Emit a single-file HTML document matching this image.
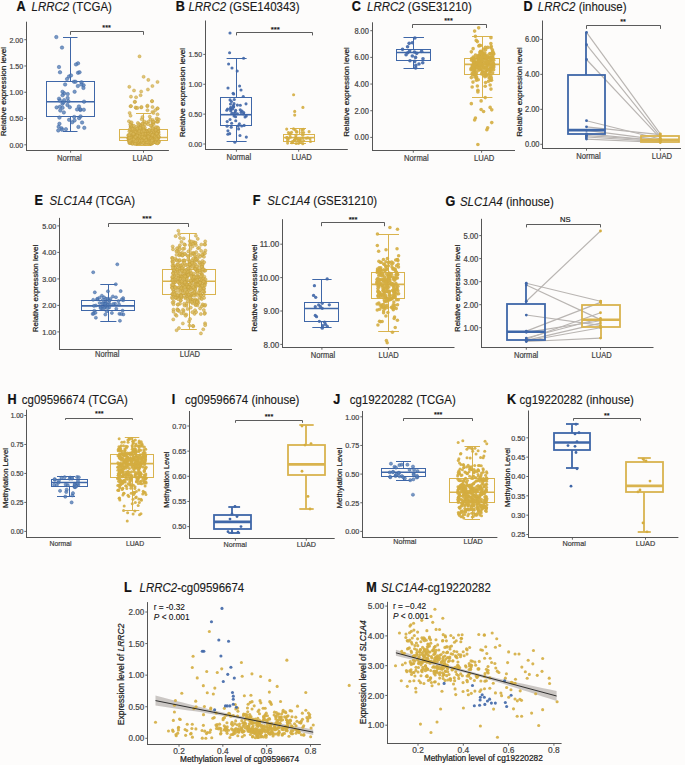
<!DOCTYPE html>
<html><head><meta charset="utf-8"><style>
html,body{margin:0;padding:0;background:#fdfcfb;}
svg{display:block;font-family:"Liberation Sans", sans-serif;}
text{stroke:currentColor;stroke-width:0.22px;}
</style></head><body>
<svg width="685" height="765" viewBox="0 0 685 765">
<rect width="685" height="765" fill="#fdfcfb"/>
<text transform="translate(16.4 10.9) scale(1 1.1)" font-size="12.6" font-weight="bold" fill="#111" color="#111">A</text>
<text transform="translate(31.5 10.9) scale(1 1.1)" font-size="11.5" fill="#1a1a1a" color="#1a1a1a" style="stroke-width:0.12px"><tspan font-style="italic">LRRC2</tspan> (TCGA)</text>
<text x="6.3" y="91.6" font-size="8.1" text-anchor="middle" font-weight="normal" font-style="normal" fill="#1a1a1a" color="#1a1a1a" transform="rotate(-90 6.3 91.6)" >Relative expression level</text>
<line x1="26.5" y1="21.7" x2="26.5" y2="151" stroke="#555555" stroke-width="1" />
<line x1="26" y1="150.5" x2="168.9" y2="150.5" stroke="#555555" stroke-width="1" />
<line x1="24.3" y1="39.7" x2="26.5" y2="39.7" stroke="#555555" stroke-width="0.9" />
<text transform="translate(23.1 42.51) scale(0.9 1.0)" font-size="7.8" text-anchor="end" font-weight="normal" font-style="normal" fill="#444444" color="#444444" >2.00</text>
<line x1="24.3" y1="65.98" x2="26.5" y2="65.98" stroke="#555555" stroke-width="0.9" />
<text transform="translate(23.1 68.78) scale(0.9 1.0)" font-size="7.8" text-anchor="end" font-weight="normal" font-style="normal" fill="#444444" color="#444444" >1.50</text>
<line x1="24.3" y1="92.25" x2="26.5" y2="92.25" stroke="#555555" stroke-width="0.9" />
<text transform="translate(23.1 95.06) scale(0.9 1.0)" font-size="7.8" text-anchor="end" font-weight="normal" font-style="normal" fill="#444444" color="#444444" >1.00</text>
<line x1="24.3" y1="118.53" x2="26.5" y2="118.53" stroke="#555555" stroke-width="0.9" />
<text transform="translate(23.1 121.33) scale(0.9 1.0)" font-size="7.8" text-anchor="end" font-weight="normal" font-style="normal" fill="#444444" color="#444444" >0.50</text>
<line x1="24.3" y1="144.8" x2="26.5" y2="144.8" stroke="#555555" stroke-width="0.9" />
<text transform="translate(23.1 147.61) scale(0.9 1.0)" font-size="7.8" text-anchor="end" font-weight="normal" font-style="normal" fill="#444444" color="#444444" >0.00</text>
<line x1="70.6" y1="150.5" x2="70.6" y2="152.7" stroke="#555555" stroke-width="0.9" />
<text transform="translate(69.4 161) scale(0.9 1.0)" font-size="8.5" text-anchor="middle" font-weight="normal" font-style="normal" fill="#444444" color="#444444" >Normal</text>
<line x1="143.5" y1="150.5" x2="143.5" y2="152.7" stroke="#555555" stroke-width="0.9" />
<text transform="translate(142.7 161) scale(0.9 1.0)" font-size="8.5" text-anchor="middle" font-weight="normal" font-style="normal" fill="#444444" color="#444444" >LUAD</text>
<path d="M70.5 34.8 V31.5 H143.5 V34.8" fill="none" stroke="#4a4a4a" stroke-width="0.9"/>
<text x="106.6" y="29.63" font-size="7.3" text-anchor="middle" font-weight="normal" font-style="normal" fill="#111" color="#111" >***</text>
<line x1="70.5" y1="37.2" x2="70.5" y2="81.5" stroke="#3f67a8" stroke-width="1.0" />
<line x1="70.5" y1="116.5" x2="70.5" y2="131.2" stroke="#3f67a8" stroke-width="1.0" />
<line x1="63" y1="37.5" x2="77.5" y2="37.5" stroke="#3f67a8" stroke-width="1.0" />
<line x1="63" y1="131.5" x2="77.5" y2="131.5" stroke="#3f67a8" stroke-width="1.0" />
<rect x="46.5" y="81.5" width="48" height="35" fill="none" stroke="#3f67a8" stroke-width="1.0"/>
<line x1="46.5" y1="101.71" x2="94.5" y2="101.71" stroke="#3f67a8" stroke-width="1.6" />
<line x1="143.5" y1="113.5" x2="143.5" y2="129.5" stroke="#d9b34e" stroke-width="1.0" />
<line x1="143.5" y1="140.5" x2="143.5" y2="145.5" stroke="#d9b34e" stroke-width="1.0" />
<line x1="136" y1="113.5" x2="151" y2="113.5" stroke="#d9b34e" stroke-width="1.0" />
<line x1="136" y1="145.5" x2="151" y2="145.5" stroke="#d9b34e" stroke-width="1.0" />
<rect x="119.5" y="129.5" width="48" height="11" fill="none" stroke="#d9b34e" stroke-width="1.0"/>
<line x1="119.5" y1="137.5" x2="167.5" y2="137.5" stroke="#d9b34e" stroke-width="1.6" />
<g fill="#5580b6" fill-opacity="0.8" stroke="#3a60a0" stroke-width="0.45"><circle cx="56.3" cy="37.07" r="1.75"/><circle cx="62" cy="47.58" r="1.75"/><circle cx="78" cy="63.35" r="1.75"/><circle cx="76" cy="64.4" r="1.75"/><circle cx="59" cy="67.03" r="1.75"/><circle cx="60" cy="72.28" r="1.75"/><circle cx="78" cy="72.81" r="1.75"/><circle cx="79.5" cy="72.28" r="1.75"/><circle cx="69" cy="76.48" r="1.75"/><circle cx="71" cy="75.43" r="1.75"/><circle cx="67" cy="79.11" r="1.75"/><circle cx="74" cy="81.74" r="1.75"/><circle cx="75.5" cy="81.74" r="1.75"/><circle cx="81.5" cy="82.27" r="1.75"/><circle cx="80.3" cy="109.98" r="1.75"/><circle cx="67.42" cy="104.96" r="1.75"/><circle cx="83.43" cy="87.91" r="1.75"/><circle cx="80.32" cy="109.36" r="1.75"/><circle cx="56.62" cy="107.39" r="1.75"/><circle cx="62.47" cy="103.67" r="1.75"/><circle cx="82.09" cy="122.5" r="1.75"/><circle cx="69.76" cy="107.2" r="1.75"/><circle cx="84.05" cy="101.68" r="1.75"/><circle cx="67.73" cy="94.05" r="1.75"/><circle cx="58.65" cy="126.73" r="1.75"/><circle cx="74.22" cy="116.95" r="1.75"/><circle cx="78.4" cy="126.9" r="1.75"/><circle cx="64.15" cy="93.27" r="1.75"/><circle cx="59.04" cy="98.71" r="1.75"/><circle cx="65.91" cy="129.18" r="1.75"/><circle cx="83.59" cy="85.2" r="1.75"/><circle cx="77.83" cy="86.02" r="1.75"/><circle cx="59.9" cy="100.55" r="1.75"/><circle cx="63.5" cy="102.35" r="1.75"/><circle cx="59.43" cy="123.77" r="1.75"/><circle cx="58.28" cy="130.44" r="1.75"/><circle cx="78.92" cy="106.42" r="1.75"/><circle cx="61.57" cy="128.35" r="1.75"/><circle cx="72.26" cy="122.24" r="1.75"/><circle cx="69.13" cy="119.82" r="1.75"/><circle cx="61.94" cy="129.73" r="1.75"/><circle cx="77.09" cy="109.44" r="1.75"/><circle cx="60.27" cy="110.53" r="1.75"/><circle cx="74.62" cy="91.74" r="1.75"/><circle cx="59.86" cy="106.86" r="1.75"/><circle cx="68.38" cy="101.19" r="1.75"/><circle cx="62.56" cy="107.76" r="1.75"/><circle cx="64.15" cy="100.15" r="1.75"/><circle cx="83.79" cy="109.75" r="1.75"/><circle cx="79.1" cy="118.13" r="1.75"/><circle cx="65.12" cy="84.48" r="1.75"/><circle cx="81.38" cy="84.57" r="1.75"/><circle cx="62.5" cy="91.84" r="1.75"/><circle cx="67.64" cy="98.03" r="1.75"/><circle cx="80.52" cy="116.39" r="1.75"/><circle cx="74.57" cy="120.4" r="1.75"/><circle cx="59.41" cy="117.62" r="1.75"/><circle cx="84.3" cy="127.85" r="1.75"/><circle cx="62.57" cy="95.3" r="1.75"/><circle cx="63.83" cy="112.41" r="1.75"/></g>
<g fill="#d8b656" fill-opacity="0.8" stroke="#c59f38" stroke-width="0.45"><circle cx="141.39" cy="136.66" r="1.55"/><circle cx="139.6" cy="141.17" r="1.55"/><circle cx="131.27" cy="138.07" r="1.55"/><circle cx="155.08" cy="134.88" r="1.55"/><circle cx="130.7" cy="126.84" r="1.55"/><circle cx="130.84" cy="131.82" r="1.55"/><circle cx="145.57" cy="137.08" r="1.55"/><circle cx="143.14" cy="123.05" r="1.55"/><circle cx="149.27" cy="140.8" r="1.55"/><circle cx="137.45" cy="130.93" r="1.55"/><circle cx="152.03" cy="126.89" r="1.55"/><circle cx="130.63" cy="138.98" r="1.55"/><circle cx="134.83" cy="143.04" r="1.55"/><circle cx="148.56" cy="141.24" r="1.55"/><circle cx="130.8" cy="135.91" r="1.55"/><circle cx="137.6" cy="133.58" r="1.55"/><circle cx="150.48" cy="119.41" r="1.55"/><circle cx="149.54" cy="141.51" r="1.55"/><circle cx="136.96" cy="137.43" r="1.55"/><circle cx="132.67" cy="132.44" r="1.55"/><circle cx="139.25" cy="138.31" r="1.55"/><circle cx="150.51" cy="143.69" r="1.55"/><circle cx="139.51" cy="130.78" r="1.55"/><circle cx="131.89" cy="128.37" r="1.55"/><circle cx="150" cy="141.27" r="1.55"/><circle cx="145.72" cy="139.51" r="1.55"/><circle cx="156.41" cy="136.01" r="1.55"/><circle cx="157.06" cy="132.74" r="1.55"/><circle cx="156.25" cy="136.74" r="1.55"/><circle cx="141.7" cy="119.22" r="1.55"/><circle cx="152.87" cy="137.91" r="1.55"/><circle cx="137.63" cy="140.55" r="1.55"/><circle cx="138.02" cy="139.77" r="1.55"/><circle cx="140.53" cy="131.7" r="1.55"/><circle cx="156.9" cy="121.81" r="1.55"/><circle cx="155.68" cy="132.39" r="1.55"/><circle cx="135.9" cy="135.44" r="1.55"/><circle cx="139.37" cy="143.09" r="1.55"/><circle cx="139.49" cy="140.64" r="1.55"/><circle cx="139.42" cy="140.29" r="1.55"/><circle cx="140.41" cy="140" r="1.55"/><circle cx="140.16" cy="133.04" r="1.55"/><circle cx="134.27" cy="139.17" r="1.55"/><circle cx="145.55" cy="130.98" r="1.55"/><circle cx="152.69" cy="136.94" r="1.55"/><circle cx="144.84" cy="139.16" r="1.55"/><circle cx="153.89" cy="136.71" r="1.55"/><circle cx="145.52" cy="134.43" r="1.55"/><circle cx="133.7" cy="130.18" r="1.55"/><circle cx="151.52" cy="139.78" r="1.55"/><circle cx="155.26" cy="138.69" r="1.55"/><circle cx="136.91" cy="142.33" r="1.55"/><circle cx="128.98" cy="121.3" r="1.55"/><circle cx="144.08" cy="138.42" r="1.55"/><circle cx="144.95" cy="139.78" r="1.55"/><circle cx="145.66" cy="142.06" r="1.55"/><circle cx="157.87" cy="136.37" r="1.55"/><circle cx="148.23" cy="136.12" r="1.55"/><circle cx="152.91" cy="135.84" r="1.55"/><circle cx="130.26" cy="140.85" r="1.55"/><circle cx="145.03" cy="143.76" r="1.55"/><circle cx="152.41" cy="122.08" r="1.55"/><circle cx="130.87" cy="136.24" r="1.55"/><circle cx="130.8" cy="142.77" r="1.55"/><circle cx="150.85" cy="136.3" r="1.55"/><circle cx="155.81" cy="142.77" r="1.55"/><circle cx="130.89" cy="126.79" r="1.55"/><circle cx="147.7" cy="133.17" r="1.55"/><circle cx="132.7" cy="138.4" r="1.55"/><circle cx="151.12" cy="143.47" r="1.55"/><circle cx="148.16" cy="138.15" r="1.55"/><circle cx="135.81" cy="142.68" r="1.55"/><circle cx="135.05" cy="132.95" r="1.55"/><circle cx="151.72" cy="143.47" r="1.55"/><circle cx="144.26" cy="141.24" r="1.55"/><circle cx="151.7" cy="125.28" r="1.55"/><circle cx="140.37" cy="141.94" r="1.55"/><circle cx="138.64" cy="142.64" r="1.55"/><circle cx="157.93" cy="129.93" r="1.55"/><circle cx="148.88" cy="130.24" r="1.55"/><circle cx="143.41" cy="141.46" r="1.55"/><circle cx="144.74" cy="140.58" r="1.55"/><circle cx="150.36" cy="140.58" r="1.55"/><circle cx="149.97" cy="141.96" r="1.55"/><circle cx="156.3" cy="140.53" r="1.55"/><circle cx="140.86" cy="124.79" r="1.55"/><circle cx="153.58" cy="132.03" r="1.55"/><circle cx="148.7" cy="137.93" r="1.55"/><circle cx="154.42" cy="138.2" r="1.55"/><circle cx="152.96" cy="141.45" r="1.55"/><circle cx="153.82" cy="138.14" r="1.55"/><circle cx="155.49" cy="142.23" r="1.55"/><circle cx="157.61" cy="143.03" r="1.55"/><circle cx="147.89" cy="131.95" r="1.55"/><circle cx="144.33" cy="121.52" r="1.55"/><circle cx="150.03" cy="130.43" r="1.55"/><circle cx="152.85" cy="123.44" r="1.55"/><circle cx="141.2" cy="135.8" r="1.55"/><circle cx="141.17" cy="140.66" r="1.55"/><circle cx="132.77" cy="136.92" r="1.55"/><circle cx="150.98" cy="139.35" r="1.55"/><circle cx="158.62" cy="141.78" r="1.55"/><circle cx="139.79" cy="142.9" r="1.55"/><circle cx="133.43" cy="142.55" r="1.55"/><circle cx="134.55" cy="137.48" r="1.55"/><circle cx="141.3" cy="136.5" r="1.55"/><circle cx="137.24" cy="139.77" r="1.55"/><circle cx="157.97" cy="121.72" r="1.55"/><circle cx="130.11" cy="136.31" r="1.55"/><circle cx="137.74" cy="133.07" r="1.55"/><circle cx="131.81" cy="125.3" r="1.55"/><circle cx="148.13" cy="140.98" r="1.55"/><circle cx="152.04" cy="143.28" r="1.55"/><circle cx="133.79" cy="131.37" r="1.55"/><circle cx="130.21" cy="140.56" r="1.55"/><circle cx="142.34" cy="123.8" r="1.55"/><circle cx="146.17" cy="135.16" r="1.55"/><circle cx="156.12" cy="128.34" r="1.55"/><circle cx="129.41" cy="131.25" r="1.55"/><circle cx="131.63" cy="143.41" r="1.55"/><circle cx="133.95" cy="131.72" r="1.55"/><circle cx="134.95" cy="140.51" r="1.55"/><circle cx="135.5" cy="140.78" r="1.55"/><circle cx="150.25" cy="139.61" r="1.55"/><circle cx="146.5" cy="131.2" r="1.55"/><circle cx="135.15" cy="129.87" r="1.55"/><circle cx="133.96" cy="128.28" r="1.55"/><circle cx="136.9" cy="142.85" r="1.55"/><circle cx="133.58" cy="140.21" r="1.55"/><circle cx="151.48" cy="143.7" r="1.55"/><circle cx="137.84" cy="138.02" r="1.55"/><circle cx="145.08" cy="132.91" r="1.55"/><circle cx="153.3" cy="140.81" r="1.55"/><circle cx="142.97" cy="135.85" r="1.55"/><circle cx="136.27" cy="135.95" r="1.55"/><circle cx="155.46" cy="128.33" r="1.55"/><circle cx="156.28" cy="140.99" r="1.55"/><circle cx="138.77" cy="141.01" r="1.55"/><circle cx="145.05" cy="140.81" r="1.55"/><circle cx="157.58" cy="127.2" r="1.55"/><circle cx="143.07" cy="138.14" r="1.55"/><circle cx="135.06" cy="135.99" r="1.55"/><circle cx="129.82" cy="136.74" r="1.55"/><circle cx="157.29" cy="136.15" r="1.55"/><circle cx="152.82" cy="138.57" r="1.55"/><circle cx="140.08" cy="139.17" r="1.55"/><circle cx="144.44" cy="142.11" r="1.55"/><circle cx="144.08" cy="140.4" r="1.55"/><circle cx="136.7" cy="133.5" r="1.55"/><circle cx="158.6" cy="137.05" r="1.55"/><circle cx="148.42" cy="138.6" r="1.55"/><circle cx="135.57" cy="137.06" r="1.55"/><circle cx="128.63" cy="135.04" r="1.55"/><circle cx="142.76" cy="140.41" r="1.55"/><circle cx="139.67" cy="136.19" r="1.55"/><circle cx="152.68" cy="135.89" r="1.55"/><circle cx="150.13" cy="140.76" r="1.55"/><circle cx="146.85" cy="140.89" r="1.55"/><circle cx="133.11" cy="141.49" r="1.55"/><circle cx="133.1" cy="141.66" r="1.55"/><circle cx="138.15" cy="129.81" r="1.55"/><circle cx="136.24" cy="143.69" r="1.55"/><circle cx="154.9" cy="138.86" r="1.55"/><circle cx="144.09" cy="140.29" r="1.55"/><circle cx="147.79" cy="140.32" r="1.55"/><circle cx="158.69" cy="136.85" r="1.55"/><circle cx="136.46" cy="126.66" r="1.55"/><circle cx="144.66" cy="136.98" r="1.55"/><circle cx="132.91" cy="138.22" r="1.55"/><circle cx="151.87" cy="140.29" r="1.55"/><circle cx="128.34" cy="138.16" r="1.55"/><circle cx="153.44" cy="129.54" r="1.55"/><circle cx="154.19" cy="139.43" r="1.55"/><circle cx="153.46" cy="141.86" r="1.55"/><circle cx="130.82" cy="142.12" r="1.55"/><circle cx="136.56" cy="141.76" r="1.55"/><circle cx="150.23" cy="142.38" r="1.55"/><circle cx="131.27" cy="127.08" r="1.55"/><circle cx="142.99" cy="135.03" r="1.55"/><circle cx="142.64" cy="138.72" r="1.55"/><circle cx="157.54" cy="121.15" r="1.55"/><circle cx="146.25" cy="140.45" r="1.55"/><circle cx="154.53" cy="131.36" r="1.55"/><circle cx="137.59" cy="130.84" r="1.55"/><circle cx="152.45" cy="142.66" r="1.55"/><circle cx="141.06" cy="142.68" r="1.55"/><circle cx="156.35" cy="141.3" r="1.55"/><circle cx="131.08" cy="129.6" r="1.55"/><circle cx="153.59" cy="124.05" r="1.55"/><circle cx="134.68" cy="142.04" r="1.55"/><circle cx="144.93" cy="127.78" r="1.55"/><circle cx="144.39" cy="139.38" r="1.55"/><circle cx="133.12" cy="139.43" r="1.55"/><circle cx="153.76" cy="140.07" r="1.55"/><circle cx="137.83" cy="139.12" r="1.55"/><circle cx="137.81" cy="143.08" r="1.55"/><circle cx="130.63" cy="141.5" r="1.55"/><circle cx="137.65" cy="142.06" r="1.55"/><circle cx="142.6" cy="133.91" r="1.55"/><circle cx="150.18" cy="139.18" r="1.55"/><circle cx="139.31" cy="142.94" r="1.55"/><circle cx="149.33" cy="139.49" r="1.55"/><circle cx="131.54" cy="141.33" r="1.55"/><circle cx="140.36" cy="133.18" r="1.55"/><circle cx="142.43" cy="140.69" r="1.55"/><circle cx="157.89" cy="129.25" r="1.55"/><circle cx="153.69" cy="133.5" r="1.55"/><circle cx="148.31" cy="142.8" r="1.55"/><circle cx="128.68" cy="139.99" r="1.55"/><circle cx="139.84" cy="138.73" r="1.55"/><circle cx="150.03" cy="137.33" r="1.55"/><circle cx="135.57" cy="136.62" r="1.55"/><circle cx="145.56" cy="139.19" r="1.55"/><circle cx="142.32" cy="136.24" r="1.55"/><circle cx="128.62" cy="140.2" r="1.55"/><circle cx="158.64" cy="141.21" r="1.55"/><circle cx="152.76" cy="120.06" r="1.55"/><circle cx="134.63" cy="134.99" r="1.55"/><circle cx="147.15" cy="134.35" r="1.55"/><circle cx="137.19" cy="142.75" r="1.55"/><circle cx="139.81" cy="138.36" r="1.55"/><circle cx="144.82" cy="130.63" r="1.55"/><circle cx="137.43" cy="142.18" r="1.55"/><circle cx="138.62" cy="127.09" r="1.55"/><circle cx="140.3" cy="139.41" r="1.55"/><circle cx="148.7" cy="134.65" r="1.55"/><circle cx="136.15" cy="138.19" r="1.55"/><circle cx="134.42" cy="136.04" r="1.55"/><circle cx="150.68" cy="125.53" r="1.55"/><circle cx="138.38" cy="139.47" r="1.55"/><circle cx="157.22" cy="119.08" r="1.55"/><circle cx="145.52" cy="140.86" r="1.55"/><circle cx="150.45" cy="141.31" r="1.55"/><circle cx="138.45" cy="131.81" r="1.55"/><circle cx="153.6" cy="141.66" r="1.55"/><circle cx="131.12" cy="139.33" r="1.55"/><circle cx="132.61" cy="129.6" r="1.55"/><circle cx="131.19" cy="125.42" r="1.55"/><circle cx="149.04" cy="143.02" r="1.55"/><circle cx="149.97" cy="133.77" r="1.55"/><circle cx="133.8" cy="125.66" r="1.55"/><circle cx="140.61" cy="138.73" r="1.55"/><circle cx="153.91" cy="140.25" r="1.55"/><circle cx="146.44" cy="139" r="1.55"/><circle cx="131.06" cy="141.87" r="1.55"/><circle cx="135.23" cy="138.85" r="1.55"/><circle cx="133.11" cy="138.47" r="1.55"/><circle cx="132.1" cy="138.25" r="1.55"/><circle cx="140.75" cy="125.85" r="1.55"/><circle cx="130.52" cy="138.68" r="1.55"/><circle cx="156.47" cy="142.51" r="1.55"/><circle cx="141.37" cy="127.75" r="1.55"/><circle cx="143.95" cy="141.68" r="1.55"/><circle cx="148.11" cy="139.66" r="1.55"/><circle cx="151.77" cy="138.19" r="1.55"/><circle cx="153.43" cy="139.21" r="1.55"/><circle cx="140.11" cy="141.5" r="1.55"/><circle cx="138.44" cy="138.77" r="1.55"/><circle cx="140.91" cy="140.27" r="1.55"/><circle cx="128.77" cy="138.2" r="1.55"/><circle cx="140.56" cy="126.72" r="1.55"/><circle cx="149.72" cy="131.45" r="1.55"/><circle cx="158.35" cy="131.25" r="1.55"/><circle cx="152.46" cy="130.14" r="1.55"/><circle cx="148.5" cy="143.28" r="1.55"/><circle cx="146.92" cy="141.11" r="1.55"/><circle cx="128.87" cy="136.65" r="1.55"/><circle cx="138.43" cy="133.83" r="1.55"/><circle cx="138.77" cy="124.08" r="1.55"/><circle cx="148.21" cy="134.09" r="1.55"/><circle cx="131.55" cy="138.72" r="1.55"/><circle cx="139.85" cy="137.21" r="1.55"/><circle cx="143.89" cy="138.59" r="1.55"/><circle cx="152.43" cy="135.84" r="1.55"/><circle cx="153.55" cy="132.18" r="1.55"/><circle cx="147.01" cy="139.19" r="1.55"/><circle cx="133.15" cy="140.96" r="1.55"/><circle cx="151.76" cy="141.09" r="1.55"/><circle cx="155.93" cy="127.11" r="1.55"/><circle cx="145.08" cy="124.3" r="1.55"/><circle cx="139.09" cy="128.53" r="1.55"/><circle cx="143.61" cy="130.2" r="1.55"/><circle cx="132.64" cy="130.47" r="1.55"/><circle cx="150.13" cy="137.46" r="1.55"/><circle cx="158.5" cy="132.29" r="1.55"/><circle cx="144.09" cy="141.63" r="1.55"/><circle cx="150.19" cy="138.55" r="1.55"/><circle cx="153.87" cy="140.71" r="1.55"/><circle cx="134.33" cy="131.64" r="1.55"/><circle cx="157.21" cy="140.17" r="1.55"/><circle cx="147.49" cy="138.05" r="1.55"/><circle cx="134.36" cy="134.67" r="1.55"/><circle cx="130.85" cy="123.05" r="1.55"/><circle cx="135.78" cy="140.9" r="1.55"/><circle cx="145.94" cy="141.33" r="1.55"/><circle cx="149.63" cy="130.65" r="1.55"/><circle cx="138.37" cy="141.76" r="1.55"/><circle cx="156.73" cy="134.23" r="1.55"/><circle cx="139.35" cy="140.14" r="1.55"/><circle cx="142.47" cy="138.04" r="1.55"/><circle cx="132.1" cy="143.09" r="1.55"/><circle cx="158.09" cy="131.78" r="1.55"/><circle cx="132.45" cy="139.87" r="1.55"/><circle cx="155.96" cy="141.22" r="1.55"/><circle cx="144.93" cy="131.8" r="1.55"/><circle cx="145.46" cy="134.6" r="1.55"/><circle cx="145.45" cy="139.23" r="1.55"/><circle cx="136.39" cy="136.78" r="1.55"/><circle cx="156.13" cy="137.6" r="1.55"/><circle cx="158.66" cy="134.25" r="1.55"/><circle cx="153.32" cy="133.68" r="1.55"/><circle cx="146.71" cy="141.25" r="1.55"/><circle cx="132.05" cy="136.64" r="1.55"/><circle cx="153.53" cy="139.88" r="1.55"/><circle cx="137.13" cy="142.08" r="1.55"/><circle cx="155.75" cy="130.02" r="1.55"/><circle cx="135.67" cy="132.27" r="1.55"/><circle cx="145.85" cy="136.99" r="1.55"/><circle cx="153.72" cy="141.24" r="1.55"/><circle cx="133.98" cy="143.32" r="1.55"/><circle cx="145.06" cy="133.95" r="1.55"/><circle cx="130.63" cy="138" r="1.55"/><circle cx="129.28" cy="142.89" r="1.55"/><circle cx="133.81" cy="137.79" r="1.55"/><circle cx="158.5" cy="142.62" r="1.55"/><circle cx="157.05" cy="137.6" r="1.55"/><circle cx="148.45" cy="136.55" r="1.55"/><circle cx="137.71" cy="135.03" r="1.55"/><circle cx="148.84" cy="136.05" r="1.55"/><circle cx="150.87" cy="136.37" r="1.55"/><circle cx="139.98" cy="141.84" r="1.55"/><circle cx="146.41" cy="139.39" r="1.55"/><circle cx="152.9" cy="139.91" r="1.55"/><circle cx="128.8" cy="138.71" r="1.55"/><circle cx="134.41" cy="135.67" r="1.55"/><circle cx="142.62" cy="132.73" r="1.55"/><circle cx="132.68" cy="143.86" r="1.55"/><circle cx="140.12" cy="134.66" r="1.55"/><circle cx="145.73" cy="138.52" r="1.55"/><circle cx="133.61" cy="129.27" r="1.55"/><circle cx="144.2" cy="142.84" r="1.55"/><circle cx="136.37" cy="134.66" r="1.55"/><circle cx="145.68" cy="139.95" r="1.55"/><circle cx="138.46" cy="128.51" r="1.55"/><circle cx="147.94" cy="141.64" r="1.55"/><circle cx="129.46" cy="138.02" r="1.55"/><circle cx="148.83" cy="138.18" r="1.55"/><circle cx="132.73" cy="137.99" r="1.55"/><circle cx="157.66" cy="140.19" r="1.55"/><circle cx="146.66" cy="143.11" r="1.55"/><circle cx="142.68" cy="134.17" r="1.55"/><circle cx="140.89" cy="128.44" r="1.55"/><circle cx="147.39" cy="137.83" r="1.55"/><circle cx="149.39" cy="141.54" r="1.55"/><circle cx="151.5" cy="136.15" r="1.55"/><circle cx="151.3" cy="133.24" r="1.55"/><circle cx="143.17" cy="138.41" r="1.55"/><circle cx="158.74" cy="137.52" r="1.55"/><circle cx="153.95" cy="122.09" r="1.55"/><circle cx="154.46" cy="141.79" r="1.55"/><circle cx="140.82" cy="140.09" r="1.55"/><circle cx="141.58" cy="143.2" r="1.55"/><circle cx="145.62" cy="140.6" r="1.55"/><circle cx="156" cy="140.73" r="1.55"/><circle cx="144.39" cy="141.39" r="1.55"/><circle cx="144.37" cy="140.58" r="1.55"/><circle cx="141.53" cy="138.51" r="1.55"/><circle cx="155.97" cy="138.09" r="1.55"/><circle cx="138.11" cy="137.79" r="1.55"/><circle cx="129.97" cy="142.96" r="1.55"/><circle cx="150.5" cy="134.64" r="1.55"/><circle cx="155.84" cy="141.32" r="1.55"/><circle cx="150.7" cy="142.08" r="1.55"/><circle cx="146.58" cy="140.18" r="1.55"/><circle cx="151.31" cy="142.76" r="1.55"/><circle cx="137.63" cy="136.85" r="1.55"/><circle cx="146.46" cy="141.54" r="1.55"/><circle cx="130.44" cy="137.82" r="1.55"/><circle cx="132.11" cy="139.36" r="1.55"/><circle cx="141.98" cy="140.29" r="1.55"/><circle cx="143.68" cy="129.15" r="1.55"/><circle cx="140.44" cy="129.25" r="1.55"/><circle cx="129.89" cy="137.07" r="1.55"/><circle cx="149.56" cy="141.22" r="1.55"/><circle cx="144.4" cy="141.68" r="1.55"/><circle cx="135.62" cy="135.67" r="1.55"/><circle cx="137.67" cy="139.7" r="1.55"/><circle cx="140.4" cy="140.87" r="1.55"/><circle cx="135.52" cy="140.59" r="1.55"/><circle cx="130.39" cy="141.74" r="1.55"/><circle cx="156.19" cy="141.42" r="1.55"/><circle cx="157.87" cy="138.56" r="1.55"/><circle cx="148.67" cy="121.63" r="1.55"/><circle cx="154.81" cy="137.45" r="1.55"/><circle cx="141.19" cy="139.91" r="1.55"/><circle cx="152.94" cy="142.78" r="1.55"/><circle cx="135.09" cy="136.07" r="1.55"/><circle cx="151.15" cy="137.6" r="1.55"/><circle cx="145.64" cy="142.04" r="1.55"/><circle cx="155.94" cy="141.72" r="1.55"/><circle cx="131.32" cy="137.69" r="1.55"/><circle cx="152.55" cy="128.26" r="1.55"/><circle cx="132.09" cy="132.65" r="1.55"/><circle cx="144.75" cy="136.13" r="1.55"/><circle cx="157.4" cy="139.12" r="1.55"/><circle cx="128.32" cy="135.29" r="1.55"/><circle cx="135.76" cy="137.51" r="1.55"/><circle cx="137.46" cy="141.83" r="1.55"/><circle cx="138.24" cy="139.32" r="1.55"/><circle cx="130.22" cy="124.51" r="1.55"/><circle cx="155.69" cy="138.85" r="1.55"/><circle cx="153.25" cy="121.8" r="1.55"/><circle cx="140.46" cy="137.7" r="1.55"/><circle cx="139.21" cy="136.54" r="1.55"/><circle cx="146.22" cy="139.33" r="1.55"/><circle cx="129.7" cy="142.36" r="1.55"/><circle cx="129.25" cy="141.42" r="1.55"/><circle cx="155.79" cy="132.47" r="1.55"/><circle cx="137.72" cy="132.86" r="1.55"/><circle cx="143.55" cy="129.02" r="1.55"/><circle cx="156.88" cy="133.2" r="1.55"/><circle cx="158.2" cy="128.14" r="1.55"/><circle cx="142.76" cy="138.85" r="1.55"/><circle cx="134.62" cy="138.65" r="1.55"/><circle cx="137.34" cy="128.64" r="1.55"/><circle cx="156.53" cy="139.25" r="1.55"/><circle cx="155.74" cy="142.26" r="1.55"/><circle cx="134.28" cy="138.66" r="1.55"/><circle cx="153.94" cy="140.04" r="1.55"/><circle cx="139.14" cy="132.78" r="1.55"/><circle cx="142.76" cy="140.66" r="1.55"/><circle cx="133.56" cy="141.65" r="1.55"/><circle cx="155.22" cy="139.16" r="1.55"/><circle cx="158.76" cy="119.32" r="1.55"/><circle cx="134.48" cy="137.72" r="1.55"/><circle cx="147.65" cy="136.43" r="1.55"/><circle cx="134.16" cy="137.39" r="1.55"/><circle cx="155.23" cy="135.48" r="1.55"/><circle cx="129.83" cy="129.34" r="1.55"/><circle cx="131.55" cy="122.33" r="1.55"/><circle cx="150.51" cy="142.83" r="1.55"/><circle cx="137.88" cy="122.94" r="1.55"/><circle cx="155.85" cy="137.46" r="1.55"/><circle cx="154.91" cy="139.11" r="1.55"/><circle cx="150.12" cy="138.38" r="1.55"/><circle cx="132.43" cy="128.84" r="1.55"/><circle cx="149.6" cy="141.57" r="1.55"/><circle cx="157" cy="133.93" r="1.55"/><circle cx="141.92" cy="131.54" r="1.55"/><circle cx="130.72" cy="138.15" r="1.55"/><circle cx="135.13" cy="143.66" r="1.55"/><circle cx="137.7" cy="139.21" r="1.55"/><circle cx="150.04" cy="138.49" r="1.55"/><circle cx="134.31" cy="141.77" r="1.55"/><circle cx="133.84" cy="138.75" r="1.55"/><circle cx="135.5" cy="139.43" r="1.55"/><circle cx="148.64" cy="139.01" r="1.55"/><circle cx="152.49" cy="140.87" r="1.55"/><circle cx="139.7" cy="140.85" r="1.55"/><circle cx="148.56" cy="136.87" r="1.55"/><circle cx="155.36" cy="135.35" r="1.55"/><circle cx="146.35" cy="139.9" r="1.55"/><circle cx="135.31" cy="137.96" r="1.55"/><circle cx="137.51" cy="142.38" r="1.55"/><circle cx="156.66" cy="133.63" r="1.55"/><circle cx="148.71" cy="140.76" r="1.55"/><circle cx="136.77" cy="136.06" r="1.55"/><circle cx="147.88" cy="141.24" r="1.55"/><circle cx="131.05" cy="139.93" r="1.55"/><circle cx="158.38" cy="136.06" r="1.55"/><circle cx="141.77" cy="142.01" r="1.55"/><circle cx="144.47" cy="137.66" r="1.55"/><circle cx="144.54" cy="137.86" r="1.55"/><circle cx="129.69" cy="140.71" r="1.55"/><circle cx="146.65" cy="122.5" r="1.55"/><circle cx="137.01" cy="135.45" r="1.55"/><circle cx="135.98" cy="142.34" r="1.55"/><circle cx="152.88" cy="139.89" r="1.55"/><circle cx="130.97" cy="132.76" r="1.55"/><circle cx="137.03" cy="139.92" r="1.55"/><circle cx="151.42" cy="141.95" r="1.55"/><circle cx="135.82" cy="141.95" r="1.55"/><circle cx="136.84" cy="140.83" r="1.55"/><circle cx="145.07" cy="137.36" r="1.55"/><circle cx="134" cy="140.42" r="1.55"/><circle cx="155.75" cy="137.33" r="1.55"/><circle cx="158.52" cy="141.59" r="1.55"/><circle cx="129.33" cy="135.12" r="1.55"/><circle cx="142.43" cy="136.91" r="1.55"/><circle cx="151.27" cy="138.21" r="1.55"/><circle cx="140.07" cy="127.85" r="1.55"/><circle cx="156.74" cy="139.16" r="1.55"/><circle cx="143.6" cy="139.13" r="1.55"/><circle cx="133.8" cy="139.35" r="1.55"/><circle cx="145.31" cy="138.01" r="1.55"/><circle cx="148.04" cy="124.22" r="1.55"/><circle cx="139.3" cy="131.11" r="1.55"/><circle cx="148.44" cy="142.28" r="1.55"/><circle cx="152.26" cy="139.63" r="1.55"/><circle cx="144.11" cy="140.91" r="1.55"/><circle cx="143.77" cy="130.67" r="1.55"/><circle cx="154.17" cy="135.99" r="1.55"/><circle cx="149.24" cy="129.81" r="1.55"/><circle cx="144.23" cy="137.8" r="1.55"/><circle cx="157.42" cy="143.2" r="1.55"/><circle cx="133.62" cy="134.25" r="1.55"/><circle cx="152.16" cy="135.97" r="1.55"/><circle cx="133.35" cy="133.75" r="1.55"/><circle cx="146.91" cy="142.21" r="1.55"/><circle cx="135.5" cy="136.95" r="1.55"/><circle cx="141.78" cy="140.56" r="1.55"/><circle cx="151.95" cy="140.55" r="1.55"/><circle cx="152.37" cy="135.04" r="1.55"/><circle cx="152.51" cy="135.05" r="1.55"/><circle cx="135.52" cy="141.2" r="1.55"/><circle cx="143.27" cy="142.93" r="1.55"/><circle cx="135.07" cy="143.78" r="1.55"/><circle cx="146.05" cy="140.16" r="1.55"/><circle cx="143.57" cy="126.74" r="1.55"/><circle cx="129.38" cy="137.76" r="1.55"/><circle cx="139.53" cy="56.38" r="1.55"/><circle cx="143.62" cy="76.82" r="1.55"/><circle cx="148.32" cy="79.88" r="1.55"/><circle cx="157.51" cy="81.93" r="1.55"/><circle cx="129.31" cy="86.83" r="1.55"/><circle cx="152.41" cy="86.01" r="1.55"/><circle cx="134.01" cy="90.51" r="1.55"/><circle cx="147.91" cy="89.49" r="1.55"/><circle cx="141.16" cy="91.53" r="1.55"/><circle cx="130.95" cy="96.64" r="1.55"/><circle cx="136.06" cy="97.25" r="1.55"/><circle cx="140.55" cy="95.21" r="1.55"/><circle cx="135.03" cy="101.75" r="1.55"/><circle cx="152" cy="101.34" r="1.55"/><circle cx="130.54" cy="106.25" r="1.55"/><circle cx="136.06" cy="107.88" r="1.55"/><circle cx="141.16" cy="107.47" r="1.55"/><circle cx="147.3" cy="106.25" r="1.55"/><circle cx="157.51" cy="108.49" r="1.55"/><circle cx="152.41" cy="111.97" r="1.55"/><circle cx="134.67" cy="101.96" r="1.55"/><circle cx="131.01" cy="106.08" r="1.55"/><circle cx="135.59" cy="107.45" r="1.55"/><circle cx="137.42" cy="107.9" r="1.55"/><circle cx="141.53" cy="106.99" r="1.55"/><circle cx="147.48" cy="105.62" r="1.55"/><circle cx="152.05" cy="101.04" r="1.55"/><circle cx="152.51" cy="106.99" r="1.55"/><circle cx="157.54" cy="108.36" r="1.55"/><circle cx="155.26" cy="110.19" r="1.55"/><circle cx="157.54" cy="114.31" r="1.55"/><circle cx="156.63" cy="118.43" r="1.55"/><circle cx="142.45" cy="117.05" r="1.55"/><circle cx="147.48" cy="110.19" r="1.55"/><circle cx="129.64" cy="112.94" r="1.55"/><circle cx="130.55" cy="115.68" r="1.55"/><circle cx="153.43" cy="112.94" r="1.55"/><circle cx="149.77" cy="116.6" r="1.55"/></g>
<text transform="translate(175.8 10.9) scale(1 1.1)" font-size="12.6" font-weight="bold" fill="#111" color="#111">B</text>
<text transform="translate(188.4 10.9) scale(1 1.1)" font-size="11.5" fill="#1a1a1a" color="#1a1a1a" style="stroke-width:0.12px"><tspan font-style="italic">LRRC2</tspan> (GSE140343)</text>
<text x="184.8" y="92.6" font-size="8.1" text-anchor="middle" font-weight="normal" font-style="normal" fill="#1a1a1a" color="#1a1a1a" transform="rotate(-90 184.8 92.6)" >Relative expression level</text>
<line x1="205.5" y1="20.5" x2="205.5" y2="150" stroke="#555555" stroke-width="1" />
<line x1="205" y1="149.5" x2="347.8" y2="149.5" stroke="#555555" stroke-width="1" />
<line x1="203.3" y1="54.4" x2="205.5" y2="54.4" stroke="#555555" stroke-width="0.9" />
<text transform="translate(202.1 57.21) scale(0.9 1.0)" font-size="7.8" text-anchor="end" font-weight="normal" font-style="normal" fill="#444444" color="#444444" >1.50</text>
<line x1="203.3" y1="84.27" x2="205.5" y2="84.27" stroke="#555555" stroke-width="0.9" />
<text transform="translate(202.1 87.07) scale(0.9 1.0)" font-size="7.8" text-anchor="end" font-weight="normal" font-style="normal" fill="#444444" color="#444444" >1.00</text>
<line x1="203.3" y1="114.13" x2="205.5" y2="114.13" stroke="#555555" stroke-width="0.9" />
<text transform="translate(202.1 116.94) scale(0.9 1.0)" font-size="7.8" text-anchor="end" font-weight="normal" font-style="normal" fill="#444444" color="#444444" >0.50</text>
<line x1="203.3" y1="144" x2="205.5" y2="144" stroke="#555555" stroke-width="0.9" />
<text transform="translate(202.1 146.81) scale(0.9 1.0)" font-size="7.8" text-anchor="end" font-weight="normal" font-style="normal" fill="#444444" color="#444444" >0.00</text>
<line x1="236.4" y1="149.5" x2="236.4" y2="151.7" stroke="#555555" stroke-width="0.9" />
<text transform="translate(238.8 160.2) scale(0.9 1.0)" font-size="8.5" text-anchor="middle" font-weight="normal" font-style="normal" fill="#444444" color="#444444" >Normal</text>
<line x1="298.7" y1="149.5" x2="298.7" y2="151.7" stroke="#555555" stroke-width="0.9" />
<text transform="translate(301.6 160.2) scale(0.9 1.0)" font-size="8.5" text-anchor="middle" font-weight="normal" font-style="normal" fill="#444444" color="#444444" >LUAD</text>
<path d="M236.5 35.4 V32.5 H312.5 V35.4" fill="none" stroke="#4a4a4a" stroke-width="0.9"/>
<text x="275.2" y="32.07" font-size="7.8" text-anchor="middle" font-weight="normal" font-style="normal" fill="#111" color="#111" >***</text>
<line x1="236.5" y1="58.3" x2="236.5" y2="97.5" stroke="#3f67a8" stroke-width="1.0" />
<line x1="236.5" y1="125.5" x2="236.5" y2="141.7" stroke="#3f67a8" stroke-width="1.0" />
<line x1="226.6" y1="58.5" x2="246.6" y2="58.5" stroke="#3f67a8" stroke-width="1.0" />
<line x1="226.6" y1="141.5" x2="246.6" y2="141.5" stroke="#3f67a8" stroke-width="1.0" />
<rect x="220.5" y="97.5" width="31" height="28" fill="none" stroke="#3f67a8" stroke-width="1.0"/>
<line x1="220.5" y1="114.7" x2="251.5" y2="114.7" stroke="#3f67a8" stroke-width="1.6" />
<line x1="299.5" y1="128.4" x2="299.5" y2="134.5" stroke="#d9b34e" stroke-width="1.0" />
<line x1="299.5" y1="141.5" x2="299.5" y2="143.5" stroke="#d9b34e" stroke-width="1.0" />
<line x1="290" y1="128.5" x2="306" y2="128.5" stroke="#d9b34e" stroke-width="1.0" />
<line x1="290" y1="143.5" x2="306" y2="143.5" stroke="#d9b34e" stroke-width="1.0" />
<rect x="283.5" y="134.5" width="31" height="7" fill="none" stroke="#d9b34e" stroke-width="1.0"/>
<line x1="283.5" y1="137.6" x2="314.5" y2="137.6" stroke="#d9b34e" stroke-width="1.6" />
<g fill="#3f66a7" fill-opacity="0.9"><circle cx="230" cy="33" r="1.55"/><circle cx="229.6" cy="52.8" r="1.55"/><circle cx="243.6" cy="58.3" r="1.55"/><circle cx="228.6" cy="64" r="1.55"/><circle cx="232" cy="68" r="1.55"/><circle cx="237.2" cy="71" r="1.55"/><circle cx="228" cy="88" r="1.55"/><circle cx="239.6" cy="86" r="1.55"/><circle cx="241" cy="90" r="1.55"/><circle cx="234.89" cy="142.21" r="1.55"/><circle cx="227.93" cy="130.85" r="1.55"/><circle cx="227.09" cy="126.14" r="1.55"/><circle cx="246.32" cy="137.11" r="1.55"/><circle cx="241.67" cy="126.02" r="1.55"/><circle cx="241.08" cy="112.41" r="1.55"/><circle cx="231" cy="109.12" r="1.55"/><circle cx="231.46" cy="101.43" r="1.55"/><circle cx="237.44" cy="113.77" r="1.55"/><circle cx="231.23" cy="127.15" r="1.55"/><circle cx="235.63" cy="110.18" r="1.55"/><circle cx="245.05" cy="117.07" r="1.55"/><circle cx="233.68" cy="94.01" r="1.55"/><circle cx="233.14" cy="93.23" r="1.55"/><circle cx="246.02" cy="103.86" r="1.55"/><circle cx="238.62" cy="128.9" r="1.55"/><circle cx="227.19" cy="121.6" r="1.55"/><circle cx="234.46" cy="113.05" r="1.55"/><circle cx="239.4" cy="123.84" r="1.55"/><circle cx="227.57" cy="109.07" r="1.55"/><circle cx="233.26" cy="107.13" r="1.55"/><circle cx="240.29" cy="105.31" r="1.55"/><circle cx="243.69" cy="112.6" r="1.55"/><circle cx="238.21" cy="125.89" r="1.55"/><circle cx="244.13" cy="125.39" r="1.55"/><circle cx="235.65" cy="116.8" r="1.55"/><circle cx="234.26" cy="99.47" r="1.55"/><circle cx="243.26" cy="96.52" r="1.55"/><circle cx="234.02" cy="103.64" r="1.55"/><circle cx="242.03" cy="110.99" r="1.55"/><circle cx="230.71" cy="107.25" r="1.55"/><circle cx="233.35" cy="105.5" r="1.55"/><circle cx="230.07" cy="99.89" r="1.55"/><circle cx="237.39" cy="105.1" r="1.55"/><circle cx="229.68" cy="133.67" r="1.55"/><circle cx="230.47" cy="103.94" r="1.55"/><circle cx="230.69" cy="110.72" r="1.55"/><circle cx="235.75" cy="120.82" r="1.55"/><circle cx="232.57" cy="109.05" r="1.55"/><circle cx="235.34" cy="111.88" r="1.55"/><circle cx="246.27" cy="115.97" r="1.55"/><circle cx="239.98" cy="135.5" r="1.55"/><circle cx="243.65" cy="114" r="1.55"/><circle cx="230.49" cy="108.68" r="1.55"/><circle cx="234.06" cy="115.91" r="1.55"/><circle cx="227.86" cy="134.3" r="1.55"/><circle cx="240.23" cy="109.86" r="1.55"/><circle cx="233.66" cy="106.73" r="1.55"/><circle cx="231.89" cy="113.17" r="1.55"/><circle cx="226.77" cy="110.24" r="1.55"/><circle cx="230.04" cy="119.53" r="1.55"/><circle cx="231.65" cy="123.19" r="1.55"/></g>
<g fill="#d4ad40" fill-opacity="0.9"><circle cx="293.6" cy="94.7" r="1.55"/><circle cx="302.9" cy="107.4" r="1.55"/><circle cx="294.7" cy="111.4" r="1.55"/><circle cx="294.7" cy="115.1" r="1.55"/><circle cx="287.12" cy="137.66" r="1.55"/><circle cx="286.71" cy="129.1" r="1.55"/><circle cx="301.86" cy="132.47" r="1.55"/><circle cx="300.25" cy="139.67" r="1.55"/><circle cx="306.32" cy="138.18" r="1.55"/><circle cx="310.49" cy="141.52" r="1.55"/><circle cx="293.55" cy="128.89" r="1.55"/><circle cx="302.86" cy="138.2" r="1.55"/><circle cx="309.08" cy="131.65" r="1.55"/><circle cx="291.51" cy="132.33" r="1.55"/><circle cx="303.33" cy="129.37" r="1.55"/><circle cx="302.76" cy="143.67" r="1.55"/><circle cx="309.98" cy="138.81" r="1.55"/><circle cx="307.81" cy="137.8" r="1.55"/><circle cx="291.97" cy="142.66" r="1.55"/><circle cx="301.91" cy="129.77" r="1.55"/><circle cx="288.35" cy="138.75" r="1.55"/><circle cx="296.79" cy="131.57" r="1.55"/><circle cx="295.91" cy="135.62" r="1.55"/><circle cx="287.6" cy="143.11" r="1.55"/><circle cx="295.68" cy="137.65" r="1.55"/><circle cx="294.3" cy="140.16" r="1.55"/><circle cx="298.53" cy="143.34" r="1.55"/><circle cx="293.1" cy="141.57" r="1.55"/><circle cx="290.06" cy="134.4" r="1.55"/><circle cx="296.16" cy="143.49" r="1.55"/><circle cx="297.98" cy="138.96" r="1.55"/><circle cx="290.27" cy="137.16" r="1.55"/><circle cx="302.73" cy="135.23" r="1.55"/><circle cx="292.1" cy="141.81" r="1.55"/><circle cx="288.43" cy="132.6" r="1.55"/><circle cx="294.65" cy="139.8" r="1.55"/><circle cx="296.66" cy="132.3" r="1.55"/><circle cx="289.87" cy="133.26" r="1.55"/><circle cx="300.67" cy="141.63" r="1.55"/><circle cx="303.63" cy="140.7" r="1.55"/><circle cx="299.93" cy="139.48" r="1.55"/><circle cx="303.6" cy="132.5" r="1.55"/><circle cx="286.68" cy="137.46" r="1.55"/><circle cx="295.88" cy="137.77" r="1.55"/><circle cx="295.21" cy="130.03" r="1.55"/><circle cx="287.67" cy="140.35" r="1.55"/><circle cx="296.21" cy="139.29" r="1.55"/><circle cx="287.47" cy="138.44" r="1.55"/><circle cx="298.49" cy="140.52" r="1.55"/></g>
<text transform="translate(351.8 10.9) scale(1 1.1)" font-size="12.6" font-weight="bold" fill="#111" color="#111">C</text>
<text transform="translate(367 10.9) scale(1 1.1)" font-size="11.5" fill="#1a1a1a" color="#1a1a1a" style="stroke-width:0.12px"><tspan font-style="italic">LRRC2</tspan> (GSE31210)</text>
<text x="348.9" y="92" font-size="8.1" text-anchor="middle" font-weight="normal" font-style="normal" fill="#1a1a1a" color="#1a1a1a" transform="rotate(-90 348.9 92)" >Relative expression level</text>
<line x1="372.5" y1="22.3" x2="372.5" y2="151" stroke="#555555" stroke-width="1" />
<line x1="372" y1="150.5" x2="515" y2="150.5" stroke="#555555" stroke-width="1" />
<line x1="370.3" y1="30.7" x2="372.5" y2="30.7" stroke="#555555" stroke-width="0.9" />
<text transform="translate(368.9 33.69) scale(0.9 1.0)" font-size="8.3" text-anchor="end" font-weight="normal" font-style="normal" fill="#444444" color="#444444" >8.00</text>
<line x1="370.3" y1="57.38" x2="372.5" y2="57.38" stroke="#555555" stroke-width="0.9" />
<text transform="translate(368.9 60.36) scale(0.9 1.0)" font-size="8.3" text-anchor="end" font-weight="normal" font-style="normal" fill="#444444" color="#444444" >6.00</text>
<line x1="370.3" y1="84.05" x2="372.5" y2="84.05" stroke="#555555" stroke-width="0.9" />
<text transform="translate(368.9 87.04) scale(0.9 1.0)" font-size="8.3" text-anchor="end" font-weight="normal" font-style="normal" fill="#444444" color="#444444" >4.00</text>
<line x1="370.3" y1="110.73" x2="372.5" y2="110.73" stroke="#555555" stroke-width="0.9" />
<text transform="translate(368.9 113.71) scale(0.9 1.0)" font-size="8.3" text-anchor="end" font-weight="normal" font-style="normal" fill="#444444" color="#444444" >2.00</text>
<line x1="370.3" y1="137.4" x2="372.5" y2="137.4" stroke="#555555" stroke-width="0.9" />
<text transform="translate(368.9 140.39) scale(0.9 1.0)" font-size="8.3" text-anchor="end" font-weight="normal" font-style="normal" fill="#444444" color="#444444" >0.00</text>
<line x1="413.3" y1="150.5" x2="413.3" y2="152.7" stroke="#555555" stroke-width="0.9" />
<text transform="translate(416.4 160.6) scale(0.9 1.0)" font-size="8.5" text-anchor="middle" font-weight="normal" font-style="normal" fill="#444444" color="#444444" >Normal</text>
<line x1="481.6" y1="150.5" x2="481.6" y2="152.7" stroke="#555555" stroke-width="0.9" />
<text transform="translate(484.2 160.6) scale(0.9 1.0)" font-size="8.5" text-anchor="middle" font-weight="normal" font-style="normal" fill="#444444" color="#444444" >LUAD</text>
<path d="M412.5 28 V24.5 H486.5 V28" fill="none" stroke="#4a4a4a" stroke-width="0.9"/>
<text x="448.5" y="23.43" font-size="7.3" text-anchor="middle" font-weight="normal" font-style="normal" fill="#111" color="#111" >***</text>
<line x1="413.5" y1="37.5" x2="413.5" y2="49.5" stroke="#3f67a8" stroke-width="1.0" />
<line x1="413.5" y1="60.5" x2="413.5" y2="68.3" stroke="#3f67a8" stroke-width="1.0" />
<line x1="403.5" y1="37.5" x2="424" y2="37.5" stroke="#3f67a8" stroke-width="1.0" />
<line x1="403.5" y1="68.5" x2="424" y2="68.5" stroke="#3f67a8" stroke-width="1.0" />
<rect x="396.5" y="49.5" width="34" height="11" fill="none" stroke="#3f67a8" stroke-width="1.0"/>
<line x1="396.5" y1="52.5" x2="430.5" y2="52.5" stroke="#3f67a8" stroke-width="1.6" />
<line x1="482.5" y1="36.3" x2="482.5" y2="58.5" stroke="#d9b34e" stroke-width="1.0" />
<line x1="482.5" y1="74.5" x2="482.5" y2="97.2" stroke="#d9b34e" stroke-width="1.0" />
<line x1="472" y1="36.5" x2="492.4" y2="36.5" stroke="#d9b34e" stroke-width="1.0" />
<line x1="472" y1="97.5" x2="492.4" y2="97.5" stroke="#d9b34e" stroke-width="1.0" />
<rect x="464.5" y="58.5" width="35" height="16" fill="none" stroke="#d9b34e" stroke-width="1.0"/>
<line x1="464.5" y1="64.4" x2="499.5" y2="64.4" stroke="#d9b34e" stroke-width="1.6" />
<g fill="#3f66a7" fill-opacity="0.9"><circle cx="414.89" cy="38.04" r="1.8"/><circle cx="412.32" cy="42.7" r="1.8"/><circle cx="409.16" cy="43.37" r="1.8"/><circle cx="407.57" cy="46.71" r="1.8"/><circle cx="402.52" cy="49.37" r="1.8"/><circle cx="409.64" cy="50.71" r="1.8"/><circle cx="421.62" cy="51.37" r="1.8"/><circle cx="414.45" cy="52.04" r="1.8"/><circle cx="407.76" cy="52.71" r="1.8"/><circle cx="416.7" cy="53.37" r="1.8"/><circle cx="406.09" cy="54.71" r="1.8"/><circle cx="412.32" cy="56.04" r="1.8"/><circle cx="415.54" cy="57.38" r="1.8"/><circle cx="423" cy="58.71" r="1.8"/><circle cx="409.98" cy="60.71" r="1.8"/><circle cx="414.68" cy="61.38" r="1.8"/><circle cx="422.73" cy="62.71" r="1.8"/><circle cx="418.97" cy="64.04" r="1.8"/><circle cx="415.8" cy="65.38" r="1.8"/><circle cx="415.66" cy="68.05" r="1.8"/></g>
<g fill="#d4ad40" fill-opacity="0.9"><circle cx="486.45" cy="58.48" r="1.8"/><circle cx="474.88" cy="71.58" r="1.8"/><circle cx="473.23" cy="58.24" r="1.8"/><circle cx="474.09" cy="66.25" r="1.8"/><circle cx="478.86" cy="46.05" r="1.8"/><circle cx="480.71" cy="56.71" r="1.8"/><circle cx="471.02" cy="69.66" r="1.8"/><circle cx="482.36" cy="61.18" r="1.8"/><circle cx="480.08" cy="64.78" r="1.8"/><circle cx="478.19" cy="56.08" r="1.8"/><circle cx="483.15" cy="55.01" r="1.8"/><circle cx="492.7" cy="66.55" r="1.8"/><circle cx="475.51" cy="55.14" r="1.8"/><circle cx="491.05" cy="58.11" r="1.8"/><circle cx="478.18" cy="64.14" r="1.8"/><circle cx="488.15" cy="61" r="1.8"/><circle cx="473.29" cy="57.09" r="1.8"/><circle cx="493.51" cy="66.28" r="1.8"/><circle cx="480.69" cy="69.56" r="1.8"/><circle cx="492.94" cy="51.68" r="1.8"/><circle cx="475.85" cy="63.31" r="1.8"/><circle cx="480.19" cy="68.8" r="1.8"/><circle cx="487.04" cy="59.11" r="1.8"/><circle cx="474.89" cy="76.9" r="1.8"/><circle cx="477.09" cy="62.83" r="1.8"/><circle cx="486.38" cy="75.85" r="1.8"/><circle cx="492.6" cy="67.27" r="1.8"/><circle cx="478.21" cy="79.72" r="1.8"/><circle cx="475.02" cy="69.94" r="1.8"/><circle cx="479.02" cy="55.13" r="1.8"/><circle cx="493.56" cy="65.01" r="1.8"/><circle cx="474.21" cy="74.49" r="1.8"/><circle cx="485.4" cy="47.39" r="1.8"/><circle cx="479.5" cy="69.12" r="1.8"/><circle cx="485.61" cy="49.72" r="1.8"/><circle cx="475.68" cy="68.16" r="1.8"/><circle cx="484.97" cy="76.77" r="1.8"/><circle cx="491.22" cy="46.41" r="1.8"/><circle cx="490.5" cy="67.29" r="1.8"/><circle cx="485.26" cy="56.37" r="1.8"/><circle cx="482.41" cy="52.41" r="1.8"/><circle cx="483.86" cy="75.38" r="1.8"/><circle cx="473.43" cy="62.67" r="1.8"/><circle cx="490.06" cy="68.6" r="1.8"/><circle cx="486.67" cy="57.78" r="1.8"/><circle cx="481.22" cy="63.45" r="1.8"/><circle cx="486.11" cy="74.91" r="1.8"/><circle cx="480.45" cy="62.8" r="1.8"/><circle cx="479.65" cy="56.33" r="1.8"/><circle cx="476.09" cy="66.03" r="1.8"/><circle cx="484.62" cy="58.17" r="1.8"/><circle cx="483.97" cy="68.2" r="1.8"/><circle cx="482.65" cy="63.79" r="1.8"/><circle cx="471.54" cy="60.13" r="1.8"/><circle cx="485.23" cy="62.01" r="1.8"/><circle cx="481.08" cy="51.7" r="1.8"/><circle cx="484.45" cy="54.64" r="1.8"/><circle cx="484.48" cy="55.61" r="1.8"/><circle cx="492.23" cy="56.72" r="1.8"/><circle cx="474.29" cy="61.9" r="1.8"/><circle cx="481.58" cy="73.96" r="1.8"/><circle cx="493.64" cy="53.6" r="1.8"/><circle cx="487.77" cy="47.4" r="1.8"/><circle cx="478" cy="61.26" r="1.8"/><circle cx="487.75" cy="65.63" r="1.8"/><circle cx="493.56" cy="63.65" r="1.8"/><circle cx="480.05" cy="52.27" r="1.8"/><circle cx="490.75" cy="60.7" r="1.8"/><circle cx="473.71" cy="72.3" r="1.8"/><circle cx="493.57" cy="64.89" r="1.8"/><circle cx="482.09" cy="70.33" r="1.8"/><circle cx="476.18" cy="65.15" r="1.8"/><circle cx="490.12" cy="71.49" r="1.8"/><circle cx="485.73" cy="71.3" r="1.8"/><circle cx="492.37" cy="49.76" r="1.8"/><circle cx="489.87" cy="53.73" r="1.8"/><circle cx="489.15" cy="78.02" r="1.8"/><circle cx="482.57" cy="72.27" r="1.8"/><circle cx="493.65" cy="67.39" r="1.8"/><circle cx="472.29" cy="66.86" r="1.8"/><circle cx="490.81" cy="75.94" r="1.8"/><circle cx="487.17" cy="55.2" r="1.8"/><circle cx="476.57" cy="78.03" r="1.8"/><circle cx="489.36" cy="56.96" r="1.8"/><circle cx="481.24" cy="56.95" r="1.8"/><circle cx="483.14" cy="66.66" r="1.8"/><circle cx="490.71" cy="69.29" r="1.8"/><circle cx="475.31" cy="62.76" r="1.8"/><circle cx="477.23" cy="61.95" r="1.8"/><circle cx="485.61" cy="82.46" r="1.8"/><circle cx="472.49" cy="74.75" r="1.8"/><circle cx="483.56" cy="58.46" r="1.8"/><circle cx="488.9" cy="64.3" r="1.8"/><circle cx="482.09" cy="67.1" r="1.8"/><circle cx="476.36" cy="72.37" r="1.8"/><circle cx="489.2" cy="69.74" r="1.8"/><circle cx="490.47" cy="70.28" r="1.8"/><circle cx="488.53" cy="74.75" r="1.8"/><circle cx="483.43" cy="49.31" r="1.8"/><circle cx="491.63" cy="58.93" r="1.8"/><circle cx="489.13" cy="61.35" r="1.8"/><circle cx="474.29" cy="61.52" r="1.8"/><circle cx="479.21" cy="66.77" r="1.8"/><circle cx="473.11" cy="48.63" r="1.8"/><circle cx="471.65" cy="58.66" r="1.8"/><circle cx="478.75" cy="63.57" r="1.8"/><circle cx="490.69" cy="64.42" r="1.8"/><circle cx="489.98" cy="61.48" r="1.8"/><circle cx="473.5" cy="73.72" r="1.8"/><circle cx="474.98" cy="66.21" r="1.8"/><circle cx="479.74" cy="69" r="1.8"/><circle cx="490.33" cy="57.64" r="1.8"/><circle cx="484.99" cy="57.81" r="1.8"/><circle cx="491.54" cy="80.32" r="1.8"/><circle cx="472.45" cy="65.34" r="1.8"/><circle cx="493.52" cy="54.28" r="1.8"/><circle cx="475.55" cy="75.12" r="1.8"/><circle cx="485.27" cy="74.1" r="1.8"/><circle cx="490.96" cy="54.17" r="1.8"/><circle cx="487.54" cy="64.48" r="1.8"/><circle cx="475.33" cy="67.42" r="1.8"/><circle cx="486.17" cy="74.39" r="1.8"/><circle cx="480.71" cy="61.75" r="1.8"/><circle cx="471.15" cy="68.38" r="1.8"/><circle cx="478.61" cy="61.36" r="1.8"/><circle cx="478.05" cy="59.42" r="1.8"/><circle cx="485.28" cy="56.88" r="1.8"/><circle cx="477.21" cy="66.26" r="1.8"/><circle cx="484.67" cy="68.09" r="1.8"/><circle cx="486.78" cy="63.03" r="1.8"/><circle cx="474.96" cy="64.2" r="1.8"/><circle cx="473.74" cy="61.73" r="1.8"/><circle cx="486.76" cy="68.14" r="1.8"/><circle cx="481.53" cy="65.47" r="1.8"/><circle cx="473.77" cy="68.65" r="1.8"/><circle cx="473.47" cy="68.67" r="1.8"/><circle cx="492.44" cy="61.87" r="1.8"/><circle cx="484.83" cy="52.77" r="1.8"/><circle cx="479.02" cy="68.19" r="1.8"/><circle cx="475.31" cy="57.97" r="1.8"/><circle cx="493.68" cy="60.15" r="1.8"/><circle cx="486.71" cy="62.3" r="1.8"/><circle cx="487.73" cy="57.1" r="1.8"/><circle cx="479.09" cy="68.39" r="1.8"/><circle cx="477.94" cy="58.16" r="1.8"/><circle cx="480.19" cy="60.57" r="1.8"/><circle cx="474.16" cy="60.06" r="1.8"/><circle cx="485.32" cy="57.83" r="1.8"/><circle cx="480.57" cy="45.45" r="1.8"/><circle cx="489.66" cy="72.99" r="1.8"/><circle cx="480.21" cy="62.42" r="1.8"/><circle cx="481.31" cy="60.09" r="1.8"/><circle cx="482.45" cy="72.16" r="1.8"/><circle cx="492.46" cy="52.34" r="1.8"/><circle cx="478.77" cy="59.19" r="1.8"/><circle cx="486.98" cy="70.58" r="1.8"/><circle cx="476.21" cy="74.25" r="1.8"/><circle cx="484.12" cy="67.12" r="1.8"/><circle cx="477.35" cy="41.62" r="1.8"/><circle cx="490.87" cy="43.59" r="1.8"/><circle cx="477.39" cy="85.94" r="1.8"/><circle cx="490.45" cy="79.95" r="1.8"/><circle cx="486.36" cy="57.2" r="1.8"/><circle cx="481.26" cy="64.29" r="1.8"/><circle cx="492.27" cy="69.11" r="1.8"/><circle cx="479.72" cy="57.78" r="1.8"/><circle cx="487.9" cy="62.43" r="1.8"/><circle cx="484.63" cy="60.68" r="1.8"/><circle cx="481.11" cy="60.88" r="1.8"/><circle cx="472.28" cy="73.26" r="1.8"/><circle cx="480.44" cy="51.27" r="1.8"/><circle cx="477.27" cy="67.51" r="1.8"/><circle cx="480.94" cy="52.95" r="1.8"/><circle cx="492.75" cy="56.98" r="1.8"/><circle cx="477.54" cy="62.96" r="1.8"/><circle cx="486.78" cy="62.03" r="1.8"/><circle cx="486.26" cy="63.73" r="1.8"/><circle cx="476.43" cy="80.15" r="1.8"/><circle cx="480.27" cy="66.28" r="1.8"/><circle cx="473.84" cy="59.38" r="1.8"/><circle cx="491.39" cy="78.07" r="1.8"/><circle cx="476.59" cy="76.95" r="1.8"/><circle cx="480.47" cy="53.42" r="1.8"/><circle cx="478.66" cy="55.9" r="1.8"/><circle cx="489.67" cy="77.47" r="1.8"/><circle cx="490.36" cy="59.09" r="1.8"/><circle cx="484.39" cy="63.76" r="1.8"/><circle cx="483.36" cy="54.36" r="1.8"/><circle cx="473.09" cy="66.28" r="1.8"/><circle cx="491.42" cy="65.34" r="1.8"/><circle cx="472.83" cy="70.19" r="1.8"/><circle cx="479.16" cy="61.66" r="1.8"/><circle cx="479.41" cy="64.47" r="1.8"/><circle cx="487.43" cy="69.31" r="1.8"/><circle cx="486.19" cy="66.49" r="1.8"/><circle cx="478.71" cy="70.23" r="1.8"/><circle cx="491.45" cy="57.59" r="1.8"/><circle cx="492.64" cy="72.78" r="1.8"/><circle cx="471.33" cy="77.58" r="1.8"/><circle cx="485.36" cy="72.16" r="1.8"/><circle cx="481.59" cy="53.38" r="1.8"/><circle cx="479.12" cy="67.97" r="1.8"/><circle cx="481.49" cy="57.38" r="1.8"/><circle cx="478.07" cy="56.57" r="1.8"/><circle cx="486.23" cy="67.99" r="1.8"/><circle cx="484.73" cy="56.38" r="1.8"/><circle cx="493.12" cy="58.68" r="1.8"/><circle cx="493.26" cy="63.71" r="1.8"/><circle cx="493.63" cy="69.8" r="1.8"/><circle cx="479.89" cy="63.88" r="1.8"/><circle cx="478.69" cy="27.84" r="1.8"/><circle cx="474.61" cy="31.11" r="1.8"/><circle cx="475.42" cy="36.34" r="1.8"/><circle cx="490.95" cy="37.65" r="1.8"/><circle cx="476.24" cy="40.42" r="1.8"/><circle cx="479.51" cy="45.33" r="1.8"/><circle cx="490.95" cy="47.78" r="1.8"/><circle cx="471.34" cy="51.86" r="1.8"/><circle cx="490.13" cy="53.5" r="1.8"/><circle cx="472.16" cy="86.99" r="1.8"/><circle cx="477.88" cy="90.26" r="1.8"/><circle cx="485.23" cy="86.18" r="1.8"/><circle cx="490.13" cy="85.03" r="1.8"/><circle cx="490.95" cy="89.12" r="1.8"/><circle cx="485.23" cy="97.61" r="1.8"/><circle cx="481.14" cy="100.88" r="1.8"/><circle cx="471.34" cy="103.66" r="1.8"/><circle cx="490.13" cy="107.42" r="1.8"/><circle cx="491.76" cy="109.87" r="1.8"/><circle cx="481.14" cy="109.54" r="1.8"/><circle cx="483.59" cy="111.5" r="1.8"/><circle cx="475.42" cy="118.04" r="1.8"/><circle cx="474.61" cy="120" r="1.8"/><circle cx="491.76" cy="122.61" r="1.8"/><circle cx="487.68" cy="127.84" r="1.8"/><circle cx="486.86" cy="129.8" r="1.8"/><circle cx="477.88" cy="144.51" r="1.8"/><circle cx="477.88" cy="91.9" r="1.8"/><circle cx="472.97" cy="82.09" r="1.8"/><circle cx="488.5" cy="81.27" r="1.8"/></g>
<text transform="translate(523.4 10.9) scale(1 1.1)" font-size="12.6" font-weight="bold" fill="#111" color="#111">D</text>
<text transform="translate(537.8 10.9) scale(1 1.1)" font-size="11.5" fill="#1a1a1a" color="#1a1a1a" style="stroke-width:0.12px"><tspan font-style="italic">LRRC2</tspan> (inhouse)</text>
<text x="521.9" y="92" font-size="8.1" text-anchor="middle" font-weight="normal" font-style="normal" fill="#1a1a1a" color="#1a1a1a" transform="rotate(-90 521.9 92)" >Relative expression level</text>
<line x1="542.5" y1="20.5" x2="542.5" y2="149" stroke="#555555" stroke-width="1" />
<line x1="542" y1="148.5" x2="681" y2="148.5" stroke="#555555" stroke-width="1" />
<line x1="540.3" y1="39.4" x2="542.5" y2="39.4" stroke="#555555" stroke-width="0.9" />
<text transform="translate(539.5 42.39) scale(0.9 1.0)" font-size="8.3" text-anchor="end" font-weight="normal" font-style="normal" fill="#444444" color="#444444" >6.00</text>
<line x1="540.3" y1="74.37" x2="542.5" y2="74.37" stroke="#555555" stroke-width="0.9" />
<text transform="translate(539.5 77.35) scale(0.9 1.0)" font-size="8.3" text-anchor="end" font-weight="normal" font-style="normal" fill="#444444" color="#444444" >4.00</text>
<line x1="540.3" y1="109.33" x2="542.5" y2="109.33" stroke="#555555" stroke-width="0.9" />
<text transform="translate(539.5 112.32) scale(0.9 1.0)" font-size="8.3" text-anchor="end" font-weight="normal" font-style="normal" fill="#444444" color="#444444" >2.00</text>
<line x1="540.3" y1="144.3" x2="542.5" y2="144.3" stroke="#555555" stroke-width="0.9" />
<text transform="translate(539.5 147.29) scale(0.9 1.0)" font-size="8.3" text-anchor="end" font-weight="normal" font-style="normal" fill="#444444" color="#444444" >0.00</text>
<line x1="586.5" y1="148.5" x2="586.5" y2="150.7" stroke="#555555" stroke-width="0.9" />
<text transform="translate(588.5 158.6) scale(0.9 1.0)" font-size="8.5" text-anchor="middle" font-weight="normal" font-style="normal" fill="#444444" color="#444444" >Normal</text>
<line x1="660.3" y1="148.5" x2="660.3" y2="150.7" stroke="#555555" stroke-width="0.9" />
<text transform="translate(661.9 158.6) scale(0.9 1.0)" font-size="8.5" text-anchor="middle" font-weight="normal" font-style="normal" fill="#444444" color="#444444" >LUAD</text>
<path d="M586.5 28.9 V25.5 H660.5 V28.9" fill="none" stroke="#4a4a4a" stroke-width="0.9"/>
<text x="623" y="23.93" font-size="7.3" text-anchor="middle" font-weight="normal" font-style="normal" fill="#111" color="#111" >**</text>
<line x1="586.5" y1="32.41" x2="660.3" y2="133.81" stroke="#b9b5b2" stroke-width="1.15" />
<line x1="586.5" y1="44.64" x2="660.3" y2="136.43" stroke="#b9b5b2" stroke-width="1.15" />
<line x1="586.5" y1="59.51" x2="660.3" y2="138.18" stroke="#b9b5b2" stroke-width="1.15" />
<line x1="586.5" y1="120.7" x2="660.3" y2="139.06" stroke="#b9b5b2" stroke-width="1.15" />
<line x1="586.5" y1="126.82" x2="660.3" y2="134.68" stroke="#b9b5b2" stroke-width="1.15" />
<line x1="586.5" y1="130.31" x2="660.3" y2="139.93" stroke="#b9b5b2" stroke-width="1.15" />
<line x1="586.5" y1="133.81" x2="660.3" y2="140.8" stroke="#b9b5b2" stroke-width="1.15" />
<line x1="586.5" y1="135.56" x2="660.3" y2="140.45" stroke="#b9b5b2" stroke-width="1.15" />
<line x1="586.5" y1="136.96" x2="660.3" y2="141.68" stroke="#b9b5b2" stroke-width="1.15" />
<line x1="586.5" y1="139.06" x2="660.3" y2="142.55" stroke="#b9b5b2" stroke-width="1.15" />
<line x1="586" y1="32.1" x2="586" y2="75" stroke="#3f67a8" stroke-width="1.8" />
<line x1="586" y1="134" x2="586" y2="139.2" stroke="#3f67a8" stroke-width="1.8" />
<rect x="568" y="75" width="37" height="59" fill="none" stroke="#3f67a8" stroke-width="1.8"/>
<line x1="568" y1="130.1" x2="605" y2="130.1" stroke="#3f67a8" stroke-width="2.6" />
<line x1="660" y1="133" x2="660" y2="136" stroke="#d9b34e" stroke-width="1.8" />
<line x1="660" y1="142" x2="660" y2="143.2" stroke="#d9b34e" stroke-width="1.8" />
<rect x="641" y="136" width="38" height="6" fill="none" stroke="#d9b34e" stroke-width="1.8"/>
<line x1="641" y1="139.8" x2="679" y2="139.8" stroke="#d9b34e" stroke-width="2.6" />
<g fill="#3f66a7" fill-opacity="1"><circle cx="586.5" cy="32.41" r="1.4"/><circle cx="586.5" cy="44.64" r="1.4"/><circle cx="586.5" cy="59.51" r="1.4"/><circle cx="586.5" cy="120.7" r="1.4"/><circle cx="586.5" cy="126.82" r="1.4"/><circle cx="586.5" cy="130.31" r="1.4"/><circle cx="586.5" cy="133.81" r="1.4"/><circle cx="586.5" cy="135.56" r="1.4"/><circle cx="586.5" cy="136.96" r="1.4"/><circle cx="586.5" cy="139.06" r="1.4"/></g>
<g fill="#d4ad40" fill-opacity="1"><circle cx="660.3" cy="133.81" r="1.4"/><circle cx="660.3" cy="136.43" r="1.4"/><circle cx="660.3" cy="138.18" r="1.4"/><circle cx="660.3" cy="139.06" r="1.4"/><circle cx="660.3" cy="134.68" r="1.4"/><circle cx="660.3" cy="139.93" r="1.4"/><circle cx="660.3" cy="140.8" r="1.4"/><circle cx="660.3" cy="140.45" r="1.4"/><circle cx="660.3" cy="141.68" r="1.4"/><circle cx="660.3" cy="142.55" r="1.4"/></g>
<text transform="translate(34.5 205) scale(1 1.1)" font-size="12.6" font-weight="bold" fill="#111" color="#111">E</text>
<text transform="translate(49.5 205) scale(1 1.1)" font-size="11.5" fill="#1a1a1a" color="#1a1a1a" style="stroke-width:0.12px"><tspan font-style="italic">SLC1A4</tspan> (TCGA)</text>
<text x="37.6" y="288.5" font-size="7.9" text-anchor="middle" font-weight="normal" font-style="normal" fill="#1a1a1a" color="#1a1a1a" transform="rotate(-90 37.6 288.5)" >Relative expression level</text>
<line x1="59.5" y1="217.9" x2="59.5" y2="350" stroke="#555555" stroke-width="1" />
<line x1="59" y1="349.5" x2="232" y2="349.5" stroke="#555555" stroke-width="1" />
<line x1="57.3" y1="225.9" x2="59.5" y2="225.9" stroke="#555555" stroke-width="0.9" />
<text transform="translate(56.3 228.78) scale(0.9 1.0)" font-size="8.0" text-anchor="end" font-weight="normal" font-style="normal" fill="#444444" color="#444444" >5.00</text>
<line x1="57.3" y1="252.4" x2="59.5" y2="252.4" stroke="#555555" stroke-width="0.9" />
<text transform="translate(56.3 255.28) scale(0.9 1.0)" font-size="8.0" text-anchor="end" font-weight="normal" font-style="normal" fill="#444444" color="#444444" >4.00</text>
<line x1="57.3" y1="278.9" x2="59.5" y2="278.9" stroke="#555555" stroke-width="0.9" />
<text transform="translate(56.3 281.78) scale(0.9 1.0)" font-size="8.0" text-anchor="end" font-weight="normal" font-style="normal" fill="#444444" color="#444444" >3.00</text>
<line x1="57.3" y1="305.4" x2="59.5" y2="305.4" stroke="#555555" stroke-width="0.9" />
<text transform="translate(56.3 308.28) scale(0.9 1.0)" font-size="8.0" text-anchor="end" font-weight="normal" font-style="normal" fill="#444444" color="#444444" >2.00</text>
<line x1="57.3" y1="331.9" x2="59.5" y2="331.9" stroke="#555555" stroke-width="0.9" />
<text transform="translate(56.3 334.78) scale(0.9 1.0)" font-size="8.0" text-anchor="end" font-weight="normal" font-style="normal" fill="#444444" color="#444444" >1.00</text>
<line x1="108" y1="349.5" x2="108" y2="351.7" stroke="#555555" stroke-width="0.9" />
<text transform="translate(107.2 357.2) scale(0.9 1.0)" font-size="8.4" text-anchor="middle" font-weight="normal" font-style="normal" fill="#444444" color="#444444" >Normal</text>
<line x1="189" y1="349.5" x2="189" y2="351.7" stroke="#555555" stroke-width="0.9" />
<text transform="translate(189.9 357.2) scale(0.9 1.0)" font-size="8.4" text-anchor="middle" font-weight="normal" font-style="normal" fill="#444444" color="#444444" >LUAD</text>
<path d="M108.5 227 V223.5 H188.5 V227" fill="none" stroke="#4a4a4a" stroke-width="0.9"/>
<text x="146.9" y="221.36" font-size="8.0" text-anchor="middle" font-weight="normal" font-style="normal" fill="#111" color="#111" >***</text>
<line x1="108.5" y1="284.4" x2="108.5" y2="300.5" stroke="#3f67a8" stroke-width="1.0" />
<line x1="108.5" y1="310.5" x2="108.5" y2="321.3" stroke="#3f67a8" stroke-width="1.0" />
<line x1="100.3" y1="284.5" x2="116.4" y2="284.5" stroke="#3f67a8" stroke-width="1.0" />
<line x1="100.3" y1="321.5" x2="116.4" y2="321.5" stroke="#3f67a8" stroke-width="1.0" />
<rect x="81.5" y="300.5" width="53" height="10" fill="none" stroke="#3f67a8" stroke-width="1.0"/>
<line x1="81.5" y1="305.9" x2="134.5" y2="305.9" stroke="#3f67a8" stroke-width="1.6" />
<line x1="189.5" y1="233" x2="189.5" y2="269.5" stroke="#d9b34e" stroke-width="1.0" />
<line x1="189.5" y1="294.5" x2="189.5" y2="329.3" stroke="#d9b34e" stroke-width="1.0" />
<line x1="180.8" y1="233.5" x2="196.8" y2="233.5" stroke="#d9b34e" stroke-width="1.0" />
<line x1="180.8" y1="329.5" x2="196.8" y2="329.5" stroke="#d9b34e" stroke-width="1.0" />
<rect x="162.5" y="269.5" width="53" height="25" fill="none" stroke="#d9b34e" stroke-width="1.0"/>
<line x1="162.5" y1="281.2" x2="215.5" y2="281.2" stroke="#d9b34e" stroke-width="1.6" />
<g fill="#5580b6" fill-opacity="0.8" stroke="#3a60a0" stroke-width="0.45"><circle cx="117.3" cy="264.32" r="1.55"/><circle cx="93.2" cy="272.27" r="1.55"/><circle cx="123.35" cy="314.39" r="1.55"/><circle cx="109.1" cy="300.48" r="1.55"/><circle cx="105.31" cy="314.53" r="1.55"/><circle cx="111.89" cy="312.93" r="1.55"/><circle cx="119.94" cy="320.77" r="1.55"/><circle cx="123.14" cy="298.12" r="1.55"/><circle cx="105.53" cy="302.16" r="1.55"/><circle cx="92.64" cy="313.91" r="1.55"/><circle cx="97.22" cy="299.32" r="1.55"/><circle cx="118.49" cy="301.08" r="1.55"/><circle cx="115.8" cy="284.2" r="1.55"/><circle cx="115.1" cy="303.67" r="1.55"/><circle cx="97.31" cy="298.75" r="1.55"/><circle cx="109.29" cy="300.93" r="1.55"/><circle cx="93.21" cy="299.79" r="1.55"/><circle cx="95.83" cy="305.55" r="1.55"/><circle cx="101.92" cy="308.38" r="1.55"/><circle cx="123.22" cy="300.23" r="1.55"/><circle cx="112.88" cy="296.43" r="1.55"/><circle cx="119.43" cy="313.83" r="1.55"/><circle cx="93.77" cy="313.62" r="1.55"/><circle cx="105.62" cy="305.68" r="1.55"/><circle cx="94.81" cy="292.34" r="1.55"/><circle cx="100.65" cy="306.88" r="1.55"/><circle cx="95.88" cy="317.69" r="1.55"/><circle cx="121.7" cy="299.52" r="1.55"/><circle cx="102.82" cy="299.9" r="1.55"/><circle cx="107.95" cy="291.29" r="1.55"/><circle cx="113.23" cy="303.99" r="1.55"/><circle cx="120.67" cy="291.1" r="1.55"/><circle cx="122.59" cy="310.6" r="1.55"/><circle cx="110.47" cy="298.82" r="1.55"/><circle cx="108.33" cy="304.39" r="1.55"/><circle cx="121.22" cy="314.01" r="1.55"/><circle cx="104.92" cy="307.38" r="1.55"/><circle cx="101.88" cy="295.73" r="1.55"/><circle cx="115.96" cy="297.28" r="1.55"/><circle cx="100.57" cy="308.11" r="1.55"/><circle cx="104.07" cy="297.33" r="1.55"/><circle cx="106.04" cy="298.83" r="1.55"/><circle cx="107.56" cy="298.86" r="1.55"/><circle cx="103.77" cy="303.29" r="1.55"/><circle cx="106.08" cy="303.16" r="1.55"/><circle cx="106.73" cy="311.35" r="1.55"/><circle cx="93.89" cy="305.86" r="1.55"/><circle cx="119.04" cy="304.47" r="1.55"/><circle cx="94.28" cy="310.71" r="1.55"/><circle cx="109.19" cy="307.45" r="1.55"/><circle cx="109.82" cy="304.17" r="1.55"/><circle cx="105.09" cy="303.82" r="1.55"/><circle cx="99.43" cy="297.72" r="1.55"/><circle cx="95.47" cy="312.81" r="1.55"/><circle cx="104.2" cy="308.23" r="1.55"/><circle cx="102.36" cy="303.41" r="1.55"/><circle cx="107.79" cy="308.11" r="1.55"/><circle cx="99.67" cy="302.96" r="1.55"/><circle cx="116.28" cy="308.76" r="1.55"/></g>
<g fill="#d8b656" fill-opacity="0.8" stroke="#c59f38" stroke-width="0.45"><circle cx="197.86" cy="282.78" r="1.55"/><circle cx="195.11" cy="280.02" r="1.55"/><circle cx="189.04" cy="321.6" r="1.55"/><circle cx="182.24" cy="252.71" r="1.55"/><circle cx="180.78" cy="254.65" r="1.55"/><circle cx="177.87" cy="279.09" r="1.55"/><circle cx="193.53" cy="262.57" r="1.55"/><circle cx="194.83" cy="284.66" r="1.55"/><circle cx="203.54" cy="295.17" r="1.55"/><circle cx="182.74" cy="290.8" r="1.55"/><circle cx="203.02" cy="288.49" r="1.55"/><circle cx="202.49" cy="255.41" r="1.55"/><circle cx="181.38" cy="294.27" r="1.55"/><circle cx="203.87" cy="289.07" r="1.55"/><circle cx="192.56" cy="303.21" r="1.55"/><circle cx="204.23" cy="279.88" r="1.55"/><circle cx="197.82" cy="280.08" r="1.55"/><circle cx="182.83" cy="286.52" r="1.55"/><circle cx="181" cy="268.09" r="1.55"/><circle cx="189.27" cy="272.22" r="1.55"/><circle cx="188.09" cy="284.51" r="1.55"/><circle cx="172.7" cy="246.49" r="1.55"/><circle cx="200.83" cy="314" r="1.55"/><circle cx="189.71" cy="263.16" r="1.55"/><circle cx="187.58" cy="293.02" r="1.55"/><circle cx="196.82" cy="271.21" r="1.55"/><circle cx="179.99" cy="283.66" r="1.55"/><circle cx="178.27" cy="287.52" r="1.55"/><circle cx="191.25" cy="244.39" r="1.55"/><circle cx="179.71" cy="283.82" r="1.55"/><circle cx="182.64" cy="288.09" r="1.55"/><circle cx="173.88" cy="265.52" r="1.55"/><circle cx="173.27" cy="266.03" r="1.55"/><circle cx="183.58" cy="310.7" r="1.55"/><circle cx="189.42" cy="284.31" r="1.55"/><circle cx="203.76" cy="285.31" r="1.55"/><circle cx="193.25" cy="279.72" r="1.55"/><circle cx="185.59" cy="286.18" r="1.55"/><circle cx="185.33" cy="297.36" r="1.55"/><circle cx="179.5" cy="297.29" r="1.55"/><circle cx="187.61" cy="255.79" r="1.55"/><circle cx="204.11" cy="292.23" r="1.55"/><circle cx="175.65" cy="236.14" r="1.55"/><circle cx="186.22" cy="273.99" r="1.55"/><circle cx="194.81" cy="279.79" r="1.55"/><circle cx="197.42" cy="305.35" r="1.55"/><circle cx="190.37" cy="249.06" r="1.55"/><circle cx="193.3" cy="279.13" r="1.55"/><circle cx="203.4" cy="305.31" r="1.55"/><circle cx="202.19" cy="266.09" r="1.55"/><circle cx="180.04" cy="237.9" r="1.55"/><circle cx="189.9" cy="284.58" r="1.55"/><circle cx="205.41" cy="250.57" r="1.55"/><circle cx="189.44" cy="265.13" r="1.55"/><circle cx="177.94" cy="309.87" r="1.55"/><circle cx="197.55" cy="268.6" r="1.55"/><circle cx="173.44" cy="295.19" r="1.55"/><circle cx="176.61" cy="265.79" r="1.55"/><circle cx="190.24" cy="289.04" r="1.55"/><circle cx="180.77" cy="276.53" r="1.55"/><circle cx="195.97" cy="293.44" r="1.55"/><circle cx="196.21" cy="252.09" r="1.55"/><circle cx="182.36" cy="271.69" r="1.55"/><circle cx="197.58" cy="276.12" r="1.55"/><circle cx="193.52" cy="265.99" r="1.55"/><circle cx="195.5" cy="304.64" r="1.55"/><circle cx="187.03" cy="289.15" r="1.55"/><circle cx="186.2" cy="283.01" r="1.55"/><circle cx="175.12" cy="268.13" r="1.55"/><circle cx="187.64" cy="269.09" r="1.55"/><circle cx="203.96" cy="256.79" r="1.55"/><circle cx="201.71" cy="287.22" r="1.55"/><circle cx="173.41" cy="268.62" r="1.55"/><circle cx="173.92" cy="286.39" r="1.55"/><circle cx="180.66" cy="300.57" r="1.55"/><circle cx="195.11" cy="268.16" r="1.55"/><circle cx="186.38" cy="275.02" r="1.55"/><circle cx="175.85" cy="288.52" r="1.55"/><circle cx="185.97" cy="265.09" r="1.55"/><circle cx="190.99" cy="295.61" r="1.55"/><circle cx="196.8" cy="260.33" r="1.55"/><circle cx="185.2" cy="276.25" r="1.55"/><circle cx="193.59" cy="300.75" r="1.55"/><circle cx="194.66" cy="260.34" r="1.55"/><circle cx="192.43" cy="260.19" r="1.55"/><circle cx="173.08" cy="289.93" r="1.55"/><circle cx="195.66" cy="287.23" r="1.55"/><circle cx="175.87" cy="297.79" r="1.55"/><circle cx="173.36" cy="278.62" r="1.55"/><circle cx="187.6" cy="289.08" r="1.55"/><circle cx="172.07" cy="280.78" r="1.55"/><circle cx="173.98" cy="291.73" r="1.55"/><circle cx="184.79" cy="291.23" r="1.55"/><circle cx="187.43" cy="286.81" r="1.55"/><circle cx="175.09" cy="286.72" r="1.55"/><circle cx="203.93" cy="270.84" r="1.55"/><circle cx="200.47" cy="295.2" r="1.55"/><circle cx="188.05" cy="259.55" r="1.55"/><circle cx="191.48" cy="299" r="1.55"/><circle cx="182.23" cy="282.59" r="1.55"/><circle cx="204.94" cy="312.98" r="1.55"/><circle cx="175.58" cy="296.72" r="1.55"/><circle cx="181.84" cy="296.12" r="1.55"/><circle cx="179.01" cy="260.58" r="1.55"/><circle cx="200.93" cy="333.4" r="1.55"/><circle cx="188.8" cy="273.67" r="1.55"/><circle cx="185.45" cy="294.12" r="1.55"/><circle cx="185.06" cy="254.2" r="1.55"/><circle cx="201.66" cy="278.7" r="1.55"/><circle cx="180.25" cy="265.46" r="1.55"/><circle cx="198.4" cy="283.29" r="1.55"/><circle cx="195.57" cy="305" r="1.55"/><circle cx="186.74" cy="280.53" r="1.55"/><circle cx="183.94" cy="273.28" r="1.55"/><circle cx="186.35" cy="271.81" r="1.55"/><circle cx="186.9" cy="296.79" r="1.55"/><circle cx="182.23" cy="284.47" r="1.55"/><circle cx="192.71" cy="300.09" r="1.55"/><circle cx="185.48" cy="298.28" r="1.55"/><circle cx="181.83" cy="296.68" r="1.55"/><circle cx="197.77" cy="238.87" r="1.55"/><circle cx="186.97" cy="286.58" r="1.55"/><circle cx="187.6" cy="301.42" r="1.55"/><circle cx="201.4" cy="274.18" r="1.55"/><circle cx="186.96" cy="276.49" r="1.55"/><circle cx="184.28" cy="248.53" r="1.55"/><circle cx="202.03" cy="267.16" r="1.55"/><circle cx="204.7" cy="270.44" r="1.55"/><circle cx="198.21" cy="277.3" r="1.55"/><circle cx="185.15" cy="284.4" r="1.55"/><circle cx="194.32" cy="288.09" r="1.55"/><circle cx="196.69" cy="303.66" r="1.55"/><circle cx="181.57" cy="296.51" r="1.55"/><circle cx="196.12" cy="285.69" r="1.55"/><circle cx="203.79" cy="253.07" r="1.55"/><circle cx="193.8" cy="242.07" r="1.55"/><circle cx="194.24" cy="277.03" r="1.55"/><circle cx="186.29" cy="314.62" r="1.55"/><circle cx="193.72" cy="252.91" r="1.55"/><circle cx="179.18" cy="260.98" r="1.55"/><circle cx="197.69" cy="277.72" r="1.55"/><circle cx="189.83" cy="267.75" r="1.55"/><circle cx="204.82" cy="305.77" r="1.55"/><circle cx="183.12" cy="285.93" r="1.55"/><circle cx="195.7" cy="256.67" r="1.55"/><circle cx="172.07" cy="257.88" r="1.55"/><circle cx="185.65" cy="315.75" r="1.55"/><circle cx="197.56" cy="300.47" r="1.55"/><circle cx="180.32" cy="254.32" r="1.55"/><circle cx="192.36" cy="293.64" r="1.55"/><circle cx="179.01" cy="311" r="1.55"/><circle cx="185.04" cy="244.88" r="1.55"/><circle cx="205.28" cy="283.33" r="1.55"/><circle cx="178.19" cy="295.74" r="1.55"/><circle cx="202.53" cy="260.99" r="1.55"/><circle cx="173.53" cy="304.2" r="1.55"/><circle cx="191.32" cy="281.56" r="1.55"/><circle cx="199.42" cy="265.84" r="1.55"/><circle cx="199.97" cy="256.73" r="1.55"/><circle cx="184.8" cy="277.21" r="1.55"/><circle cx="191.57" cy="280.58" r="1.55"/><circle cx="195.71" cy="264.34" r="1.55"/><circle cx="197.4" cy="280.41" r="1.55"/><circle cx="196.89" cy="270.09" r="1.55"/><circle cx="191.18" cy="295.38" r="1.55"/><circle cx="180.05" cy="278.78" r="1.55"/><circle cx="195.48" cy="283.59" r="1.55"/><circle cx="190.58" cy="265.21" r="1.55"/><circle cx="190.01" cy="318.98" r="1.55"/><circle cx="205.06" cy="282.47" r="1.55"/><circle cx="176.14" cy="259.99" r="1.55"/><circle cx="198.04" cy="248.29" r="1.55"/><circle cx="182.54" cy="264.22" r="1.55"/><circle cx="196.2" cy="300.92" r="1.55"/><circle cx="203.81" cy="310.1" r="1.55"/><circle cx="180.83" cy="288.66" r="1.55"/><circle cx="190.78" cy="307.59" r="1.55"/><circle cx="189.46" cy="286.26" r="1.55"/><circle cx="188.34" cy="251.41" r="1.55"/><circle cx="177.18" cy="296.24" r="1.55"/><circle cx="192.77" cy="280.62" r="1.55"/><circle cx="201.88" cy="273.86" r="1.55"/><circle cx="194.05" cy="263.53" r="1.55"/><circle cx="181.33" cy="287.25" r="1.55"/><circle cx="198.9" cy="277" r="1.55"/><circle cx="185.78" cy="293.76" r="1.55"/><circle cx="176.44" cy="297.78" r="1.55"/><circle cx="192.1" cy="274.86" r="1.55"/><circle cx="187.15" cy="286.18" r="1.55"/><circle cx="189.51" cy="325.59" r="1.55"/><circle cx="205.2" cy="304.86" r="1.55"/><circle cx="190.86" cy="281.1" r="1.55"/><circle cx="203.92" cy="288.29" r="1.55"/><circle cx="183.49" cy="268.94" r="1.55"/><circle cx="197.3" cy="271.46" r="1.55"/><circle cx="174.06" cy="283.08" r="1.55"/><circle cx="181.71" cy="254.24" r="1.55"/><circle cx="195.03" cy="290.42" r="1.55"/><circle cx="194.97" cy="243.24" r="1.55"/><circle cx="199.67" cy="262.31" r="1.55"/><circle cx="184.43" cy="260.48" r="1.55"/><circle cx="180.8" cy="265.5" r="1.55"/><circle cx="183.69" cy="238.46" r="1.55"/><circle cx="189.77" cy="241.14" r="1.55"/><circle cx="172.32" cy="294.32" r="1.55"/><circle cx="184.23" cy="244.19" r="1.55"/><circle cx="193.85" cy="254.03" r="1.55"/><circle cx="176.55" cy="269.58" r="1.55"/><circle cx="182.08" cy="275.96" r="1.55"/><circle cx="201.17" cy="278.29" r="1.55"/><circle cx="203.24" cy="329.31" r="1.55"/><circle cx="179.99" cy="303.67" r="1.55"/><circle cx="177.55" cy="295.1" r="1.55"/><circle cx="175.5" cy="314.67" r="1.55"/><circle cx="174.41" cy="275.2" r="1.55"/><circle cx="198.5" cy="302.83" r="1.55"/><circle cx="196.63" cy="259.57" r="1.55"/><circle cx="180.49" cy="269.34" r="1.55"/><circle cx="188.13" cy="270.9" r="1.55"/><circle cx="195.14" cy="258.83" r="1.55"/><circle cx="172.46" cy="293.89" r="1.55"/><circle cx="199.34" cy="262.43" r="1.55"/><circle cx="200.72" cy="270.57" r="1.55"/><circle cx="178.68" cy="252.02" r="1.55"/><circle cx="195.42" cy="299.33" r="1.55"/><circle cx="195.28" cy="269.29" r="1.55"/><circle cx="182.96" cy="260.82" r="1.55"/><circle cx="201.37" cy="269.76" r="1.55"/><circle cx="178.93" cy="328.08" r="1.55"/><circle cx="187.61" cy="298.33" r="1.55"/><circle cx="182.17" cy="289.74" r="1.55"/><circle cx="186.52" cy="284.09" r="1.55"/><circle cx="199.12" cy="285.58" r="1.55"/><circle cx="190.88" cy="263.82" r="1.55"/><circle cx="192.22" cy="293.6" r="1.55"/><circle cx="205.06" cy="323.31" r="1.55"/><circle cx="179.1" cy="234.06" r="1.55"/><circle cx="179.07" cy="287.23" r="1.55"/><circle cx="192.57" cy="246.56" r="1.55"/><circle cx="176.61" cy="297.29" r="1.55"/><circle cx="204.28" cy="276.69" r="1.55"/><circle cx="183.1" cy="281.76" r="1.55"/><circle cx="186.46" cy="305.67" r="1.55"/><circle cx="186.16" cy="278.57" r="1.55"/><circle cx="199.64" cy="290.55" r="1.55"/><circle cx="202.62" cy="304.39" r="1.55"/><circle cx="194.52" cy="313.87" r="1.55"/><circle cx="177.33" cy="309.19" r="1.55"/><circle cx="183.58" cy="260.45" r="1.55"/><circle cx="195.52" cy="268.3" r="1.55"/><circle cx="178.85" cy="275.53" r="1.55"/><circle cx="201.51" cy="281.45" r="1.55"/><circle cx="201.16" cy="250.85" r="1.55"/><circle cx="179.2" cy="255.38" r="1.55"/><circle cx="183.89" cy="276.17" r="1.55"/><circle cx="179.28" cy="281.34" r="1.55"/><circle cx="195.93" cy="245.04" r="1.55"/><circle cx="173.1" cy="273.06" r="1.55"/><circle cx="195.15" cy="288.94" r="1.55"/><circle cx="173.63" cy="301.63" r="1.55"/><circle cx="200.1" cy="308.36" r="1.55"/><circle cx="189.97" cy="295.71" r="1.55"/><circle cx="191.33" cy="279.97" r="1.55"/><circle cx="174.74" cy="280.88" r="1.55"/><circle cx="173" cy="249.34" r="1.55"/><circle cx="183.5" cy="266.19" r="1.55"/><circle cx="204.98" cy="244.53" r="1.55"/><circle cx="191.9" cy="285.79" r="1.55"/><circle cx="200.82" cy="294.65" r="1.55"/><circle cx="173.63" cy="270.76" r="1.55"/><circle cx="174.96" cy="282.12" r="1.55"/><circle cx="172.21" cy="277.51" r="1.55"/><circle cx="195.2" cy="278.34" r="1.55"/><circle cx="177.5" cy="294.99" r="1.55"/><circle cx="180.77" cy="300.25" r="1.55"/><circle cx="194.18" cy="292.17" r="1.55"/><circle cx="195.15" cy="294.84" r="1.55"/><circle cx="182.46" cy="255.64" r="1.55"/><circle cx="187.39" cy="293.61" r="1.55"/><circle cx="181.33" cy="276.33" r="1.55"/><circle cx="190.59" cy="271.48" r="1.55"/><circle cx="183.6" cy="288.24" r="1.55"/><circle cx="183.74" cy="271.65" r="1.55"/><circle cx="179.96" cy="268.43" r="1.55"/><circle cx="181.43" cy="313.32" r="1.55"/><circle cx="180.37" cy="275.83" r="1.55"/><circle cx="172.05" cy="287.23" r="1.55"/><circle cx="182.05" cy="268.01" r="1.55"/><circle cx="191.63" cy="288.6" r="1.55"/><circle cx="180.63" cy="292.44" r="1.55"/><circle cx="175.34" cy="294.71" r="1.55"/><circle cx="200.26" cy="282.31" r="1.55"/><circle cx="187.45" cy="271.5" r="1.55"/><circle cx="188.9" cy="288.73" r="1.55"/><circle cx="182.1" cy="278.42" r="1.55"/><circle cx="201.66" cy="264.16" r="1.55"/><circle cx="197.14" cy="294.95" r="1.55"/><circle cx="192.67" cy="253.27" r="1.55"/><circle cx="193.92" cy="295.7" r="1.55"/><circle cx="195.04" cy="310.19" r="1.55"/><circle cx="188.52" cy="287.7" r="1.55"/><circle cx="185.55" cy="282.15" r="1.55"/><circle cx="184.76" cy="279.02" r="1.55"/><circle cx="188.64" cy="294.46" r="1.55"/><circle cx="187.43" cy="276.26" r="1.55"/><circle cx="189.48" cy="260.89" r="1.55"/><circle cx="189.62" cy="261.9" r="1.55"/><circle cx="198.31" cy="281.4" r="1.55"/><circle cx="201.85" cy="306.25" r="1.55"/><circle cx="179.11" cy="247.3" r="1.55"/><circle cx="172.26" cy="261.38" r="1.55"/><circle cx="181.74" cy="281.36" r="1.55"/><circle cx="172.58" cy="258.03" r="1.55"/><circle cx="198.58" cy="254.88" r="1.55"/><circle cx="192.59" cy="276.73" r="1.55"/><circle cx="181.21" cy="297.2" r="1.55"/><circle cx="178" cy="275.54" r="1.55"/><circle cx="201.03" cy="298.27" r="1.55"/><circle cx="199.93" cy="286.13" r="1.55"/><circle cx="194.74" cy="255.32" r="1.55"/><circle cx="195.02" cy="281.38" r="1.55"/><circle cx="196.81" cy="301.88" r="1.55"/><circle cx="186.96" cy="278.9" r="1.55"/><circle cx="185.01" cy="283.12" r="1.55"/><circle cx="190.3" cy="298.89" r="1.55"/><circle cx="201.44" cy="280.1" r="1.55"/><circle cx="205.21" cy="241.4" r="1.55"/><circle cx="202.68" cy="263.39" r="1.55"/><circle cx="199.9" cy="272.19" r="1.55"/><circle cx="174.03" cy="270.07" r="1.55"/><circle cx="179.9" cy="245.26" r="1.55"/><circle cx="204.51" cy="313.84" r="1.55"/><circle cx="189.98" cy="264.36" r="1.55"/><circle cx="189" cy="287.51" r="1.55"/><circle cx="182.03" cy="270.66" r="1.55"/><circle cx="200.81" cy="284.67" r="1.55"/><circle cx="189.07" cy="290.4" r="1.55"/><circle cx="205.17" cy="325.13" r="1.55"/><circle cx="174.07" cy="276.59" r="1.55"/><circle cx="205.27" cy="270.58" r="1.55"/><circle cx="171.96" cy="297.44" r="1.55"/><circle cx="176.54" cy="315.76" r="1.55"/><circle cx="184.74" cy="287.09" r="1.55"/><circle cx="193.24" cy="326.31" r="1.55"/><circle cx="175.26" cy="297.87" r="1.55"/><circle cx="190.62" cy="274.95" r="1.55"/><circle cx="203.44" cy="269.13" r="1.55"/><circle cx="186.31" cy="269.79" r="1.55"/><circle cx="197.42" cy="273.4" r="1.55"/><circle cx="191.62" cy="282.98" r="1.55"/><circle cx="191.3" cy="273.21" r="1.55"/><circle cx="177.39" cy="264.05" r="1.55"/><circle cx="187.28" cy="264.66" r="1.55"/><circle cx="202.11" cy="275.25" r="1.55"/><circle cx="194.42" cy="276.23" r="1.55"/><circle cx="178.87" cy="271.32" r="1.55"/><circle cx="186.7" cy="303.67" r="1.55"/><circle cx="189.98" cy="284.23" r="1.55"/><circle cx="182.95" cy="309.68" r="1.55"/><circle cx="191.14" cy="293.57" r="1.55"/><circle cx="192.97" cy="325.84" r="1.55"/><circle cx="172.11" cy="287.96" r="1.55"/><circle cx="178.98" cy="268.41" r="1.55"/><circle cx="193.83" cy="273.59" r="1.55"/><circle cx="178.79" cy="265.68" r="1.55"/><circle cx="173.97" cy="272.62" r="1.55"/><circle cx="197.4" cy="277.32" r="1.55"/><circle cx="182.85" cy="323.46" r="1.55"/><circle cx="204.07" cy="291.5" r="1.55"/><circle cx="190.5" cy="280.49" r="1.55"/><circle cx="174.94" cy="292.2" r="1.55"/><circle cx="193.15" cy="258.58" r="1.55"/><circle cx="180.42" cy="289.55" r="1.55"/><circle cx="199.19" cy="247.68" r="1.55"/><circle cx="196.12" cy="259.37" r="1.55"/><circle cx="197.28" cy="283.86" r="1.55"/><circle cx="173.45" cy="309.65" r="1.55"/><circle cx="172.66" cy="302.5" r="1.55"/><circle cx="198.63" cy="292.34" r="1.55"/><circle cx="176.28" cy="277.52" r="1.55"/><circle cx="178.36" cy="230.76" r="1.55"/><circle cx="172.52" cy="298.36" r="1.55"/><circle cx="177.06" cy="248.24" r="1.55"/><circle cx="187.6" cy="275.28" r="1.55"/><circle cx="204.07" cy="285.28" r="1.55"/><circle cx="182.42" cy="276.58" r="1.55"/><circle cx="180.32" cy="274.1" r="1.55"/><circle cx="199.65" cy="270.18" r="1.55"/><circle cx="177.77" cy="281.35" r="1.55"/><circle cx="193.09" cy="293.33" r="1.55"/><circle cx="192.42" cy="266.89" r="1.55"/><circle cx="203.3" cy="278.57" r="1.55"/><circle cx="172.99" cy="273.4" r="1.55"/><circle cx="190.65" cy="301.6" r="1.55"/><circle cx="184.52" cy="292.46" r="1.55"/><circle cx="199.5" cy="297.71" r="1.55"/><circle cx="180.08" cy="278.85" r="1.55"/><circle cx="195.81" cy="277.18" r="1.55"/><circle cx="177.8" cy="282.09" r="1.55"/><circle cx="188.33" cy="274.99" r="1.55"/><circle cx="204.42" cy="281.98" r="1.55"/><circle cx="179.66" cy="253.79" r="1.55"/><circle cx="180.98" cy="294.94" r="1.55"/><circle cx="202.7" cy="264.43" r="1.55"/><circle cx="194.43" cy="292.09" r="1.55"/><circle cx="173.74" cy="291.93" r="1.55"/><circle cx="177.84" cy="304.8" r="1.55"/><circle cx="179.56" cy="249.18" r="1.55"/><circle cx="181.36" cy="297.53" r="1.55"/><circle cx="200.22" cy="289.88" r="1.55"/><circle cx="195.32" cy="300.75" r="1.55"/><circle cx="204.81" cy="285.51" r="1.55"/><circle cx="194.27" cy="301.14" r="1.55"/><circle cx="192.85" cy="243.53" r="1.55"/><circle cx="184.53" cy="275.55" r="1.55"/><circle cx="195.89" cy="235.75" r="1.55"/><circle cx="188.28" cy="256.45" r="1.55"/><circle cx="173.5" cy="311.7" r="1.55"/><circle cx="188.23" cy="268.35" r="1.55"/><circle cx="184.56" cy="260.82" r="1.55"/><circle cx="189.55" cy="264.55" r="1.55"/><circle cx="173.16" cy="281.75" r="1.55"/><circle cx="172.45" cy="265.65" r="1.55"/><circle cx="204.92" cy="253.33" r="1.55"/><circle cx="184.12" cy="277.87" r="1.55"/><circle cx="182.72" cy="255.08" r="1.55"/><circle cx="176.54" cy="254.82" r="1.55"/><circle cx="191.64" cy="241.49" r="1.55"/><circle cx="202.6" cy="282.05" r="1.55"/><circle cx="177.63" cy="271.81" r="1.55"/><circle cx="188.51" cy="286.99" r="1.55"/><circle cx="188.49" cy="296.49" r="1.55"/><circle cx="197.54" cy="301.06" r="1.55"/><circle cx="190.71" cy="288.37" r="1.55"/><circle cx="179.62" cy="259.96" r="1.55"/><circle cx="177.95" cy="290.95" r="1.55"/><circle cx="196.14" cy="281.02" r="1.55"/><circle cx="174.16" cy="279.47" r="1.55"/><circle cx="200.9" cy="295.33" r="1.55"/><circle cx="172.64" cy="279.89" r="1.55"/><circle cx="177.94" cy="304.32" r="1.55"/><circle cx="187.4" cy="292.35" r="1.55"/><circle cx="200.2" cy="288.28" r="1.55"/><circle cx="192.57" cy="278.28" r="1.55"/><circle cx="196.86" cy="302.1" r="1.55"/><circle cx="197.37" cy="279.88" r="1.55"/><circle cx="196.06" cy="312.13" r="1.55"/><circle cx="173.26" cy="319.44" r="1.55"/><circle cx="199.56" cy="284.11" r="1.55"/><circle cx="176.52" cy="259.96" r="1.55"/><circle cx="177.02" cy="250.72" r="1.55"/><circle cx="172.78" cy="262.87" r="1.55"/><circle cx="172.47" cy="276.73" r="1.55"/><circle cx="201.32" cy="244.53" r="1.55"/><circle cx="184.45" cy="275.88" r="1.55"/><circle cx="174.44" cy="294.19" r="1.55"/><circle cx="173.09" cy="261.71" r="1.55"/><circle cx="200.28" cy="293.18" r="1.55"/><circle cx="191.95" cy="301.95" r="1.55"/><circle cx="202.65" cy="269.36" r="1.55"/><circle cx="172.77" cy="259.35" r="1.55"/><circle cx="175.33" cy="287.61" r="1.55"/><circle cx="181.25" cy="295.94" r="1.55"/><circle cx="177.99" cy="278.46" r="1.55"/><circle cx="175.31" cy="268" r="1.55"/><circle cx="178.32" cy="299.19" r="1.55"/><circle cx="193.27" cy="287.15" r="1.55"/><circle cx="177.22" cy="269.68" r="1.55"/><circle cx="177.23" cy="272.38" r="1.55"/><circle cx="189.71" cy="244.92" r="1.55"/><circle cx="184.27" cy="262.77" r="1.55"/><circle cx="176.59" cy="330.2" r="1.55"/><circle cx="190.82" cy="255.06" r="1.55"/><circle cx="188.77" cy="294.66" r="1.55"/><circle cx="184.69" cy="271.39" r="1.55"/><circle cx="187.63" cy="308.99" r="1.55"/><circle cx="172.85" cy="267.67" r="1.55"/><circle cx="192.41" cy="312.15" r="1.55"/><circle cx="178.07" cy="264.56" r="1.55"/><circle cx="182.92" cy="248.89" r="1.55"/><circle cx="171.82" cy="284.92" r="1.55"/><circle cx="201.68" cy="266.74" r="1.55"/><circle cx="191.48" cy="276.63" r="1.55"/><circle cx="184.83" cy="282.21" r="1.55"/><circle cx="189.92" cy="297.67" r="1.55"/><circle cx="203.46" cy="281.52" r="1.55"/><circle cx="175.99" cy="273.43" r="1.55"/><circle cx="184.54" cy="305.53" r="1.55"/><circle cx="195.57" cy="242.66" r="1.55"/><circle cx="184.15" cy="303.72" r="1.55"/><circle cx="195.53" cy="284.52" r="1.55"/><circle cx="202.38" cy="285.71" r="1.55"/><circle cx="172.89" cy="284.79" r="1.55"/><circle cx="181.17" cy="288.19" r="1.55"/><circle cx="181.46" cy="241.83" r="1.55"/><circle cx="197.01" cy="284.54" r="1.55"/><circle cx="198.17" cy="284.78" r="1.55"/><circle cx="195.28" cy="268.86" r="1.55"/><circle cx="202.94" cy="291.26" r="1.55"/><circle cx="177.81" cy="310.42" r="1.55"/><circle cx="184.87" cy="253.7" r="1.55"/><circle cx="200.5" cy="282.73" r="1.55"/><circle cx="197.53" cy="258.53" r="1.55"/><circle cx="175.33" cy="258.46" r="1.55"/><circle cx="204.81" cy="244.42" r="1.55"/><circle cx="196.68" cy="266.42" r="1.55"/><circle cx="200.94" cy="276.31" r="1.55"/><circle cx="183.81" cy="313.47" r="1.55"/><circle cx="192.09" cy="262.87" r="1.55"/><circle cx="204.1" cy="297.89" r="1.55"/><circle cx="202.03" cy="254.69" r="1.55"/><circle cx="191.12" cy="289.71" r="1.55"/><circle cx="201.76" cy="299" r="1.55"/><circle cx="205.47" cy="279.27" r="1.55"/><circle cx="200.03" cy="282.71" r="1.55"/><circle cx="193.8" cy="276.96" r="1.55"/><circle cx="204.15" cy="262.19" r="1.55"/><circle cx="176.39" cy="251.4" r="1.55"/><circle cx="185.23" cy="276.52" r="1.55"/><circle cx="190.68" cy="252.69" r="1.55"/></g>
<text transform="translate(252.8 205) scale(1 1.1)" font-size="12.6" font-weight="bold" fill="#111" color="#111">F</text>
<text transform="translate(267.3 205) scale(1 1.1)" font-size="11.5" fill="#1a1a1a" color="#1a1a1a" style="stroke-width:0.12px"><tspan font-style="italic">SLC1A4</tspan> (GSE31210)</text>
<text x="256.8" y="288.2" font-size="7.9" text-anchor="middle" font-weight="normal" font-style="normal" fill="#1a1a1a" color="#1a1a1a" transform="rotate(-90 256.8 288.2)" >Relative expression level</text>
<line x1="282.5" y1="219.2" x2="282.5" y2="348" stroke="#555555" stroke-width="1" />
<line x1="282" y1="347.5" x2="454.5" y2="347.5" stroke="#555555" stroke-width="1" />
<line x1="280.3" y1="244.2" x2="282.5" y2="244.2" stroke="#555555" stroke-width="0.9" />
<text transform="translate(279.3 247.44) scale(0.9 1.0)" font-size="9.0" text-anchor="end" font-weight="normal" font-style="normal" fill="#444444" color="#444444" >11.00</text>
<line x1="280.3" y1="277.6" x2="282.5" y2="277.6" stroke="#555555" stroke-width="0.9" />
<text transform="translate(279.3 280.84) scale(0.9 1.0)" font-size="9.0" text-anchor="end" font-weight="normal" font-style="normal" fill="#444444" color="#444444" >10.00</text>
<line x1="280.3" y1="311" x2="282.5" y2="311" stroke="#555555" stroke-width="0.9" />
<text transform="translate(279.3 314.24) scale(0.9 1.0)" font-size="9.0" text-anchor="end" font-weight="normal" font-style="normal" fill="#444444" color="#444444" >9.00</text>
<line x1="280.3" y1="344.4" x2="282.5" y2="344.4" stroke="#555555" stroke-width="0.9" />
<text transform="translate(279.3 347.64) scale(0.9 1.0)" font-size="9.0" text-anchor="end" font-weight="normal" font-style="normal" fill="#444444" color="#444444" >8.00</text>
<line x1="321.9" y1="347.5" x2="321.9" y2="349.7" stroke="#555555" stroke-width="0.9" />
<text transform="translate(322.9 358) scale(0.9 1.0)" font-size="8.4" text-anchor="middle" font-weight="normal" font-style="normal" fill="#444444" color="#444444" >Normal</text>
<line x1="388.4" y1="347.5" x2="388.4" y2="349.7" stroke="#555555" stroke-width="0.9" />
<text transform="translate(388.6 358) scale(0.9 1.0)" font-size="8.4" text-anchor="middle" font-weight="normal" font-style="normal" fill="#444444" color="#444444" >LUAD</text>
<path d="M321.5 226.2 V222.5 H384.5 V226.2" fill="none" stroke="#4a4a4a" stroke-width="0.9"/>
<text x="353.1" y="221.57" font-size="7.6" text-anchor="middle" font-weight="normal" font-style="normal" fill="#111" color="#111" >***</text>
<line x1="321.5" y1="279" x2="321.5" y2="302.5" stroke="#3f67a8" stroke-width="1.0" />
<line x1="321.5" y1="321.5" x2="321.5" y2="327.7" stroke="#3f67a8" stroke-width="1.0" />
<line x1="312.3" y1="279.5" x2="331.6" y2="279.5" stroke="#3f67a8" stroke-width="1.0" />
<line x1="312.3" y1="327.5" x2="331.6" y2="327.5" stroke="#3f67a8" stroke-width="1.0" />
<rect x="304.5" y="302.5" width="34" height="19" fill="none" stroke="#3f67a8" stroke-width="1.0"/>
<line x1="304.5" y1="308.5" x2="338.5" y2="308.5" stroke="#3f67a8" stroke-width="1.6" />
<line x1="388.5" y1="234.6" x2="388.5" y2="272.5" stroke="#d9b34e" stroke-width="1.0" />
<line x1="388.5" y1="298.5" x2="388.5" y2="331.9" stroke="#d9b34e" stroke-width="1.0" />
<line x1="378.2" y1="234.5" x2="399" y2="234.5" stroke="#d9b34e" stroke-width="1.0" />
<line x1="378.2" y1="331.5" x2="399" y2="331.5" stroke="#d9b34e" stroke-width="1.0" />
<rect x="371.5" y="272.5" width="33" height="26" fill="none" stroke="#d9b34e" stroke-width="1.0"/>
<line x1="371.5" y1="284.4" x2="404.5" y2="284.4" stroke="#d9b34e" stroke-width="1.6" />
<g fill="#3f66a7" fill-opacity="0.9"><circle cx="327.16" cy="278.91" r="1.65"/><circle cx="314.43" cy="285.7" r="1.65"/><circle cx="313.58" cy="295.47" r="1.65"/><circle cx="315.7" cy="297.33" r="1.65"/><circle cx="322.24" cy="303.28" r="1.65"/><circle cx="318.68" cy="304.97" r="1.65"/><circle cx="315.28" cy="306.67" r="1.65"/><circle cx="322.24" cy="308.37" r="1.65"/><circle cx="329.29" cy="304.8" r="1.65"/><circle cx="315.28" cy="315.42" r="1.65"/><circle cx="316.55" cy="316.69" r="1.65"/><circle cx="319.35" cy="321.36" r="1.65"/><circle cx="324.62" cy="322.21" r="1.65"/><circle cx="322.92" cy="325.6" r="1.65"/><circle cx="322.24" cy="328.15" r="1.65"/><circle cx="327.33" cy="326.45" r="1.65"/><circle cx="320.37" cy="306.5" r="1.65"/><circle cx="325.47" cy="324.33" r="1.65"/></g>
<g fill="#d4ad40" fill-opacity="0.9"><circle cx="386.06" cy="266.25" r="1.75"/><circle cx="384.58" cy="264.54" r="1.75"/><circle cx="398.19" cy="264.21" r="1.75"/><circle cx="384.71" cy="277" r="1.75"/><circle cx="397.1" cy="288.68" r="1.75"/><circle cx="395.9" cy="271.46" r="1.75"/><circle cx="389.44" cy="294.48" r="1.75"/><circle cx="379.57" cy="292.72" r="1.75"/><circle cx="394.57" cy="317.12" r="1.75"/><circle cx="378.78" cy="275.28" r="1.75"/><circle cx="389.06" cy="272.96" r="1.75"/><circle cx="378.94" cy="287.03" r="1.75"/><circle cx="378.84" cy="303.01" r="1.75"/><circle cx="385.83" cy="266.74" r="1.75"/><circle cx="380.24" cy="273.95" r="1.75"/><circle cx="398.62" cy="255.77" r="1.75"/><circle cx="389.51" cy="279.2" r="1.75"/><circle cx="396.54" cy="265.75" r="1.75"/><circle cx="397.84" cy="286.37" r="1.75"/><circle cx="393.47" cy="285.29" r="1.75"/><circle cx="391.01" cy="284.9" r="1.75"/><circle cx="387.21" cy="285.94" r="1.75"/><circle cx="393.91" cy="292.27" r="1.75"/><circle cx="391.53" cy="274.14" r="1.75"/><circle cx="380.28" cy="262.19" r="1.75"/><circle cx="388.46" cy="287.24" r="1.75"/><circle cx="385.9" cy="261.65" r="1.75"/><circle cx="388.14" cy="275.39" r="1.75"/><circle cx="392.49" cy="283.85" r="1.75"/><circle cx="391.96" cy="266.92" r="1.75"/><circle cx="389.33" cy="291.59" r="1.75"/><circle cx="394.15" cy="318.38" r="1.75"/><circle cx="394.95" cy="269.92" r="1.75"/><circle cx="378.83" cy="292.85" r="1.75"/><circle cx="379.99" cy="292.89" r="1.75"/><circle cx="377.84" cy="270.64" r="1.75"/><circle cx="380.33" cy="296.5" r="1.75"/><circle cx="397.9" cy="260.58" r="1.75"/><circle cx="383.61" cy="310.67" r="1.75"/><circle cx="386.46" cy="280.09" r="1.75"/><circle cx="387.04" cy="269.09" r="1.75"/><circle cx="389.22" cy="262.13" r="1.75"/><circle cx="382.95" cy="274.94" r="1.75"/><circle cx="393.93" cy="288.28" r="1.75"/><circle cx="384.1" cy="293.33" r="1.75"/><circle cx="395.4" cy="292.59" r="1.75"/><circle cx="394.48" cy="269.11" r="1.75"/><circle cx="376.83" cy="282.15" r="1.75"/><circle cx="388.85" cy="274.94" r="1.75"/><circle cx="378.85" cy="261.24" r="1.75"/><circle cx="396.25" cy="308.43" r="1.75"/><circle cx="378.33" cy="296.94" r="1.75"/><circle cx="382.68" cy="280.28" r="1.75"/><circle cx="393.71" cy="287.11" r="1.75"/><circle cx="389.8" cy="282.28" r="1.75"/><circle cx="391.47" cy="283.34" r="1.75"/><circle cx="385.89" cy="316.1" r="1.75"/><circle cx="388.25" cy="278.09" r="1.75"/><circle cx="381.27" cy="294.45" r="1.75"/><circle cx="386.97" cy="305.2" r="1.75"/><circle cx="382.46" cy="275.98" r="1.75"/><circle cx="391.66" cy="298.61" r="1.75"/><circle cx="379.15" cy="267.8" r="1.75"/><circle cx="379.83" cy="270.36" r="1.75"/><circle cx="381.15" cy="274.05" r="1.75"/><circle cx="388.52" cy="284.02" r="1.75"/><circle cx="389.6" cy="276.21" r="1.75"/><circle cx="376.87" cy="284.1" r="1.75"/><circle cx="398.52" cy="267.02" r="1.75"/><circle cx="395.18" cy="277.91" r="1.75"/><circle cx="385.16" cy="270.2" r="1.75"/><circle cx="380.29" cy="269.58" r="1.75"/><circle cx="394.97" cy="279.05" r="1.75"/><circle cx="398.29" cy="299.66" r="1.75"/><circle cx="380.72" cy="267.83" r="1.75"/><circle cx="393.43" cy="268.86" r="1.75"/><circle cx="394.8" cy="290.61" r="1.75"/><circle cx="397.42" cy="320.3" r="1.75"/><circle cx="381.39" cy="306.75" r="1.75"/><circle cx="379.45" cy="293.31" r="1.75"/><circle cx="380.42" cy="269.57" r="1.75"/><circle cx="381.89" cy="304.99" r="1.75"/><circle cx="396.6" cy="272.38" r="1.75"/><circle cx="396.82" cy="288.11" r="1.75"/><circle cx="387.22" cy="282.34" r="1.75"/><circle cx="379.6" cy="309.31" r="1.75"/><circle cx="384.56" cy="288.36" r="1.75"/><circle cx="382.11" cy="285.47" r="1.75"/><circle cx="391.06" cy="298.86" r="1.75"/><circle cx="392.64" cy="284.02" r="1.75"/><circle cx="393.87" cy="301.96" r="1.75"/><circle cx="386.41" cy="297.82" r="1.75"/><circle cx="386.85" cy="291.75" r="1.75"/><circle cx="387.09" cy="286.33" r="1.75"/><circle cx="384.94" cy="270.49" r="1.75"/><circle cx="386.81" cy="269.16" r="1.75"/><circle cx="391.88" cy="307.06" r="1.75"/><circle cx="392.45" cy="332.35" r="1.75"/><circle cx="383.98" cy="282.28" r="1.75"/><circle cx="389.27" cy="299.28" r="1.75"/><circle cx="379.99" cy="305.01" r="1.75"/><circle cx="377.79" cy="280.5" r="1.75"/><circle cx="385.31" cy="280.38" r="1.75"/><circle cx="384.7" cy="301.73" r="1.75"/><circle cx="377.52" cy="269.08" r="1.75"/><circle cx="378.55" cy="295.14" r="1.75"/><circle cx="386.17" cy="301.25" r="1.75"/><circle cx="397.53" cy="274.53" r="1.75"/><circle cx="395.23" cy="327.42" r="1.75"/><circle cx="377.46" cy="234.08" r="1.75"/><circle cx="383.77" cy="269.79" r="1.75"/><circle cx="384.91" cy="281.11" r="1.75"/><circle cx="383.64" cy="263.88" r="1.75"/><circle cx="379.82" cy="273.92" r="1.75"/><circle cx="389.79" cy="280.4" r="1.75"/><circle cx="395.26" cy="278.25" r="1.75"/><circle cx="385.2" cy="306.04" r="1.75"/><circle cx="380.68" cy="275.45" r="1.75"/><circle cx="379.12" cy="284.4" r="1.75"/><circle cx="377.13" cy="303.99" r="1.75"/><circle cx="393.64" cy="290.42" r="1.75"/><circle cx="381.88" cy="270.59" r="1.75"/><circle cx="392.73" cy="277.12" r="1.75"/><circle cx="394.2" cy="293.41" r="1.75"/><circle cx="378.64" cy="251.25" r="1.75"/><circle cx="380.96" cy="283.46" r="1.75"/><circle cx="383.74" cy="294.8" r="1.75"/><circle cx="393.72" cy="285" r="1.75"/><circle cx="393.01" cy="262.9" r="1.75"/><circle cx="383.46" cy="259.46" r="1.75"/><circle cx="386.74" cy="285.98" r="1.75"/><circle cx="384.61" cy="292.04" r="1.75"/><circle cx="387.18" cy="291.2" r="1.75"/><circle cx="394.26" cy="296.28" r="1.75"/><circle cx="382.56" cy="307.41" r="1.75"/><circle cx="394.63" cy="278.36" r="1.75"/><circle cx="397.04" cy="248.83" r="1.75"/><circle cx="390.02" cy="273.66" r="1.75"/><circle cx="397.9" cy="290.7" r="1.75"/><circle cx="397.44" cy="277.94" r="1.75"/><circle cx="380.57" cy="284.43" r="1.75"/><circle cx="398.61" cy="293.83" r="1.75"/><circle cx="381.21" cy="262.35" r="1.75"/><circle cx="394.5" cy="280.33" r="1.75"/><circle cx="379.47" cy="321.2" r="1.75"/><circle cx="383.46" cy="279.24" r="1.75"/><circle cx="386.53" cy="283.08" r="1.75"/><circle cx="395.26" cy="296.94" r="1.75"/><circle cx="391.78" cy="264.15" r="1.75"/><circle cx="381.28" cy="279.59" r="1.75"/><circle cx="396.55" cy="299.84" r="1.75"/><circle cx="395.84" cy="283.34" r="1.75"/><circle cx="388.02" cy="276.05" r="1.75"/><circle cx="377.91" cy="291.65" r="1.75"/><circle cx="383.08" cy="290.01" r="1.75"/><circle cx="383.23" cy="291.06" r="1.75"/><circle cx="386.01" cy="249.85" r="1.75"/><circle cx="397.54" cy="304.76" r="1.75"/><circle cx="389.89" cy="296.77" r="1.75"/><circle cx="394.83" cy="295.87" r="1.75"/><circle cx="378.37" cy="291.83" r="1.75"/><circle cx="382.2" cy="321.58" r="1.75"/><circle cx="392.89" cy="284.61" r="1.75"/><circle cx="384.29" cy="290.58" r="1.75"/><circle cx="381.8" cy="295.12" r="1.75"/><circle cx="378.19" cy="286.19" r="1.75"/><circle cx="377.92" cy="325.11" r="1.75"/><circle cx="385.87" cy="297.69" r="1.75"/><circle cx="388.82" cy="277.6" r="1.75"/><circle cx="385.6" cy="295.43" r="1.75"/><circle cx="389.23" cy="299.78" r="1.75"/><circle cx="383.2" cy="290.63" r="1.75"/><circle cx="377.17" cy="272.44" r="1.75"/><circle cx="391.64" cy="261.93" r="1.75"/><circle cx="384.19" cy="285.06" r="1.75"/><circle cx="387.61" cy="301.06" r="1.75"/><circle cx="385.11" cy="308.56" r="1.75"/><circle cx="382.74" cy="273.56" r="1.75"/><circle cx="377.94" cy="288.57" r="1.75"/><circle cx="383.32" cy="304.4" r="1.75"/><circle cx="383.36" cy="280.43" r="1.75"/><circle cx="379.33" cy="280.89" r="1.75"/><circle cx="377.45" cy="270.82" r="1.75"/><circle cx="387.37" cy="258.61" r="1.75"/><circle cx="377.23" cy="309.96" r="1.75"/><circle cx="396.14" cy="285.39" r="1.75"/><circle cx="384.73" cy="296.51" r="1.75"/><circle cx="386.56" cy="273.9" r="1.75"/><circle cx="388.36" cy="265.66" r="1.75"/><circle cx="377.33" cy="245.49" r="1.75"/><circle cx="379.03" cy="292.86" r="1.75"/><circle cx="394.08" cy="291.34" r="1.75"/><circle cx="389.04" cy="292.56" r="1.75"/><circle cx="387.65" cy="307.5" r="1.75"/><circle cx="384.36" cy="307.63" r="1.75"/><circle cx="393.33" cy="304.65" r="1.75"/><circle cx="387.87" cy="312.49" r="1.75"/><circle cx="394.23" cy="307.45" r="1.75"/><circle cx="395.19" cy="269.19" r="1.75"/><circle cx="396.47" cy="289.18" r="1.75"/><circle cx="392.77" cy="295.59" r="1.75"/><circle cx="391.63" cy="298.94" r="1.75"/><circle cx="386.95" cy="299.45" r="1.75"/><circle cx="388.53" cy="277.45" r="1.75"/><circle cx="389.54" cy="295.32" r="1.75"/><circle cx="388.36" cy="298.39" r="1.75"/><circle cx="394.82" cy="305.29" r="1.75"/><circle cx="395.68" cy="260.02" r="1.75"/><circle cx="377.95" cy="278.24" r="1.75"/><circle cx="393.34" cy="309.82" r="1.75"/><circle cx="390.36" cy="276.8" r="1.75"/><circle cx="389.96" cy="299.67" r="1.75"/><circle cx="396.78" cy="293.88" r="1.75"/><circle cx="377.89" cy="295.87" r="1.75"/><circle cx="387.25" cy="289.02" r="1.75"/><circle cx="385.06" cy="278.9" r="1.75"/><circle cx="397.66" cy="274.65" r="1.75"/><circle cx="380.42" cy="321.87" r="1.75"/><circle cx="389.19" cy="291.25" r="1.75"/><circle cx="379.98" cy="270.55" r="1.75"/><circle cx="393.39" cy="279.09" r="1.75"/><circle cx="387.56" cy="279.74" r="1.75"/><circle cx="392.98" cy="308.72" r="1.75"/><circle cx="383.56" cy="312.84" r="1.75"/><circle cx="396.23" cy="274.89" r="1.75"/><circle cx="376.95" cy="279.51" r="1.75"/><circle cx="381.74" cy="285.27" r="1.75"/><circle cx="392.93" cy="297.88" r="1.75"/><circle cx="396.14" cy="274.75" r="1.75"/><circle cx="393.9" cy="296.78" r="1.75"/><circle cx="382.85" cy="297" r="1.75"/><circle cx="378.58" cy="284.09" r="1.75"/><circle cx="392.41" cy="290.4" r="1.75"/><circle cx="392.89" cy="268.97" r="1.75"/><circle cx="378.13" cy="290.71" r="1.75"/><circle cx="397.37" cy="259.38" r="1.75"/><circle cx="388.41" cy="262.55" r="1.75"/><circle cx="377.54" cy="281.46" r="1.75"/><circle cx="387.35" cy="281.14" r="1.75"/><circle cx="384.24" cy="299.99" r="1.75"/><circle cx="379.1" cy="282.92" r="1.75"/><circle cx="396.28" cy="278.07" r="1.75"/><circle cx="397.36" cy="259.78" r="1.75"/><circle cx="379.53" cy="272.11" r="1.75"/><circle cx="386.6" cy="288.28" r="1.75"/><circle cx="382.81" cy="287.71" r="1.75"/><circle cx="391.59" cy="307.55" r="1.75"/><circle cx="379.22" cy="279.42" r="1.75"/><circle cx="384.14" cy="287.83" r="1.75"/><circle cx="385.83" cy="281.92" r="1.75"/><circle cx="387.2" cy="342.73" r="1.75"/><circle cx="386.37" cy="340.39" r="1.75"/><circle cx="389.91" cy="227.5" r="1.75"/><circle cx="397.48" cy="229.17" r="1.75"/></g>
<text transform="translate(445.5 205.5) scale(1 1.1)" font-size="12.6" font-weight="bold" fill="#111" color="#111">G</text>
<text transform="translate(459.9 205.5) scale(1 1.1)" font-size="11.5" fill="#1a1a1a" color="#1a1a1a" style="stroke-width:0.12px"><tspan font-style="italic">SLC1A4</tspan> (inhouse)</text>
<text x="460.4" y="288.4" font-size="7.9" text-anchor="middle" font-weight="normal" font-style="normal" fill="#1a1a1a" color="#1a1a1a" transform="rotate(-90 460.4 288.4)" >Relative expression level</text>
<line x1="481.5" y1="218.8" x2="481.5" y2="348" stroke="#555555" stroke-width="1" />
<line x1="481" y1="347.5" x2="653.5" y2="347.5" stroke="#555555" stroke-width="1" />
<line x1="479.3" y1="235.6" x2="481.5" y2="235.6" stroke="#555555" stroke-width="0.9" />
<text transform="translate(478.3 238.66) scale(0.9 1.0)" font-size="8.5" text-anchor="end" font-weight="normal" font-style="normal" fill="#444444" color="#444444" >5.00</text>
<line x1="479.3" y1="258.62" x2="481.5" y2="258.62" stroke="#555555" stroke-width="0.9" />
<text transform="translate(478.3 261.69) scale(0.9 1.0)" font-size="8.5" text-anchor="end" font-weight="normal" font-style="normal" fill="#444444" color="#444444" >4.00</text>
<line x1="479.3" y1="281.65" x2="481.5" y2="281.65" stroke="#555555" stroke-width="0.9" />
<text transform="translate(478.3 284.71) scale(0.9 1.0)" font-size="8.5" text-anchor="end" font-weight="normal" font-style="normal" fill="#444444" color="#444444" >3.00</text>
<line x1="479.3" y1="304.68" x2="481.5" y2="304.68" stroke="#555555" stroke-width="0.9" />
<text transform="translate(478.3 307.74) scale(0.9 1.0)" font-size="8.5" text-anchor="end" font-weight="normal" font-style="normal" fill="#444444" color="#444444" >2.00</text>
<line x1="479.3" y1="327.7" x2="481.5" y2="327.7" stroke="#555555" stroke-width="0.9" />
<text transform="translate(478.3 330.76) scale(0.9 1.0)" font-size="8.5" text-anchor="end" font-weight="normal" font-style="normal" fill="#444444" color="#444444" >1.00</text>
<line x1="526.3" y1="347.5" x2="526.3" y2="349.7" stroke="#555555" stroke-width="0.9" />
<text transform="translate(526.1 358) scale(0.9 1.0)" font-size="8.4" text-anchor="middle" font-weight="normal" font-style="normal" fill="#444444" color="#444444" >Normal</text>
<line x1="600.5" y1="347.5" x2="600.5" y2="349.7" stroke="#555555" stroke-width="0.9" />
<text transform="translate(601.7 358) scale(0.9 1.0)" font-size="8.4" text-anchor="middle" font-weight="normal" font-style="normal" fill="#444444" color="#444444" >LUAD</text>
<path d="M526.5 227.4 V224.5 H600.5 V227.4" fill="none" stroke="#4a4a4a" stroke-width="0.9"/>
<text x="565.2" y="221.74" font-size="7.6" text-anchor="middle" font-weight="normal" font-style="normal" fill="#222" color="#222" >NS</text>
<line x1="526.3" y1="283.26" x2="600.5" y2="301.22" stroke="#b9b5b2" stroke-width="1.15" />
<line x1="526.3" y1="285.1" x2="600.5" y2="319.64" stroke="#b9b5b2" stroke-width="1.15" />
<line x1="526.3" y1="301.22" x2="600.5" y2="231" stroke="#b9b5b2" stroke-width="1.15" />
<line x1="526.3" y1="315.04" x2="600.5" y2="325.4" stroke="#b9b5b2" stroke-width="1.15" />
<line x1="526.3" y1="331.15" x2="600.5" y2="302.37" stroke="#b9b5b2" stroke-width="1.15" />
<line x1="526.3" y1="332.31" x2="600.5" y2="320.79" stroke="#b9b5b2" stroke-width="1.15" />
<line x1="526.3" y1="339.21" x2="600.5" y2="312.73" stroke="#b9b5b2" stroke-width="1.15" />
<line x1="526.3" y1="340.36" x2="600.5" y2="323.09" stroke="#b9b5b2" stroke-width="1.15" />
<line x1="526.3" y1="341.05" x2="600.5" y2="327.7" stroke="#b9b5b2" stroke-width="1.15" />
<line x1="526.3" y1="341.51" x2="600.5" y2="338.06" stroke="#b9b5b2" stroke-width="1.15" />
<line x1="526.3" y1="338.06" x2="600.5" y2="318.49" stroke="#b9b5b2" stroke-width="1.15" />
<line x1="526" y1="282.8" x2="526" y2="304" stroke="#3f67a8" stroke-width="1.8" />
<line x1="526" y1="340" x2="526" y2="341.2" stroke="#3f67a8" stroke-width="1.8" />
<rect x="507" y="304" width="38" height="36" fill="none" stroke="#3f67a8" stroke-width="1.8"/>
<line x1="507" y1="331.7" x2="545" y2="331.7" stroke="#3f67a8" stroke-width="2.6" />
<line x1="601" y1="300" x2="601" y2="305" stroke="#d9b34e" stroke-width="1.8" />
<line x1="601" y1="327" x2="601" y2="338.7" stroke="#d9b34e" stroke-width="1.8" />
<rect x="582" y="305" width="38" height="22" fill="none" stroke="#d9b34e" stroke-width="1.8"/>
<line x1="582" y1="319.7" x2="620" y2="319.7" stroke="#d9b34e" stroke-width="2.6" />
<g fill="#3f66a7" fill-opacity="1"><circle cx="526.3" cy="283.26" r="1.4"/><circle cx="526.3" cy="285.1" r="1.4"/><circle cx="526.3" cy="301.22" r="1.4"/><circle cx="526.3" cy="315.04" r="1.4"/><circle cx="526.3" cy="331.15" r="1.4"/><circle cx="526.3" cy="332.31" r="1.4"/><circle cx="526.3" cy="339.21" r="1.4"/><circle cx="526.3" cy="340.36" r="1.4"/><circle cx="526.3" cy="341.05" r="1.4"/><circle cx="526.3" cy="341.51" r="1.4"/><circle cx="526.3" cy="338.06" r="1.4"/></g>
<g fill="#d4ad40" fill-opacity="1"><circle cx="600.5" cy="301.22" r="1.4"/><circle cx="600.5" cy="319.64" r="1.4"/><circle cx="600.5" cy="231" r="1.4"/><circle cx="600.5" cy="325.4" r="1.4"/><circle cx="600.5" cy="302.37" r="1.4"/><circle cx="600.5" cy="320.79" r="1.4"/><circle cx="600.5" cy="312.73" r="1.4"/><circle cx="600.5" cy="323.09" r="1.4"/><circle cx="600.5" cy="327.7" r="1.4"/><circle cx="600.5" cy="338.06" r="1.4"/><circle cx="600.5" cy="318.49" r="1.4"/></g>
<text transform="translate(7.4 404.2) scale(1 1.1)" font-size="12.6" font-weight="bold" fill="#111" color="#111">H</text>
<text transform="translate(21.8 404.2) scale(1 1.1)" font-size="11.5" fill="#1a1a1a" color="#1a1a1a" style="stroke-width:0.12px">cg09596674 (TCGA)</text>
<text x="7.8" y="478" font-size="7.7" text-anchor="middle" font-weight="normal" font-style="normal" fill="#1a1a1a" color="#1a1a1a" transform="rotate(-90 7.8 478)" >Methylation Level</text>
<line x1="26.5" y1="409.7" x2="26.5" y2="538" stroke="#555555" stroke-width="1" />
<line x1="26" y1="537.5" x2="160.8" y2="537.5" stroke="#555555" stroke-width="1" />
<line x1="24.3" y1="415.5" x2="26.5" y2="415.5" stroke="#555555" stroke-width="0.9" />
<text transform="translate(23.5 418.13) scale(0.9 1.0)" font-size="7.3" text-anchor="end" font-weight="normal" font-style="normal" fill="#444444" color="#444444" >1.00</text>
<line x1="24.3" y1="444.48" x2="26.5" y2="444.48" stroke="#555555" stroke-width="0.9" />
<text transform="translate(23.5 447.1) scale(0.9 1.0)" font-size="7.3" text-anchor="end" font-weight="normal" font-style="normal" fill="#444444" color="#444444" >0.75</text>
<line x1="24.3" y1="473.45" x2="26.5" y2="473.45" stroke="#555555" stroke-width="0.9" />
<text transform="translate(23.5 476.08) scale(0.9 1.0)" font-size="7.3" text-anchor="end" font-weight="normal" font-style="normal" fill="#444444" color="#444444" >0.50</text>
<line x1="24.3" y1="502.42" x2="26.5" y2="502.42" stroke="#555555" stroke-width="0.9" />
<text transform="translate(23.5 505.05) scale(0.9 1.0)" font-size="7.3" text-anchor="end" font-weight="normal" font-style="normal" fill="#444444" color="#444444" >0.25</text>
<line x1="24.3" y1="531.4" x2="26.5" y2="531.4" stroke="#555555" stroke-width="0.9" />
<text transform="translate(23.5 534.03) scale(0.9 1.0)" font-size="7.3" text-anchor="end" font-weight="normal" font-style="normal" fill="#444444" color="#444444" >0.00</text>
<text transform="translate(60.6 545.8) scale(0.9 1.0)" font-size="7.6" text-anchor="middle" font-weight="normal" font-style="normal" fill="#444444" color="#444444" >Normal</text>
<text transform="translate(135 545.8) scale(0.9 1.0)" font-size="7.6" text-anchor="middle" font-weight="normal" font-style="normal" fill="#444444" color="#444444" >LUAD</text>
<path d="M65.5 419.9 V418.5 H132.5 V419.9" fill="none" stroke="#4a4a4a" stroke-width="0.9"/>
<text x="99.3" y="415.78" font-size="7.2" text-anchor="middle" font-weight="normal" font-style="normal" fill="#111" color="#111" >***</text>
<line x1="69.5" y1="476.7" x2="69.5" y2="479.5" stroke="#3f67a8" stroke-width="1.0" />
<line x1="69.5" y1="486.5" x2="69.5" y2="496.4" stroke="#3f67a8" stroke-width="1.0" />
<line x1="57" y1="476.5" x2="75" y2="476.5" stroke="#3f67a8" stroke-width="1.0" />
<line x1="57" y1="496.5" x2="75" y2="496.5" stroke="#3f67a8" stroke-width="1.0" />
<rect x="51.5" y="479.5" width="36" height="7" fill="none" stroke="#3f67a8" stroke-width="1.0"/>
<line x1="51.5" y1="482.5" x2="87.5" y2="482.5" stroke="#3f67a8" stroke-width="1.6" />
<line x1="132.5" y1="437.8" x2="132.5" y2="454.5" stroke="#d9b34e" stroke-width="1.0" />
<line x1="132.5" y1="477.5" x2="132.5" y2="510" stroke="#d9b34e" stroke-width="1.0" />
<line x1="124.8" y1="437.5" x2="139.3" y2="437.5" stroke="#d9b34e" stroke-width="1.0" />
<line x1="124.8" y1="510.5" x2="139.3" y2="510.5" stroke="#d9b34e" stroke-width="1.0" />
<rect x="110.5" y="454.5" width="43" height="23" fill="none" stroke="#d9b34e" stroke-width="1.0"/>
<line x1="110.5" y1="463.6" x2="153.5" y2="463.6" stroke="#d9b34e" stroke-width="1.6" />
<g fill="#5580b6" fill-opacity="0.8" stroke="#3a60a0" stroke-width="0.45"><circle cx="71.63" cy="502.42" r="1.6"/><circle cx="65.29" cy="496.63" r="1.6"/><circle cx="72.42" cy="495.47" r="1.6"/><circle cx="72.95" cy="493.15" r="1.6"/><circle cx="66.24" cy="491.99" r="1.6"/><circle cx="60.05" cy="490.83" r="1.6"/><circle cx="66.65" cy="489.68" r="1.6"/><circle cx="70.22" cy="477.64" r="1.6"/><circle cx="61.43" cy="477.89" r="1.6"/><circle cx="69.62" cy="478.71" r="1.6"/><circle cx="56.81" cy="484.98" r="1.6"/><circle cx="78.24" cy="484.81" r="1.6"/><circle cx="58.5" cy="482.56" r="1.6"/><circle cx="58.88" cy="480.65" r="1.6"/><circle cx="77.97" cy="481.03" r="1.6"/><circle cx="77.7" cy="483.71" r="1.6"/><circle cx="77.06" cy="477.01" r="1.6"/><circle cx="74.87" cy="484.1" r="1.6"/><circle cx="75.06" cy="487.16" r="1.6"/><circle cx="74.35" cy="486.41" r="1.6"/><circle cx="67.73" cy="485.17" r="1.6"/><circle cx="54.93" cy="479.73" r="1.6"/><circle cx="72.03" cy="478.59" r="1.6"/><circle cx="74.73" cy="486.92" r="1.6"/><circle cx="74.78" cy="484.89" r="1.6"/><circle cx="54.13" cy="484.83" r="1.6"/><circle cx="54.59" cy="479.15" r="1.6"/><circle cx="72" cy="477.99" r="1.6"/><circle cx="65.69" cy="484.61" r="1.6"/><circle cx="76.24" cy="486.29" r="1.6"/><circle cx="78.76" cy="477.27" r="1.6"/><circle cx="64.62" cy="477.22" r="1.6"/></g>
<g fill="#d4ad40" fill-opacity="0.9"><circle cx="145.58" cy="468.46" r="1.5"/><circle cx="128.74" cy="474.24" r="1.5"/><circle cx="128.97" cy="439.28" r="1.5"/><circle cx="139.39" cy="475.96" r="1.5"/><circle cx="118.24" cy="450.66" r="1.5"/><circle cx="131.09" cy="475.48" r="1.5"/><circle cx="125.37" cy="455.26" r="1.5"/><circle cx="133.65" cy="449.39" r="1.5"/><circle cx="138.75" cy="459.87" r="1.5"/><circle cx="142.47" cy="458.15" r="1.5"/><circle cx="132.2" cy="449.24" r="1.5"/><circle cx="137.56" cy="479.36" r="1.5"/><circle cx="119.8" cy="450.28" r="1.5"/><circle cx="136.63" cy="481.18" r="1.5"/><circle cx="144.46" cy="470.92" r="1.5"/><circle cx="135.35" cy="445.93" r="1.5"/><circle cx="131.72" cy="453.29" r="1.5"/><circle cx="132.32" cy="446.7" r="1.5"/><circle cx="129.44" cy="468.51" r="1.5"/><circle cx="122.69" cy="472.08" r="1.5"/><circle cx="123.22" cy="471.36" r="1.5"/><circle cx="140.54" cy="445.46" r="1.5"/><circle cx="132.46" cy="458.77" r="1.5"/><circle cx="118.62" cy="481.22" r="1.5"/><circle cx="135.34" cy="440.04" r="1.5"/><circle cx="141.59" cy="459.53" r="1.5"/><circle cx="136.38" cy="481.78" r="1.5"/><circle cx="122.73" cy="476.75" r="1.5"/><circle cx="145.1" cy="485.97" r="1.5"/><circle cx="122.78" cy="488.29" r="1.5"/><circle cx="132.24" cy="464.67" r="1.5"/><circle cx="130.84" cy="488.36" r="1.5"/><circle cx="122.31" cy="451.31" r="1.5"/><circle cx="125.24" cy="452.67" r="1.5"/><circle cx="122.9" cy="454.9" r="1.5"/><circle cx="122.36" cy="469.25" r="1.5"/><circle cx="118.69" cy="490.48" r="1.5"/><circle cx="136.22" cy="496.99" r="1.5"/><circle cx="136.82" cy="466.58" r="1.5"/><circle cx="124.8" cy="451.12" r="1.5"/><circle cx="145.1" cy="492.46" r="1.5"/><circle cx="129.78" cy="459.31" r="1.5"/><circle cx="130.74" cy="461.45" r="1.5"/><circle cx="144.39" cy="447" r="1.5"/><circle cx="136.32" cy="464.35" r="1.5"/><circle cx="131.01" cy="478.68" r="1.5"/><circle cx="139.16" cy="440.98" r="1.5"/><circle cx="138.97" cy="477.58" r="1.5"/><circle cx="126.44" cy="448.04" r="1.5"/><circle cx="119.52" cy="471.38" r="1.5"/><circle cx="138.73" cy="499.08" r="1.5"/><circle cx="139.19" cy="447.19" r="1.5"/><circle cx="134.91" cy="464.66" r="1.5"/><circle cx="120.89" cy="484.37" r="1.5"/><circle cx="139.09" cy="463.62" r="1.5"/><circle cx="122.58" cy="488.73" r="1.5"/><circle cx="140.63" cy="464.14" r="1.5"/><circle cx="135.53" cy="467.35" r="1.5"/><circle cx="135.96" cy="467.44" r="1.5"/><circle cx="119.68" cy="465.96" r="1.5"/><circle cx="128.08" cy="471.34" r="1.5"/><circle cx="138.75" cy="472.99" r="1.5"/><circle cx="120.73" cy="458.05" r="1.5"/><circle cx="118.62" cy="464.26" r="1.5"/><circle cx="129.49" cy="439.01" r="1.5"/><circle cx="142.23" cy="444.96" r="1.5"/><circle cx="135.76" cy="460.64" r="1.5"/><circle cx="124.17" cy="506.07" r="1.5"/><circle cx="119.87" cy="475.55" r="1.5"/><circle cx="141.77" cy="460.21" r="1.5"/><circle cx="141.93" cy="443.83" r="1.5"/><circle cx="137.83" cy="457.24" r="1.5"/><circle cx="123.5" cy="445.8" r="1.5"/><circle cx="139.27" cy="467.38" r="1.5"/><circle cx="117.78" cy="478.66" r="1.5"/><circle cx="122.5" cy="458.23" r="1.5"/><circle cx="126.78" cy="474.01" r="1.5"/><circle cx="145.25" cy="461.53" r="1.5"/><circle cx="118.53" cy="490.08" r="1.5"/><circle cx="122.16" cy="489.41" r="1.5"/><circle cx="138.79" cy="451.46" r="1.5"/><circle cx="139.61" cy="442.79" r="1.5"/><circle cx="125.27" cy="481.91" r="1.5"/><circle cx="119.71" cy="464.17" r="1.5"/><circle cx="142.26" cy="446.14" r="1.5"/><circle cx="145.64" cy="455.65" r="1.5"/><circle cx="143.85" cy="492.27" r="1.5"/><circle cx="133.92" cy="459.04" r="1.5"/><circle cx="119.97" cy="454.2" r="1.5"/><circle cx="138.96" cy="469.07" r="1.5"/><circle cx="136.33" cy="491.52" r="1.5"/><circle cx="141.61" cy="483.66" r="1.5"/><circle cx="139.52" cy="455.2" r="1.5"/><circle cx="132.08" cy="476.91" r="1.5"/><circle cx="145.82" cy="473.9" r="1.5"/><circle cx="130.89" cy="458.34" r="1.5"/><circle cx="130.44" cy="477.96" r="1.5"/><circle cx="135.98" cy="443.96" r="1.5"/><circle cx="140.36" cy="483.39" r="1.5"/><circle cx="134.54" cy="464.98" r="1.5"/><circle cx="144.79" cy="456.77" r="1.5"/><circle cx="125.38" cy="462.25" r="1.5"/><circle cx="143.5" cy="452.84" r="1.5"/><circle cx="142.97" cy="466.92" r="1.5"/><circle cx="127.54" cy="456.86" r="1.5"/><circle cx="118.33" cy="449.23" r="1.5"/><circle cx="134.94" cy="449.29" r="1.5"/><circle cx="135.47" cy="452.61" r="1.5"/><circle cx="145.33" cy="457.16" r="1.5"/><circle cx="133.69" cy="494.59" r="1.5"/><circle cx="138.5" cy="467.9" r="1.5"/><circle cx="139.52" cy="514.71" r="1.5"/><circle cx="122.39" cy="476.57" r="1.5"/><circle cx="136.84" cy="478.86" r="1.5"/><circle cx="130.21" cy="463.97" r="1.5"/><circle cx="123.77" cy="468.73" r="1.5"/><circle cx="125.47" cy="459.13" r="1.5"/><circle cx="128.02" cy="463.94" r="1.5"/><circle cx="138.81" cy="470.51" r="1.5"/><circle cx="133.51" cy="441.08" r="1.5"/><circle cx="126.8" cy="488.55" r="1.5"/><circle cx="119.1" cy="498.37" r="1.5"/><circle cx="140.34" cy="472.5" r="1.5"/><circle cx="139.36" cy="468.34" r="1.5"/><circle cx="141.75" cy="457" r="1.5"/><circle cx="140.3" cy="481.4" r="1.5"/><circle cx="119.33" cy="456.94" r="1.5"/><circle cx="125.65" cy="463.74" r="1.5"/><circle cx="130.92" cy="464.64" r="1.5"/><circle cx="126.11" cy="472" r="1.5"/><circle cx="141.39" cy="500.32" r="1.5"/><circle cx="123.43" cy="475.15" r="1.5"/><circle cx="117.92" cy="462.67" r="1.5"/><circle cx="130.58" cy="479.22" r="1.5"/><circle cx="118.96" cy="485.09" r="1.5"/><circle cx="118.33" cy="475.13" r="1.5"/><circle cx="135.08" cy="475.87" r="1.5"/><circle cx="135.03" cy="459.98" r="1.5"/><circle cx="133.22" cy="443.11" r="1.5"/><circle cx="119.54" cy="453.84" r="1.5"/><circle cx="133.76" cy="492.55" r="1.5"/><circle cx="132.66" cy="441.36" r="1.5"/><circle cx="126.33" cy="473.94" r="1.5"/><circle cx="123.97" cy="493.33" r="1.5"/><circle cx="122.02" cy="481.02" r="1.5"/><circle cx="131.51" cy="471.83" r="1.5"/><circle cx="128.14" cy="483.7" r="1.5"/><circle cx="134.48" cy="463.68" r="1.5"/><circle cx="137.05" cy="461.77" r="1.5"/><circle cx="125.51" cy="477.21" r="1.5"/><circle cx="135.11" cy="474.66" r="1.5"/><circle cx="124.99" cy="450.36" r="1.5"/><circle cx="139.12" cy="442.42" r="1.5"/><circle cx="123.42" cy="453.75" r="1.5"/><circle cx="134.74" cy="452.89" r="1.5"/><circle cx="138.85" cy="450.78" r="1.5"/><circle cx="140.68" cy="450.27" r="1.5"/><circle cx="132.89" cy="454.76" r="1.5"/><circle cx="143.95" cy="481.28" r="1.5"/><circle cx="146.1" cy="483" r="1.5"/><circle cx="140.48" cy="463.49" r="1.5"/><circle cx="127.9" cy="440" r="1.5"/><circle cx="125.23" cy="462.37" r="1.5"/><circle cx="135.67" cy="462.6" r="1.5"/><circle cx="121.22" cy="445.86" r="1.5"/><circle cx="122.63" cy="481.33" r="1.5"/><circle cx="120.24" cy="447.06" r="1.5"/><circle cx="136.38" cy="456.19" r="1.5"/><circle cx="128.73" cy="496.42" r="1.5"/><circle cx="144.22" cy="457.56" r="1.5"/><circle cx="140.89" cy="474.22" r="1.5"/><circle cx="132.92" cy="459.87" r="1.5"/><circle cx="127.38" cy="467.24" r="1.5"/><circle cx="126.79" cy="463.82" r="1.5"/><circle cx="119.02" cy="477.42" r="1.5"/><circle cx="120.72" cy="467.03" r="1.5"/><circle cx="142.78" cy="493.94" r="1.5"/><circle cx="126.14" cy="479.31" r="1.5"/><circle cx="117.74" cy="490.23" r="1.5"/><circle cx="145.92" cy="482.12" r="1.5"/><circle cx="128.53" cy="465.6" r="1.5"/><circle cx="139.97" cy="462.06" r="1.5"/><circle cx="130.64" cy="455.27" r="1.5"/><circle cx="145.58" cy="459.87" r="1.5"/><circle cx="119.83" cy="500.02" r="1.5"/><circle cx="131.23" cy="493.27" r="1.5"/><circle cx="136.27" cy="455.23" r="1.5"/><circle cx="118.21" cy="475.29" r="1.5"/><circle cx="144.1" cy="471.59" r="1.5"/><circle cx="127.31" cy="446.45" r="1.5"/><circle cx="137.16" cy="466.01" r="1.5"/><circle cx="119.79" cy="470.17" r="1.5"/><circle cx="119.77" cy="450.59" r="1.5"/><circle cx="120.01" cy="448.94" r="1.5"/><circle cx="140.37" cy="472.96" r="1.5"/><circle cx="144.82" cy="467.75" r="1.5"/><circle cx="144.06" cy="483.2" r="1.5"/><circle cx="132.89" cy="451.68" r="1.5"/><circle cx="120.15" cy="475.29" r="1.5"/><circle cx="140.04" cy="465.37" r="1.5"/><circle cx="132.2" cy="459.64" r="1.5"/><circle cx="140.19" cy="454.67" r="1.5"/><circle cx="135.89" cy="472.38" r="1.5"/><circle cx="133.92" cy="471.62" r="1.5"/><circle cx="122.46" cy="465.95" r="1.5"/><circle cx="121.64" cy="459.02" r="1.5"/><circle cx="119.87" cy="464.49" r="1.5"/><circle cx="130.03" cy="458.09" r="1.5"/><circle cx="125.88" cy="453.43" r="1.5"/><circle cx="145.17" cy="452.92" r="1.5"/><circle cx="118.92" cy="446.63" r="1.5"/><circle cx="139.52" cy="474.69" r="1.5"/><circle cx="120.98" cy="458.32" r="1.5"/><circle cx="120.49" cy="462.92" r="1.5"/><circle cx="144.26" cy="482.02" r="1.5"/><circle cx="123.87" cy="481.1" r="1.5"/><circle cx="134.75" cy="467" r="1.5"/><circle cx="134.46" cy="492.59" r="1.5"/><circle cx="129.08" cy="475.95" r="1.5"/><circle cx="127.65" cy="452.96" r="1.5"/><circle cx="121.57" cy="468.74" r="1.5"/><circle cx="137.67" cy="480.95" r="1.5"/><circle cx="128.29" cy="458.42" r="1.5"/><circle cx="134.92" cy="459.08" r="1.5"/><circle cx="141.24" cy="474.03" r="1.5"/><circle cx="119.7" cy="472.52" r="1.5"/><circle cx="129.78" cy="481.46" r="1.5"/><circle cx="127.73" cy="475.21" r="1.5"/><circle cx="144.53" cy="464.85" r="1.5"/><circle cx="135.51" cy="467.67" r="1.5"/><circle cx="123.21" cy="474.94" r="1.5"/><circle cx="130.8" cy="485.34" r="1.5"/><circle cx="117.92" cy="470.14" r="1.5"/><circle cx="132.41" cy="460.84" r="1.5"/><circle cx="119.52" cy="497.98" r="1.5"/><circle cx="121.5" cy="453.93" r="1.5"/><circle cx="132.24" cy="503.68" r="1.5"/><circle cx="133.1" cy="513.91" r="1.5"/><circle cx="123.67" cy="473.3" r="1.5"/><circle cx="134.42" cy="448.84" r="1.5"/><circle cx="126.53" cy="466.3" r="1.5"/><circle cx="137.88" cy="458.53" r="1.5"/><circle cx="119.02" cy="456.53" r="1.5"/><circle cx="141.9" cy="463.95" r="1.5"/><circle cx="130.52" cy="477.99" r="1.5"/><circle cx="122.51" cy="466.28" r="1.5"/><circle cx="125.94" cy="446.29" r="1.5"/><circle cx="135.71" cy="464.17" r="1.5"/><circle cx="120.26" cy="457.91" r="1.5"/><circle cx="143.96" cy="462.56" r="1.5"/><circle cx="123.91" cy="461.61" r="1.5"/><circle cx="129.41" cy="454.02" r="1.5"/><circle cx="119.6" cy="472.88" r="1.5"/><circle cx="130.73" cy="453.31" r="1.5"/><circle cx="145.38" cy="478.86" r="1.5"/><circle cx="122.92" cy="494.91" r="1.5"/><circle cx="122.67" cy="483.22" r="1.5"/><circle cx="133.36" cy="456.96" r="1.5"/><circle cx="136.06" cy="462.77" r="1.5"/><circle cx="121.65" cy="471.24" r="1.5"/><circle cx="123.86" cy="454.78" r="1.5"/><circle cx="135.02" cy="486.79" r="1.5"/><circle cx="124.44" cy="466.55" r="1.5"/><circle cx="118.3" cy="473.42" r="1.5"/><circle cx="137.64" cy="462.05" r="1.5"/><circle cx="142.69" cy="477.54" r="1.5"/><circle cx="140.88" cy="458.24" r="1.5"/><circle cx="142.3" cy="460.27" r="1.5"/><circle cx="123.67" cy="493.16" r="1.5"/><circle cx="126.49" cy="454.53" r="1.5"/><circle cx="134.9" cy="510.97" r="1.5"/><circle cx="135.36" cy="448.98" r="1.5"/><circle cx="135.66" cy="451.36" r="1.5"/><circle cx="133.54" cy="457.06" r="1.5"/><circle cx="124.28" cy="480.17" r="1.5"/><circle cx="124.42" cy="481.86" r="1.5"/><circle cx="119.95" cy="479.45" r="1.5"/><circle cx="119.17" cy="468.59" r="1.5"/><circle cx="134.35" cy="451.36" r="1.5"/><circle cx="120" cy="485.28" r="1.5"/><circle cx="142.92" cy="479.38" r="1.5"/><circle cx="145.31" cy="459.1" r="1.5"/><circle cx="121.74" cy="453.47" r="1.5"/><circle cx="145.51" cy="455.81" r="1.5"/><circle cx="135.59" cy="463.04" r="1.5"/><circle cx="117.67" cy="467.2" r="1.5"/><circle cx="128.62" cy="459.94" r="1.5"/><circle cx="127.97" cy="495.27" r="1.5"/><circle cx="126.46" cy="486.21" r="1.5"/><circle cx="119.45" cy="458.15" r="1.5"/><circle cx="124.56" cy="456.09" r="1.5"/><circle cx="118" cy="455.76" r="1.5"/><circle cx="130.5" cy="459.15" r="1.5"/><circle cx="131.47" cy="461.64" r="1.5"/><circle cx="124.22" cy="441.98" r="1.5"/><circle cx="144.3" cy="474.95" r="1.5"/><circle cx="143.19" cy="491.34" r="1.5"/><circle cx="131.99" cy="476.25" r="1.5"/><circle cx="140.75" cy="476.4" r="1.5"/><circle cx="127.75" cy="464.07" r="1.5"/><circle cx="139.33" cy="502.56" r="1.5"/><circle cx="140.06" cy="466.93" r="1.5"/><circle cx="127.71" cy="460.44" r="1.5"/><circle cx="138.97" cy="449.47" r="1.5"/><circle cx="127.69" cy="472.43" r="1.5"/><circle cx="122.52" cy="464.08" r="1.5"/><circle cx="129.65" cy="484.97" r="1.5"/><circle cx="120.8" cy="449.02" r="1.5"/><circle cx="138.32" cy="479.04" r="1.5"/><circle cx="124.8" cy="449.12" r="1.5"/><circle cx="131.93" cy="466.71" r="1.5"/><circle cx="140.95" cy="513.7" r="1.5"/><circle cx="134.85" cy="451.79" r="1.5"/><circle cx="143.86" cy="449.69" r="1.5"/><circle cx="138.55" cy="446.31" r="1.5"/><circle cx="137.58" cy="459.93" r="1.5"/><circle cx="138.98" cy="445.74" r="1.5"/><circle cx="137.53" cy="476.75" r="1.5"/><circle cx="144.14" cy="451.67" r="1.5"/><circle cx="134.74" cy="468.26" r="1.5"/><circle cx="136.66" cy="459.72" r="1.5"/><circle cx="133.45" cy="485.37" r="1.5"/><circle cx="132.99" cy="499.18" r="1.5"/><circle cx="144.8" cy="454.56" r="1.5"/><circle cx="126.2" cy="455.02" r="1.5"/><circle cx="123.01" cy="475.27" r="1.5"/><circle cx="132.03" cy="461.7" r="1.5"/><circle cx="126.54" cy="475.77" r="1.5"/><circle cx="138.21" cy="505.45" r="1.5"/><circle cx="135.95" cy="456.85" r="1.5"/><circle cx="117.56" cy="478.03" r="1.5"/><circle cx="123.56" cy="455.6" r="1.5"/><circle cx="135.46" cy="473.91" r="1.5"/><circle cx="128.99" cy="453.86" r="1.5"/><circle cx="137.22" cy="457.27" r="1.5"/><circle cx="131.12" cy="474.81" r="1.5"/><circle cx="120.73" cy="456.38" r="1.5"/><circle cx="137.5" cy="477.49" r="1.5"/><circle cx="145.73" cy="449.26" r="1.5"/><circle cx="120.16" cy="471.46" r="1.5"/><circle cx="135.37" cy="476.75" r="1.5"/><circle cx="135.29" cy="467.73" r="1.5"/><circle cx="135.27" cy="462.72" r="1.5"/><circle cx="132.16" cy="459.95" r="1.5"/><circle cx="132.19" cy="445.44" r="1.5"/><circle cx="146.19" cy="467.24" r="1.5"/><circle cx="142.79" cy="456.73" r="1.5"/><circle cx="130.11" cy="453.08" r="1.5"/><circle cx="141.08" cy="466.27" r="1.5"/><circle cx="136.86" cy="473.74" r="1.5"/><circle cx="140.85" cy="476.87" r="1.5"/><circle cx="146.44" cy="478.01" r="1.5"/><circle cx="119.57" cy="486.44" r="1.5"/><circle cx="123.65" cy="453.63" r="1.5"/><circle cx="124.23" cy="467.96" r="1.5"/><circle cx="141.24" cy="441.66" r="1.5"/><circle cx="144.3" cy="470.19" r="1.5"/><circle cx="124.06" cy="461.38" r="1.5"/><circle cx="131.58" cy="486.04" r="1.5"/><circle cx="143.3" cy="456.21" r="1.5"/><circle cx="138.45" cy="471.77" r="1.5"/><circle cx="134.52" cy="492.98" r="1.5"/><circle cx="143.41" cy="457.19" r="1.5"/><circle cx="144.29" cy="462.86" r="1.5"/><circle cx="120.14" cy="479.44" r="1.5"/><circle cx="145.51" cy="475.16" r="1.5"/><circle cx="125.95" cy="464.87" r="1.5"/><circle cx="135.32" cy="460.25" r="1.5"/><circle cx="139.34" cy="456.51" r="1.5"/><circle cx="126.02" cy="468.16" r="1.5"/><circle cx="126.38" cy="460.27" r="1.5"/><circle cx="143.76" cy="456.42" r="1.5"/><circle cx="140.45" cy="462.69" r="1.5"/><circle cx="145.82" cy="478.09" r="1.5"/><circle cx="120.22" cy="470.95" r="1.5"/><circle cx="135.66" cy="497.84" r="1.5"/><circle cx="138.95" cy="473.8" r="1.5"/><circle cx="145.24" cy="479.29" r="1.5"/><circle cx="138.54" cy="464.7" r="1.5"/><circle cx="125.62" cy="485.8" r="1.5"/><circle cx="120.43" cy="458.97" r="1.5"/><circle cx="122.52" cy="483.07" r="1.5"/><circle cx="125.01" cy="475.08" r="1.5"/><circle cx="134.05" cy="469.83" r="1.5"/><circle cx="126.86" cy="458.03" r="1.5"/><circle cx="121.81" cy="460.22" r="1.5"/><circle cx="120.01" cy="454.77" r="1.5"/><circle cx="137.38" cy="460.97" r="1.5"/><circle cx="141.13" cy="481.33" r="1.5"/><circle cx="121.08" cy="470.91" r="1.5"/><circle cx="132.4" cy="452.18" r="1.5"/><circle cx="145.93" cy="494.59" r="1.5"/><circle cx="127.97" cy="479.18" r="1.5"/><circle cx="133" cy="465.97" r="1.5"/><circle cx="141.01" cy="499.21" r="1.5"/><circle cx="118.19" cy="467.08" r="1.5"/><circle cx="142.82" cy="453.47" r="1.5"/><circle cx="139.96" cy="463.95" r="1.5"/><circle cx="138.85" cy="489.92" r="1.5"/><circle cx="127.45" cy="457.35" r="1.5"/><circle cx="131.76" cy="438.46" r="1.5"/><circle cx="144.78" cy="463.61" r="1.5"/><circle cx="119.28" cy="473.18" r="1.5"/><circle cx="119.88" cy="487.69" r="1.5"/><circle cx="136.06" cy="450.91" r="1.5"/><circle cx="145.12" cy="455.85" r="1.5"/><circle cx="121.82" cy="442.28" r="1.5"/><circle cx="122.97" cy="459.28" r="1.5"/><circle cx="130.84" cy="480.51" r="1.5"/><circle cx="140.38" cy="458.19" r="1.5"/><circle cx="133.85" cy="464.04" r="1.5"/><circle cx="136.63" cy="466.88" r="1.5"/><circle cx="119" cy="448.92" r="1.5"/><circle cx="123.28" cy="463.31" r="1.5"/><circle cx="134.48" cy="450.6" r="1.5"/><circle cx="138.51" cy="462.72" r="1.5"/><circle cx="120.15" cy="472.32" r="1.5"/><circle cx="120.13" cy="482.33" r="1.5"/><circle cx="126.62" cy="462.22" r="1.5"/><circle cx="129.52" cy="472.41" r="1.5"/><circle cx="127.17" cy="457.26" r="1.5"/><circle cx="122.44" cy="458.24" r="1.5"/><circle cx="119.65" cy="456.5" r="1.5"/><circle cx="136.22" cy="452.14" r="1.5"/><circle cx="145.15" cy="477.87" r="1.5"/><circle cx="135.89" cy="462.87" r="1.5"/><circle cx="144.16" cy="460.71" r="1.5"/><circle cx="121.18" cy="464.42" r="1.5"/><circle cx="135.36" cy="465.58" r="1.5"/><circle cx="128.08" cy="442.24" r="1.5"/><circle cx="142.06" cy="461.9" r="1.5"/><circle cx="134.86" cy="488.56" r="1.5"/><circle cx="135.3" cy="502.4" r="1.5"/><circle cx="144.02" cy="458.32" r="1.5"/><circle cx="145.21" cy="457.76" r="1.5"/><circle cx="121.48" cy="472.58" r="1.5"/><circle cx="130.19" cy="483.29" r="1.5"/><circle cx="119.98" cy="481.54" r="1.5"/><circle cx="133.75" cy="456.66" r="1.5"/><circle cx="124" cy="467.36" r="1.5"/><circle cx="137.76" cy="469.1" r="1.5"/><circle cx="127.81" cy="461.55" r="1.5"/><circle cx="117.73" cy="485.4" r="1.5"/><circle cx="143.26" cy="455.1" r="1.5"/><circle cx="121.16" cy="484.04" r="1.5"/><circle cx="125.29" cy="460.63" r="1.5"/><circle cx="132.58" cy="459.71" r="1.5"/><circle cx="119.16" cy="438.86" r="1.5"/><circle cx="139.89" cy="465.33" r="1.5"/><circle cx="138.27" cy="483.44" r="1.5"/><circle cx="120.91" cy="451.09" r="1.5"/><circle cx="135.5" cy="453.14" r="1.5"/><circle cx="121.23" cy="465.73" r="1.5"/><circle cx="132.88" cy="468.13" r="1.5"/><circle cx="120.21" cy="471.37" r="1.5"/><circle cx="125.67" cy="459.38" r="1.5"/><circle cx="130.56" cy="459.32" r="1.5"/><circle cx="133.29" cy="443.23" r="1.5"/><circle cx="136.46" cy="445.5" r="1.5"/><circle cx="144.38" cy="476.79" r="1.5"/><circle cx="127.22" cy="520.97" r="1.5"/><circle cx="127.65" cy="512.86" r="1.5"/><circle cx="123.57" cy="510.54" r="1.5"/></g>
<text transform="translate(171.8 403.9) scale(1 1.1)" font-size="12.6" font-weight="bold" fill="#111" color="#111">I</text>
<text transform="translate(185 403.9) scale(1 1.1)" font-size="11.5" fill="#1a1a1a" color="#1a1a1a" style="stroke-width:0.12px">cg09596674 (inhouse)</text>
<text x="169.3" y="479.7" font-size="7.2" text-anchor="middle" font-weight="normal" font-style="normal" fill="#1a1a1a" color="#1a1a1a" transform="rotate(-90 169.3 479.7)" >Methylation Level</text>
<line x1="189.5" y1="411" x2="189.5" y2="539" stroke="#555555" stroke-width="1" />
<line x1="189" y1="538.5" x2="334.7" y2="538.5" stroke="#555555" stroke-width="1" />
<line x1="187.3" y1="426" x2="189.5" y2="426" stroke="#555555" stroke-width="0.9" />
<text transform="translate(186.3 428.88) scale(0.9 1.0)" font-size="8.0" text-anchor="end" font-weight="normal" font-style="normal" fill="#444444" color="#444444" >0.70</text>
<line x1="187.3" y1="451.15" x2="189.5" y2="451.15" stroke="#555555" stroke-width="0.9" />
<text transform="translate(186.3 454.03) scale(0.9 1.0)" font-size="8.0" text-anchor="end" font-weight="normal" font-style="normal" fill="#444444" color="#444444" >0.65</text>
<line x1="187.3" y1="476.3" x2="189.5" y2="476.3" stroke="#555555" stroke-width="0.9" />
<text transform="translate(186.3 479.18) scale(0.9 1.0)" font-size="8.0" text-anchor="end" font-weight="normal" font-style="normal" fill="#444444" color="#444444" >0.60</text>
<line x1="187.3" y1="501.45" x2="189.5" y2="501.45" stroke="#555555" stroke-width="0.9" />
<text transform="translate(186.3 504.33) scale(0.9 1.0)" font-size="8.0" text-anchor="end" font-weight="normal" font-style="normal" fill="#444444" color="#444444" >0.55</text>
<line x1="187.3" y1="526.6" x2="189.5" y2="526.6" stroke="#555555" stroke-width="0.9" />
<text transform="translate(186.3 529.48) scale(0.9 1.0)" font-size="8.0" text-anchor="end" font-weight="normal" font-style="normal" fill="#444444" color="#444444" >0.50</text>
<line x1="235.4" y1="538.5" x2="235.4" y2="540.7" stroke="#555555" stroke-width="0.9" />
<text transform="translate(235.2 547) scale(0.9 1.0)" font-size="8.0" text-anchor="middle" font-weight="normal" font-style="normal" fill="#444444" color="#444444" >Normal</text>
<line x1="306.3" y1="538.5" x2="306.3" y2="540.7" stroke="#555555" stroke-width="0.9" />
<text transform="translate(306.4 547) scale(0.9 1.0)" font-size="8.0" text-anchor="middle" font-weight="normal" font-style="normal" fill="#444444" color="#444444" >LUAD</text>
<path d="M235.5 422.8 V420.5 H302.5 V422.8" fill="none" stroke="#4a4a4a" stroke-width="0.9"/>
<text x="269" y="419.08" font-size="7.2" text-anchor="middle" font-weight="normal" font-style="normal" fill="#111" color="#111" >***</text>
<line x1="232" y1="506.9" x2="232" y2="515" stroke="#3f67a8" stroke-width="1.8" />
<line x1="232" y1="529" x2="232" y2="533.2" stroke="#3f67a8" stroke-width="1.8" />
<line x1="228.3" y1="507" x2="240.1" y2="507" stroke="#3f67a8" stroke-width="1.8" />
<line x1="228.3" y1="533" x2="240.1" y2="533" stroke="#3f67a8" stroke-width="1.8" />
<rect x="214" y="515" width="37" height="14" fill="none" stroke="#3f67a8" stroke-width="1.8"/>
<line x1="214" y1="521.9" x2="251" y2="521.9" stroke="#3f67a8" stroke-width="2.6" />
<line x1="306" y1="425" x2="306" y2="445" stroke="#d9b34e" stroke-width="1.8" />
<line x1="306" y1="475" x2="306" y2="509" stroke="#d9b34e" stroke-width="1.8" />
<line x1="299.3" y1="425" x2="313.7" y2="425" stroke="#d9b34e" stroke-width="1.8" />
<line x1="299.3" y1="509" x2="313.7" y2="509" stroke="#d9b34e" stroke-width="1.8" />
<rect x="288" y="445" width="37" height="30" fill="none" stroke="#d9b34e" stroke-width="1.8"/>
<line x1="288" y1="464.4" x2="325" y2="464.4" stroke="#d9b34e" stroke-width="2.6" />
<g fill="#3f66a7" fill-opacity="1"><circle cx="232" cy="514.02" r="1.4"/><circle cx="230" cy="519.06" r="1.4"/><circle cx="237" cy="516.54" r="1.4"/><circle cx="241" cy="526.6" r="1.4"/><circle cx="228" cy="531.63" r="1.4"/><circle cx="232" cy="532.64" r="1.4"/><circle cx="238" cy="532.13" r="1.4"/><circle cx="235" cy="506.48" r="1.4"/></g>
<g fill="#d4ad40" fill-opacity="1"><circle cx="302" cy="426" r="1.4"/><circle cx="305" cy="445.11" r="1.4"/><circle cx="311" cy="443.6" r="1.4"/><circle cx="302" cy="471.27" r="1.4"/><circle cx="308" cy="496.42" r="1.4"/><circle cx="310" cy="509" r="1.4"/></g>
<text transform="translate(333.2 403.9) scale(1 1.1)" font-size="12.6" font-weight="bold" fill="#111" color="#111">J</text>
<text transform="translate(349.7 403.9) scale(1 1.1)" font-size="11.5" fill="#1a1a1a" color="#1a1a1a" style="stroke-width:0.12px">cg19220282 (TCGA)</text>
<text x="342.4" y="478.1" font-size="7.8" text-anchor="middle" font-weight="normal" font-style="normal" fill="#1a1a1a" color="#1a1a1a" transform="rotate(-90 342.4 478.1)" >Methylation Level</text>
<line x1="362.5" y1="411" x2="362.5" y2="538" stroke="#555555" stroke-width="1" />
<line x1="362" y1="537.5" x2="497.4" y2="537.5" stroke="#555555" stroke-width="1" />
<line x1="360.3" y1="416.8" x2="362.5" y2="416.8" stroke="#555555" stroke-width="0.9" />
<text transform="translate(359.3 419.68) scale(0.9 1.0)" font-size="8.0" text-anchor="end" font-weight="normal" font-style="normal" fill="#444444" color="#444444" >1.00</text>
<line x1="360.3" y1="445.45" x2="362.5" y2="445.45" stroke="#555555" stroke-width="0.9" />
<text transform="translate(359.3 448.33) scale(0.9 1.0)" font-size="8.0" text-anchor="end" font-weight="normal" font-style="normal" fill="#444444" color="#444444" >0.75</text>
<line x1="360.3" y1="474.1" x2="362.5" y2="474.1" stroke="#555555" stroke-width="0.9" />
<text transform="translate(359.3 476.98) scale(0.9 1.0)" font-size="8.0" text-anchor="end" font-weight="normal" font-style="normal" fill="#444444" color="#444444" >0.50</text>
<line x1="360.3" y1="502.75" x2="362.5" y2="502.75" stroke="#555555" stroke-width="0.9" />
<text transform="translate(359.3 505.63) scale(0.9 1.0)" font-size="8.0" text-anchor="end" font-weight="normal" font-style="normal" fill="#444444" color="#444444" >0.25</text>
<line x1="360.3" y1="531.4" x2="362.5" y2="531.4" stroke="#555555" stroke-width="0.9" />
<text transform="translate(359.3 534.28) scale(0.9 1.0)" font-size="8.0" text-anchor="end" font-weight="normal" font-style="normal" fill="#444444" color="#444444" >0.00</text>
<line x1="403.7" y1="537.5" x2="403.7" y2="539.7" stroke="#555555" stroke-width="0.9" />
<text transform="translate(404.8 544.2) scale(0.9 1.0)" font-size="8.0" text-anchor="middle" font-weight="normal" font-style="normal" fill="#444444" color="#444444" >Normal</text>
<line x1="472.4" y1="537.5" x2="472.4" y2="539.7" stroke="#555555" stroke-width="0.9" />
<text transform="translate(473.1 544.2) scale(0.9 1.0)" font-size="8.0" text-anchor="middle" font-weight="normal" font-style="normal" fill="#444444" color="#444444" >LUAD</text>
<path d="M403.5 421 V418.5 H472.5 V421" fill="none" stroke="#4a4a4a" stroke-width="0.9"/>
<text x="438.2" y="417.18" font-size="7.2" text-anchor="middle" font-weight="normal" font-style="normal" fill="#111" color="#111" >***</text>
<line x1="403.5" y1="461.5" x2="403.5" y2="468.5" stroke="#3f67a8" stroke-width="1.0" />
<line x1="403.5" y1="476.5" x2="403.5" y2="480.6" stroke="#3f67a8" stroke-width="1.0" />
<line x1="396" y1="461.5" x2="411" y2="461.5" stroke="#3f67a8" stroke-width="1.0" />
<line x1="396" y1="480.5" x2="411" y2="480.5" stroke="#3f67a8" stroke-width="1.0" />
<rect x="381.5" y="468.5" width="44" height="8" fill="none" stroke="#3f67a8" stroke-width="1.0"/>
<line x1="381.5" y1="472.2" x2="425.5" y2="472.2" stroke="#3f67a8" stroke-width="1.6" />
<line x1="472.5" y1="446" x2="472.5" y2="478.5" stroke="#d9b34e" stroke-width="1.0" />
<line x1="472.5" y1="502.5" x2="472.5" y2="519.3" stroke="#d9b34e" stroke-width="1.0" />
<line x1="464.5" y1="446.5" x2="480" y2="446.5" stroke="#d9b34e" stroke-width="1.0" />
<line x1="464.5" y1="519.5" x2="480" y2="519.5" stroke="#d9b34e" stroke-width="1.0" />
<rect x="449.5" y="478.5" width="45" height="24" fill="none" stroke="#d9b34e" stroke-width="1.0"/>
<line x1="449.5" y1="492.2" x2="494.5" y2="492.2" stroke="#d9b34e" stroke-width="1.6" />
<g fill="#5580b6" fill-opacity="0.8" stroke="#3a60a0" stroke-width="0.45"><circle cx="412.95" cy="494.73" r="1.6"/><circle cx="412.97" cy="466.61" r="1.6"/><circle cx="413.68" cy="473.82" r="1.6"/><circle cx="390.09" cy="476.85" r="1.6"/><circle cx="390.37" cy="477.23" r="1.6"/><circle cx="399.03" cy="472.78" r="1.6"/><circle cx="401.6" cy="464.68" r="1.6"/><circle cx="389.78" cy="472.44" r="1.6"/><circle cx="399.41" cy="465.12" r="1.6"/><circle cx="393.18" cy="471.79" r="1.6"/><circle cx="414.07" cy="469.65" r="1.6"/><circle cx="395.49" cy="476" r="1.6"/><circle cx="398.52" cy="473" r="1.6"/><circle cx="394.5" cy="466.86" r="1.6"/><circle cx="413.35" cy="479.33" r="1.6"/><circle cx="392.75" cy="472.13" r="1.6"/><circle cx="401.91" cy="476.05" r="1.6"/><circle cx="395.77" cy="475.31" r="1.6"/><circle cx="396.49" cy="474.39" r="1.6"/><circle cx="417.45" cy="477.12" r="1.6"/><circle cx="409.6" cy="469.75" r="1.6"/><circle cx="410.22" cy="480.19" r="1.6"/><circle cx="399.54" cy="476.34" r="1.6"/><circle cx="416.97" cy="475.84" r="1.6"/><circle cx="416.63" cy="477.45" r="1.6"/><circle cx="407.4" cy="464.72" r="1.6"/><circle cx="395.96" cy="467.6" r="1.6"/><circle cx="390.96" cy="463.68" r="1.6"/><circle cx="404.85" cy="478.39" r="1.6"/><circle cx="403.22" cy="477.32" r="1.6"/><circle cx="413.76" cy="474.87" r="1.6"/><circle cx="417.55" cy="471.07" r="1.6"/></g>
<g fill="#d4ad40" fill-opacity="0.9"><circle cx="473.85" cy="513.2" r="1.5"/><circle cx="478.1" cy="469.67" r="1.5"/><circle cx="464.83" cy="514.57" r="1.5"/><circle cx="485.3" cy="499.76" r="1.5"/><circle cx="478.73" cy="487.18" r="1.5"/><circle cx="472.56" cy="488" r="1.5"/><circle cx="460.89" cy="453.62" r="1.5"/><circle cx="470.43" cy="497.38" r="1.5"/><circle cx="458.33" cy="512.5" r="1.5"/><circle cx="463.78" cy="517.88" r="1.5"/><circle cx="480.58" cy="457.4" r="1.5"/><circle cx="460.87" cy="511.48" r="1.5"/><circle cx="463.64" cy="465.24" r="1.5"/><circle cx="467.64" cy="509.48" r="1.5"/><circle cx="486.05" cy="484.61" r="1.5"/><circle cx="462.44" cy="496.05" r="1.5"/><circle cx="469.84" cy="469.12" r="1.5"/><circle cx="473.26" cy="505.47" r="1.5"/><circle cx="458.94" cy="497.07" r="1.5"/><circle cx="474.15" cy="472.1" r="1.5"/><circle cx="459.66" cy="495.55" r="1.5"/><circle cx="467" cy="457.75" r="1.5"/><circle cx="467.08" cy="485.17" r="1.5"/><circle cx="486.91" cy="472.91" r="1.5"/><circle cx="470.48" cy="492.97" r="1.5"/><circle cx="466.4" cy="509.53" r="1.5"/><circle cx="467.28" cy="473.54" r="1.5"/><circle cx="466.42" cy="494.51" r="1.5"/><circle cx="462.36" cy="489.66" r="1.5"/><circle cx="466.89" cy="449.14" r="1.5"/><circle cx="477.93" cy="470.53" r="1.5"/><circle cx="467.97" cy="509.68" r="1.5"/><circle cx="464.34" cy="490.19" r="1.5"/><circle cx="458.73" cy="502.23" r="1.5"/><circle cx="480.75" cy="487.34" r="1.5"/><circle cx="466.37" cy="493.4" r="1.5"/><circle cx="465.56" cy="512.37" r="1.5"/><circle cx="482.53" cy="482.15" r="1.5"/><circle cx="486.09" cy="489.21" r="1.5"/><circle cx="473.79" cy="502.78" r="1.5"/><circle cx="459.64" cy="498.96" r="1.5"/><circle cx="482.18" cy="493.29" r="1.5"/><circle cx="480.03" cy="486.14" r="1.5"/><circle cx="458.11" cy="497.65" r="1.5"/><circle cx="466.06" cy="497.1" r="1.5"/><circle cx="482.15" cy="509.04" r="1.5"/><circle cx="471.59" cy="485.81" r="1.5"/><circle cx="462.79" cy="491.61" r="1.5"/><circle cx="486.56" cy="487.19" r="1.5"/><circle cx="463.84" cy="500.95" r="1.5"/><circle cx="462.91" cy="481.46" r="1.5"/><circle cx="478.02" cy="509.06" r="1.5"/><circle cx="486.61" cy="481.15" r="1.5"/><circle cx="478.39" cy="465.42" r="1.5"/><circle cx="458.18" cy="442.46" r="1.5"/><circle cx="458.2" cy="501.1" r="1.5"/><circle cx="463.91" cy="479.84" r="1.5"/><circle cx="477.15" cy="497.69" r="1.5"/><circle cx="485.8" cy="498.31" r="1.5"/><circle cx="460.99" cy="480.58" r="1.5"/><circle cx="477.25" cy="480.76" r="1.5"/><circle cx="477.45" cy="509.18" r="1.5"/><circle cx="458.47" cy="497.13" r="1.5"/><circle cx="484.14" cy="499.97" r="1.5"/><circle cx="466.82" cy="483.1" r="1.5"/><circle cx="468.61" cy="513.99" r="1.5"/><circle cx="480.9" cy="500.64" r="1.5"/><circle cx="473.57" cy="483.79" r="1.5"/><circle cx="476.01" cy="490.5" r="1.5"/><circle cx="459.3" cy="495.42" r="1.5"/><circle cx="475.9" cy="500.06" r="1.5"/><circle cx="461.99" cy="474.9" r="1.5"/><circle cx="481.82" cy="508.25" r="1.5"/><circle cx="480.36" cy="477.38" r="1.5"/><circle cx="476.68" cy="503.92" r="1.5"/><circle cx="476.56" cy="515.19" r="1.5"/><circle cx="486.31" cy="508.06" r="1.5"/><circle cx="481.98" cy="490.98" r="1.5"/><circle cx="478.65" cy="510.47" r="1.5"/><circle cx="468.18" cy="504.14" r="1.5"/><circle cx="457.97" cy="479.15" r="1.5"/><circle cx="487" cy="498.85" r="1.5"/><circle cx="459.48" cy="463.03" r="1.5"/><circle cx="458.87" cy="493.77" r="1.5"/><circle cx="475.09" cy="514.34" r="1.5"/><circle cx="486.77" cy="443.69" r="1.5"/><circle cx="470.69" cy="490.57" r="1.5"/><circle cx="463.75" cy="467.6" r="1.5"/><circle cx="458.16" cy="474.16" r="1.5"/><circle cx="462.34" cy="516.78" r="1.5"/><circle cx="468.26" cy="493.3" r="1.5"/><circle cx="467.86" cy="515.85" r="1.5"/><circle cx="465.51" cy="499.49" r="1.5"/><circle cx="483.44" cy="478.39" r="1.5"/><circle cx="486.98" cy="479.08" r="1.5"/><circle cx="486.37" cy="508.42" r="1.5"/><circle cx="463.37" cy="494.86" r="1.5"/><circle cx="478.09" cy="469.95" r="1.5"/><circle cx="462.42" cy="469.79" r="1.5"/><circle cx="471.19" cy="488.37" r="1.5"/><circle cx="472.31" cy="448.96" r="1.5"/><circle cx="466.87" cy="473.57" r="1.5"/><circle cx="480.65" cy="504.7" r="1.5"/><circle cx="464.06" cy="467.51" r="1.5"/><circle cx="481.2" cy="506.34" r="1.5"/><circle cx="480.12" cy="481.29" r="1.5"/><circle cx="476.09" cy="454.01" r="1.5"/><circle cx="459.84" cy="508.06" r="1.5"/><circle cx="461.17" cy="486.52" r="1.5"/><circle cx="481.3" cy="492.68" r="1.5"/><circle cx="485.78" cy="502.7" r="1.5"/><circle cx="464.64" cy="498.73" r="1.5"/><circle cx="477.2" cy="513.51" r="1.5"/><circle cx="479.88" cy="515.01" r="1.5"/><circle cx="483.15" cy="483.7" r="1.5"/><circle cx="461.6" cy="511.24" r="1.5"/><circle cx="463.62" cy="489.94" r="1.5"/><circle cx="459.45" cy="513.4" r="1.5"/><circle cx="477.98" cy="502.84" r="1.5"/><circle cx="468.13" cy="496.01" r="1.5"/><circle cx="478.12" cy="450.83" r="1.5"/><circle cx="462.44" cy="502.4" r="1.5"/><circle cx="476.37" cy="496.99" r="1.5"/><circle cx="465.62" cy="478.22" r="1.5"/><circle cx="470.49" cy="491.28" r="1.5"/><circle cx="474.95" cy="491.85" r="1.5"/><circle cx="485.55" cy="475.27" r="1.5"/><circle cx="463.23" cy="488.41" r="1.5"/><circle cx="480.62" cy="476.25" r="1.5"/><circle cx="459.08" cy="507.18" r="1.5"/><circle cx="462.8" cy="440.84" r="1.5"/><circle cx="478.08" cy="474.42" r="1.5"/><circle cx="460.04" cy="469.09" r="1.5"/><circle cx="482.33" cy="480.21" r="1.5"/><circle cx="483.73" cy="480.74" r="1.5"/><circle cx="464.05" cy="485.29" r="1.5"/><circle cx="478.38" cy="476.3" r="1.5"/><circle cx="476.68" cy="503.93" r="1.5"/><circle cx="486.35" cy="501.65" r="1.5"/><circle cx="472.16" cy="490.12" r="1.5"/><circle cx="468.42" cy="447.41" r="1.5"/><circle cx="483.42" cy="507.75" r="1.5"/><circle cx="465.45" cy="510.09" r="1.5"/><circle cx="484.45" cy="492.3" r="1.5"/><circle cx="468.25" cy="505.82" r="1.5"/><circle cx="469.57" cy="476.35" r="1.5"/><circle cx="482.16" cy="494.44" r="1.5"/><circle cx="479.84" cy="494.43" r="1.5"/><circle cx="463.02" cy="483.58" r="1.5"/><circle cx="476.97" cy="489.82" r="1.5"/><circle cx="486.67" cy="484.31" r="1.5"/><circle cx="469.37" cy="466.95" r="1.5"/><circle cx="474" cy="469.47" r="1.5"/><circle cx="476.89" cy="489.13" r="1.5"/><circle cx="478.76" cy="470.91" r="1.5"/><circle cx="469.08" cy="495.92" r="1.5"/><circle cx="468.79" cy="501.26" r="1.5"/><circle cx="462.8" cy="486.75" r="1.5"/><circle cx="476.01" cy="514.66" r="1.5"/><circle cx="467.31" cy="498.61" r="1.5"/><circle cx="480.73" cy="479.23" r="1.5"/><circle cx="458.89" cy="496.37" r="1.5"/><circle cx="479.93" cy="486.24" r="1.5"/><circle cx="462.31" cy="510.63" r="1.5"/><circle cx="483.14" cy="457.67" r="1.5"/><circle cx="481.79" cy="488.92" r="1.5"/><circle cx="468.07" cy="505.86" r="1.5"/><circle cx="460.52" cy="454.07" r="1.5"/><circle cx="463.79" cy="486.92" r="1.5"/><circle cx="463.71" cy="494.03" r="1.5"/><circle cx="486.37" cy="496.86" r="1.5"/><circle cx="481.31" cy="493.84" r="1.5"/><circle cx="458.3" cy="489.3" r="1.5"/><circle cx="457.85" cy="490.7" r="1.5"/><circle cx="474.04" cy="472.7" r="1.5"/><circle cx="470.96" cy="509.44" r="1.5"/><circle cx="473.84" cy="500.6" r="1.5"/><circle cx="482.33" cy="505.76" r="1.5"/><circle cx="482.22" cy="501.84" r="1.5"/><circle cx="461.56" cy="485.47" r="1.5"/><circle cx="486.08" cy="479.82" r="1.5"/><circle cx="471.1" cy="466.85" r="1.5"/><circle cx="471.42" cy="493.51" r="1.5"/><circle cx="462.04" cy="503.91" r="1.5"/><circle cx="464.62" cy="511.24" r="1.5"/><circle cx="463.08" cy="503.12" r="1.5"/><circle cx="465.86" cy="481.76" r="1.5"/><circle cx="473.6" cy="505.18" r="1.5"/><circle cx="465.18" cy="487.37" r="1.5"/><circle cx="465.52" cy="488.9" r="1.5"/><circle cx="460.85" cy="464.52" r="1.5"/><circle cx="459.64" cy="473.69" r="1.5"/><circle cx="484.38" cy="491.26" r="1.5"/><circle cx="470.49" cy="508.48" r="1.5"/><circle cx="470.9" cy="492.21" r="1.5"/><circle cx="461.45" cy="502.63" r="1.5"/><circle cx="486.52" cy="500.15" r="1.5"/><circle cx="457.97" cy="491.34" r="1.5"/><circle cx="480.66" cy="506.41" r="1.5"/><circle cx="458.88" cy="480.4" r="1.5"/><circle cx="466.08" cy="497.66" r="1.5"/><circle cx="471.89" cy="484.59" r="1.5"/><circle cx="470.99" cy="487.68" r="1.5"/><circle cx="478.31" cy="502.57" r="1.5"/><circle cx="474.37" cy="496.4" r="1.5"/><circle cx="478.23" cy="501.5" r="1.5"/><circle cx="459.56" cy="487.93" r="1.5"/><circle cx="466.22" cy="499.44" r="1.5"/><circle cx="465.67" cy="491.32" r="1.5"/><circle cx="471.75" cy="488.5" r="1.5"/><circle cx="469.92" cy="484.94" r="1.5"/><circle cx="460.77" cy="492.18" r="1.5"/><circle cx="461.38" cy="499.49" r="1.5"/><circle cx="459.39" cy="494.28" r="1.5"/><circle cx="459.21" cy="486.7" r="1.5"/><circle cx="476.63" cy="507.56" r="1.5"/><circle cx="485.93" cy="507.44" r="1.5"/><circle cx="475.05" cy="470.93" r="1.5"/><circle cx="463.41" cy="491.88" r="1.5"/><circle cx="475.56" cy="496.19" r="1.5"/><circle cx="472.15" cy="489.89" r="1.5"/><circle cx="465.93" cy="511.12" r="1.5"/><circle cx="481.24" cy="474.68" r="1.5"/><circle cx="465.33" cy="489.85" r="1.5"/><circle cx="466.6" cy="467.09" r="1.5"/><circle cx="458.94" cy="473.41" r="1.5"/><circle cx="464.72" cy="508.48" r="1.5"/><circle cx="484.72" cy="451.37" r="1.5"/><circle cx="471.69" cy="502.61" r="1.5"/><circle cx="479.03" cy="513.17" r="1.5"/><circle cx="472" cy="499.55" r="1.5"/><circle cx="465.4" cy="495.76" r="1.5"/><circle cx="468.02" cy="493.2" r="1.5"/><circle cx="472.57" cy="478.38" r="1.5"/><circle cx="466.67" cy="504.3" r="1.5"/><circle cx="472.75" cy="498.44" r="1.5"/><circle cx="458.34" cy="489.33" r="1.5"/><circle cx="468.99" cy="499.89" r="1.5"/><circle cx="460.99" cy="516.73" r="1.5"/><circle cx="471.67" cy="513.24" r="1.5"/><circle cx="473.19" cy="483.99" r="1.5"/><circle cx="484.38" cy="502.37" r="1.5"/><circle cx="483.25" cy="469.8" r="1.5"/><circle cx="483.87" cy="502.91" r="1.5"/><circle cx="470.68" cy="487.6" r="1.5"/><circle cx="466.27" cy="499.26" r="1.5"/><circle cx="482.52" cy="480.58" r="1.5"/><circle cx="461.1" cy="484.88" r="1.5"/><circle cx="468.76" cy="485.62" r="1.5"/><circle cx="459.42" cy="515.5" r="1.5"/><circle cx="481.49" cy="499.29" r="1.5"/><circle cx="479.51" cy="465.42" r="1.5"/><circle cx="484.83" cy="507.36" r="1.5"/><circle cx="463.06" cy="515.03" r="1.5"/><circle cx="482.2" cy="489.22" r="1.5"/><circle cx="478.1" cy="485.41" r="1.5"/><circle cx="473.61" cy="483.23" r="1.5"/><circle cx="470.64" cy="491.5" r="1.5"/><circle cx="481.28" cy="465.77" r="1.5"/><circle cx="471.5" cy="499.58" r="1.5"/><circle cx="485.41" cy="510.86" r="1.5"/><circle cx="484.8" cy="493.54" r="1.5"/><circle cx="468.4" cy="500.42" r="1.5"/><circle cx="473.44" cy="490.56" r="1.5"/><circle cx="470.23" cy="501.49" r="1.5"/><circle cx="484.1" cy="486.75" r="1.5"/><circle cx="482.71" cy="493.16" r="1.5"/><circle cx="469.38" cy="485.68" r="1.5"/><circle cx="468.41" cy="496.7" r="1.5"/><circle cx="466.93" cy="501.02" r="1.5"/><circle cx="477.13" cy="501.32" r="1.5"/><circle cx="477.16" cy="496.61" r="1.5"/><circle cx="475.85" cy="477.82" r="1.5"/><circle cx="472.92" cy="500.96" r="1.5"/><circle cx="477.34" cy="500.04" r="1.5"/><circle cx="457.78" cy="499.47" r="1.5"/><circle cx="471.67" cy="501.33" r="1.5"/><circle cx="477.99" cy="496.85" r="1.5"/><circle cx="479.05" cy="500.81" r="1.5"/><circle cx="481.56" cy="479.17" r="1.5"/><circle cx="464.23" cy="501.66" r="1.5"/><circle cx="484.84" cy="485.37" r="1.5"/><circle cx="486.09" cy="490.71" r="1.5"/><circle cx="475.84" cy="494.63" r="1.5"/><circle cx="481.73" cy="484.52" r="1.5"/><circle cx="463.39" cy="464.48" r="1.5"/><circle cx="463.12" cy="488.49" r="1.5"/><circle cx="463.99" cy="501.4" r="1.5"/><circle cx="473.29" cy="516.42" r="1.5"/><circle cx="483.86" cy="456.12" r="1.5"/><circle cx="467.89" cy="508.78" r="1.5"/><circle cx="485.04" cy="441.33" r="1.5"/><circle cx="482.02" cy="506.71" r="1.5"/><circle cx="458.9" cy="470.75" r="1.5"/><circle cx="458.47" cy="513.91" r="1.5"/><circle cx="486.94" cy="504.75" r="1.5"/><circle cx="472.3" cy="487.41" r="1.5"/><circle cx="480.5" cy="495.14" r="1.5"/><circle cx="482.93" cy="479" r="1.5"/><circle cx="466.53" cy="485.92" r="1.5"/><circle cx="458.05" cy="502.13" r="1.5"/><circle cx="483.08" cy="507.9" r="1.5"/><circle cx="484.99" cy="506.47" r="1.5"/><circle cx="469.34" cy="497.37" r="1.5"/><circle cx="477.03" cy="496.62" r="1.5"/><circle cx="457.94" cy="486.71" r="1.5"/><circle cx="485.22" cy="507.95" r="1.5"/><circle cx="475.57" cy="497.72" r="1.5"/><circle cx="486.35" cy="511.56" r="1.5"/><circle cx="477.84" cy="507.55" r="1.5"/><circle cx="468.17" cy="491.34" r="1.5"/><circle cx="462.88" cy="503.38" r="1.5"/><circle cx="472.72" cy="451.23" r="1.5"/><circle cx="483.02" cy="468.86" r="1.5"/><circle cx="473.3" cy="494.85" r="1.5"/><circle cx="473.45" cy="499.53" r="1.5"/><circle cx="464.07" cy="493.36" r="1.5"/><circle cx="461.92" cy="500.04" r="1.5"/><circle cx="464.6" cy="493.69" r="1.5"/><circle cx="466.54" cy="502.13" r="1.5"/><circle cx="471.47" cy="497.06" r="1.5"/><circle cx="485.29" cy="507.55" r="1.5"/><circle cx="465.58" cy="472.17" r="1.5"/><circle cx="464.31" cy="501.8" r="1.5"/><circle cx="479.38" cy="497.68" r="1.5"/><circle cx="485.18" cy="500.64" r="1.5"/><circle cx="464.53" cy="493.69" r="1.5"/><circle cx="466.38" cy="492.26" r="1.5"/><circle cx="469.79" cy="487.51" r="1.5"/><circle cx="459.39" cy="472.1" r="1.5"/><circle cx="460.33" cy="495.88" r="1.5"/><circle cx="473.82" cy="509.63" r="1.5"/><circle cx="464.83" cy="472.02" r="1.5"/><circle cx="464.46" cy="491.06" r="1.5"/><circle cx="481.28" cy="512.73" r="1.5"/><circle cx="471.76" cy="469.66" r="1.5"/><circle cx="474.18" cy="489.47" r="1.5"/><circle cx="476.89" cy="490.47" r="1.5"/><circle cx="479.43" cy="488.21" r="1.5"/><circle cx="484.68" cy="505.89" r="1.5"/><circle cx="486.12" cy="496.71" r="1.5"/><circle cx="460.89" cy="484.94" r="1.5"/><circle cx="479.37" cy="506.31" r="1.5"/><circle cx="458.33" cy="472.37" r="1.5"/><circle cx="461.11" cy="475.62" r="1.5"/><circle cx="465.13" cy="506.06" r="1.5"/><circle cx="461.41" cy="488.21" r="1.5"/><circle cx="462.08" cy="503.07" r="1.5"/><circle cx="464.46" cy="491.13" r="1.5"/><circle cx="481.48" cy="491.42" r="1.5"/><circle cx="480.73" cy="511.47" r="1.5"/><circle cx="472.34" cy="504.75" r="1.5"/><circle cx="473.76" cy="494.67" r="1.5"/><circle cx="479.58" cy="496.48" r="1.5"/><circle cx="474.97" cy="448.16" r="1.5"/><circle cx="459.87" cy="508.26" r="1.5"/><circle cx="471.11" cy="505.75" r="1.5"/><circle cx="463.56" cy="497" r="1.5"/><circle cx="471.44" cy="478.36" r="1.5"/><circle cx="486.34" cy="477.5" r="1.5"/><circle cx="463.39" cy="512.47" r="1.5"/><circle cx="467.08" cy="499.23" r="1.5"/><circle cx="474.71" cy="465.42" r="1.5"/><circle cx="476.98" cy="505.83" r="1.5"/><circle cx="466.59" cy="496.22" r="1.5"/><circle cx="469.21" cy="503.93" r="1.5"/><circle cx="472.26" cy="517" r="1.5"/><circle cx="484.93" cy="507.43" r="1.5"/><circle cx="459.06" cy="500.03" r="1.5"/><circle cx="483.77" cy="493.42" r="1.5"/><circle cx="473.98" cy="501.78" r="1.5"/><circle cx="484.54" cy="480.23" r="1.5"/><circle cx="469.08" cy="471.66" r="1.5"/><circle cx="476.72" cy="471.81" r="1.5"/><circle cx="458.28" cy="460.6" r="1.5"/><circle cx="464.14" cy="488.62" r="1.5"/><circle cx="476.68" cy="486.52" r="1.5"/><circle cx="467.29" cy="473.69" r="1.5"/><circle cx="472.82" cy="494.7" r="1.5"/><circle cx="486.5" cy="471.63" r="1.5"/><circle cx="474.08" cy="510.15" r="1.5"/><circle cx="477.27" cy="498.32" r="1.5"/><circle cx="474.19" cy="496.14" r="1.5"/><circle cx="465.02" cy="494.27" r="1.5"/><circle cx="486.59" cy="507.48" r="1.5"/><circle cx="468.78" cy="486.2" r="1.5"/><circle cx="458.3" cy="492.39" r="1.5"/><circle cx="470.1" cy="490.41" r="1.5"/><circle cx="469.79" cy="469.16" r="1.5"/><circle cx="463.66" cy="480.88" r="1.5"/><circle cx="470.18" cy="457.97" r="1.5"/><circle cx="459.74" cy="488.26" r="1.5"/><circle cx="485.26" cy="496.51" r="1.5"/><circle cx="472.91" cy="492.24" r="1.5"/><circle cx="466.03" cy="488.46" r="1.5"/><circle cx="473.71" cy="499.66" r="1.5"/><circle cx="474.99" cy="481.91" r="1.5"/><circle cx="469.04" cy="510.01" r="1.5"/><circle cx="481.4" cy="505.35" r="1.5"/><circle cx="470.99" cy="506.57" r="1.5"/><circle cx="484.73" cy="496.89" r="1.5"/><circle cx="480.13" cy="489.51" r="1.5"/><circle cx="477.97" cy="490.44" r="1.5"/><circle cx="462.38" cy="485.39" r="1.5"/><circle cx="478.3" cy="480.46" r="1.5"/><circle cx="486.4" cy="489.7" r="1.5"/><circle cx="481.51" cy="473.11" r="1.5"/><circle cx="458.89" cy="458.83" r="1.5"/><circle cx="465.94" cy="504.33" r="1.5"/><circle cx="457.66" cy="493.11" r="1.5"/><circle cx="477.15" cy="500.92" r="1.5"/><circle cx="483.66" cy="504.7" r="1.5"/><circle cx="477.78" cy="501.18" r="1.5"/><circle cx="477.12" cy="495.84" r="1.5"/><circle cx="473.54" cy="475.96" r="1.5"/><circle cx="479.07" cy="503.88" r="1.5"/><circle cx="473.67" cy="505.81" r="1.5"/><circle cx="481.09" cy="494.22" r="1.5"/><circle cx="462.18" cy="484.32" r="1.5"/><circle cx="471.43" cy="496.81" r="1.5"/><circle cx="476.1" cy="492.59" r="1.5"/><circle cx="459.62" cy="513.7" r="1.5"/><circle cx="474.13" cy="508.84" r="1.5"/><circle cx="484.51" cy="506.38" r="1.5"/><circle cx="460.17" cy="506.92" r="1.5"/><circle cx="479.18" cy="478.87" r="1.5"/><circle cx="478.74" cy="498.99" r="1.5"/><circle cx="483.76" cy="486.65" r="1.5"/><circle cx="486.01" cy="507.45" r="1.5"/><circle cx="476.34" cy="481.02" r="1.5"/><circle cx="475.17" cy="477.66" r="1.5"/><circle cx="471.55" cy="509.27" r="1.5"/><circle cx="470.54" cy="447.9" r="1.5"/><circle cx="475.29" cy="514.96" r="1.5"/><circle cx="467.53" cy="480.61" r="1.5"/><circle cx="481.08" cy="488.03" r="1.5"/><circle cx="473.67" cy="504.75" r="1.5"/><circle cx="470.39" cy="486.76" r="1.5"/><circle cx="472.75" cy="476.14" r="1.5"/><circle cx="478.45" cy="511.32" r="1.5"/><circle cx="482.18" cy="508.78" r="1.5"/><circle cx="481.56" cy="515.66" r="1.5"/><circle cx="478.44" cy="503.8" r="1.5"/><circle cx="464.78" cy="489.58" r="1.5"/><circle cx="457.61" cy="476.12" r="1.5"/><circle cx="461.15" cy="489.8" r="1.5"/><circle cx="460.08" cy="485.71" r="1.5"/><circle cx="472.51" cy="505.46" r="1.5"/><circle cx="459.87" cy="480.86" r="1.5"/><circle cx="471.52" cy="469.55" r="1.5"/><circle cx="479.83" cy="496.89" r="1.5"/><circle cx="470.55" cy="501.54" r="1.5"/><circle cx="483.28" cy="472.24" r="1.5"/><circle cx="468.17" cy="465.31" r="1.5"/><circle cx="471.85" cy="491.86" r="1.5"/><circle cx="465.39" cy="478.68" r="1.5"/><circle cx="461.45" cy="512.59" r="1.5"/><circle cx="474.59" cy="488.06" r="1.5"/><circle cx="461.24" cy="505.73" r="1.5"/><circle cx="461.94" cy="505.93" r="1.5"/><circle cx="466.13" cy="490.2" r="1.5"/><circle cx="479.01" cy="508.87" r="1.5"/><circle cx="486.38" cy="491.21" r="1.5"/><circle cx="463.99" cy="505.34" r="1.5"/><circle cx="464.68" cy="485.54" r="1.5"/><circle cx="486.11" cy="509.82" r="1.5"/><circle cx="474.67" cy="500.97" r="1.5"/><circle cx="481.02" cy="510.58" r="1.5"/><circle cx="486.98" cy="478.5" r="1.5"/><circle cx="476.99" cy="502.81" r="1.5"/></g>
<text transform="translate(507.1 403.9) scale(1 1.1)" font-size="12.6" font-weight="bold" fill="#111" color="#111">K</text>
<text transform="translate(519.5 403.9) scale(1 1.1)" font-size="11.5" fill="#1a1a1a" color="#1a1a1a" style="stroke-width:0.12px">cg19220282 (inhouse)</text>
<text x="510.4" y="477.5" font-size="7.6" text-anchor="middle" font-weight="normal" font-style="normal" fill="#1a1a1a" color="#1a1a1a" transform="rotate(-90 510.4 477.5)" >Methylation Level</text>
<line x1="528.5" y1="410.5" x2="528.5" y2="538" stroke="#555555" stroke-width="1" />
<line x1="528" y1="537.5" x2="678.4" y2="537.5" stroke="#555555" stroke-width="1" />
<line x1="526.3" y1="437.8" x2="528.5" y2="437.8" stroke="#555555" stroke-width="0.9" />
<text transform="translate(525.3 440.68) scale(0.9 1.0)" font-size="8.0" text-anchor="end" font-weight="normal" font-style="normal" fill="#444444" color="#444444" >0.50</text>
<line x1="526.3" y1="457.14" x2="528.5" y2="457.14" stroke="#555555" stroke-width="0.9" />
<text transform="translate(525.3 460.02) scale(0.9 1.0)" font-size="8.0" text-anchor="end" font-weight="normal" font-style="normal" fill="#444444" color="#444444" >0.45</text>
<line x1="526.3" y1="476.48" x2="528.5" y2="476.48" stroke="#555555" stroke-width="0.9" />
<text transform="translate(525.3 479.36) scale(0.9 1.0)" font-size="8.0" text-anchor="end" font-weight="normal" font-style="normal" fill="#444444" color="#444444" >0.40</text>
<line x1="526.3" y1="495.82" x2="528.5" y2="495.82" stroke="#555555" stroke-width="0.9" />
<text transform="translate(525.3 498.7) scale(0.9 1.0)" font-size="8.0" text-anchor="end" font-weight="normal" font-style="normal" fill="#444444" color="#444444" >0.35</text>
<line x1="526.3" y1="515.16" x2="528.5" y2="515.16" stroke="#555555" stroke-width="0.9" />
<text transform="translate(525.3 518.04) scale(0.9 1.0)" font-size="8.0" text-anchor="end" font-weight="normal" font-style="normal" fill="#444444" color="#444444" >0.30</text>
<line x1="526.3" y1="534.5" x2="528.5" y2="534.5" stroke="#555555" stroke-width="0.9" />
<text transform="translate(525.3 537.38) scale(0.9 1.0)" font-size="8.0" text-anchor="end" font-weight="normal" font-style="normal" fill="#444444" color="#444444" >0.25</text>
<line x1="572.4" y1="537.5" x2="572.4" y2="539.7" stroke="#555555" stroke-width="0.9" />
<text transform="translate(574.1 546.1) scale(0.9 1.0)" font-size="8.1" text-anchor="middle" font-weight="normal" font-style="normal" fill="#444444" color="#444444" >Normal</text>
<line x1="645.5" y1="537.5" x2="645.5" y2="539.7" stroke="#555555" stroke-width="0.9" />
<text transform="translate(645.5 546.1) scale(0.9 1.0)" font-size="8.1" text-anchor="middle" font-weight="normal" font-style="normal" fill="#444444" color="#444444" >LUAD</text>
<path d="M573.5 420.7 V418.5 H640.5 V420.7" fill="none" stroke="#4a4a4a" stroke-width="0.9"/>
<text x="606.7" y="418.38" font-size="7.2" text-anchor="middle" font-weight="normal" font-style="normal" fill="#111" color="#111" >**</text>
<line x1="572" y1="424.2" x2="572" y2="433" stroke="#3f67a8" stroke-width="1.8" />
<line x1="572" y1="450" x2="572" y2="468.3" stroke="#3f67a8" stroke-width="1.8" />
<line x1="566" y1="424" x2="578.6" y2="424" stroke="#3f67a8" stroke-width="1.8" />
<line x1="566" y1="468" x2="578.6" y2="468" stroke="#3f67a8" stroke-width="1.8" />
<rect x="554" y="433" width="36" height="17" fill="none" stroke="#3f67a8" stroke-width="1.8"/>
<line x1="554" y1="442.5" x2="590" y2="442.5" stroke="#3f67a8" stroke-width="2.6" />
<line x1="644" y1="457.8" x2="644" y2="462" stroke="#d9b34e" stroke-width="1.8" />
<line x1="644" y1="492" x2="644" y2="531.9" stroke="#d9b34e" stroke-width="1.8" />
<line x1="637.7" y1="458" x2="650.8" y2="458" stroke="#d9b34e" stroke-width="1.8" />
<line x1="637.7" y1="532" x2="650.8" y2="532" stroke="#d9b34e" stroke-width="1.8" />
<rect x="626" y="462" width="37" height="30" fill="none" stroke="#d9b34e" stroke-width="1.8"/>
<line x1="626" y1="485.9" x2="663" y2="485.9" stroke="#d9b34e" stroke-width="2.6" />
<g fill="#3f66a7" fill-opacity="1"><circle cx="576" cy="424.26" r="1.4"/><circle cx="575" cy="433.93" r="1.4"/><circle cx="579" cy="432.77" r="1.4"/><circle cx="577" cy="441.67" r="1.4"/><circle cx="568" cy="445.54" r="1.4"/><circle cx="575" cy="446.31" r="1.4"/><circle cx="576" cy="452.5" r="1.4"/><circle cx="577" cy="468.74" r="1.4"/><circle cx="571" cy="486.15" r="1.4"/></g>
<g fill="#d4ad40" fill-opacity="1"><circle cx="643" cy="459.07" r="1.4"/><circle cx="646" cy="461.01" r="1.4"/><circle cx="650" cy="481.12" r="1.4"/><circle cx="640" cy="490.02" r="1.4"/><circle cx="638" cy="491.95" r="1.4"/><circle cx="643" cy="522.9" r="1.4"/><circle cx="647" cy="531.79" r="1.4"/></g>
<text transform="translate(124.1 591.9) scale(1 1.1)" font-size="12.6" font-weight="bold" fill="#111" color="#111">L</text>
<text transform="translate(139.5 591.9) scale(1 1.1)" font-size="11.5" fill="#1a1a1a" color="#1a1a1a" style="stroke-width:0.12px"><tspan font-style="italic">LRRC2</tspan>-cg09596674</text>
<text transform="translate(124.4 674.4) rotate(-90)" font-size="8.5" text-anchor="middle" fill="#1a1a1a" color="#1a1a1a">Expression level of <tspan font-style="italic">LRRC2</tspan></text>
<line x1="147.5" y1="602.1" x2="147.5" y2="745" stroke="#555555" stroke-width="1" />
<line x1="147" y1="744.5" x2="320.9" y2="744.5" stroke="#555555" stroke-width="1" />
<line x1="145.3" y1="612" x2="147.5" y2="612" stroke="#555555" stroke-width="0.9" />
<text transform="translate(144.3 615.17) scale(0.92 1.0)" font-size="8.8" text-anchor="end" font-weight="normal" font-style="normal" fill="#444444" color="#444444" >2.00</text>
<line x1="145.3" y1="643.58" x2="147.5" y2="643.58" stroke="#555555" stroke-width="0.9" />
<text transform="translate(144.3 646.74) scale(0.92 1.0)" font-size="8.8" text-anchor="end" font-weight="normal" font-style="normal" fill="#444444" color="#444444" >1.50</text>
<line x1="145.3" y1="675.15" x2="147.5" y2="675.15" stroke="#555555" stroke-width="0.9" />
<text transform="translate(144.3 678.32) scale(0.92 1.0)" font-size="8.8" text-anchor="end" font-weight="normal" font-style="normal" fill="#444444" color="#444444" >1.00</text>
<line x1="145.3" y1="706.72" x2="147.5" y2="706.72" stroke="#555555" stroke-width="0.9" />
<text transform="translate(144.3 709.89) scale(0.92 1.0)" font-size="8.8" text-anchor="end" font-weight="normal" font-style="normal" fill="#444444" color="#444444" >0.50</text>
<line x1="145.3" y1="738.3" x2="147.5" y2="738.3" stroke="#555555" stroke-width="0.9" />
<text transform="translate(144.3 741.47) scale(0.92 1.0)" font-size="8.8" text-anchor="end" font-weight="normal" font-style="normal" fill="#444444" color="#444444" >0.00</text>
<line x1="179" y1="744.5" x2="179" y2="746.7" stroke="#555555" stroke-width="0.9" />
<text transform="translate(179 753.6) scale(0.92 1.0)" font-size="9.1" text-anchor="middle" font-weight="normal" font-style="normal" fill="#444444" color="#444444" >0.2</text>
<line x1="222.83" y1="744.5" x2="222.83" y2="746.7" stroke="#555555" stroke-width="0.9" />
<text transform="translate(222.83 753.6) scale(0.92 1.0)" font-size="9.1" text-anchor="middle" font-weight="normal" font-style="normal" fill="#444444" color="#444444" >0.4</text>
<line x1="266.67" y1="744.5" x2="266.67" y2="746.7" stroke="#555555" stroke-width="0.9" />
<text transform="translate(266.67 753.6) scale(0.92 1.0)" font-size="9.1" text-anchor="middle" font-weight="normal" font-style="normal" fill="#444444" color="#444444" >0.6</text>
<line x1="310.5" y1="744.5" x2="310.5" y2="746.7" stroke="#555555" stroke-width="0.9" />
<text transform="translate(310.5 753.6) scale(0.92 1.0)" font-size="9.1" text-anchor="middle" font-weight="normal" font-style="normal" fill="#444444" color="#444444" >0.8</text>
<text x="239.6" y="761.8" font-size="8.3" text-anchor="middle" font-weight="normal" font-style="normal" fill="#1a1a1a" color="#1a1a1a" >Methylation level of cg09596674</text>
<text x="153.8" y="609.7" font-size="8.3" text-anchor="start" font-weight="normal" font-style="normal" fill="#111" color="#111" style="stroke-width:0.1px">r = -0.32</text>
<text x="153.8" y="619.6" font-size="8.3" fill="#111" color="#111" style="stroke-width:0.1px"><tspan font-style="italic">P</tspan> &lt; 0.001</text>
<path d="M155.5 695.6 L162.07 697.29 L168.64 698.97 L175.21 700.65 L181.78 702.33 L188.35 703.99 L194.93 705.64 L201.5 707.28 L208.07 708.89 L214.64 710.46 L221.21 711.98 L227.78 713.44 L234.35 714.8 L240.92 716.11 L247.49 717.39 L254.06 718.65 L260.63 719.89 L267.2 721.12 L273.77 722.33 L280.35 723.53 L286.92 724.72 L293.49 725.9 L300.06 727.07 L306.63 728.24 L313.2 729.4 L313.2 735 L306.63 733.53 L300.06 732.06 L293.49 730.6 L286.92 729.15 L280.35 727.7 L273.77 726.27 L267.2 724.85 L260.63 723.44 L254.06 722.05 L247.49 720.68 L240.92 719.33 L234.35 718 L227.78 716.73 L221.21 715.55 L214.64 714.44 L208.07 713.38 L201.5 712.36 L194.93 711.36 L188.35 710.38 L181.78 709.41 L175.21 708.45 L168.64 707.49 L162.07 706.54 L155.5 705.6 Z" fill="#aaa4a0" fill-opacity="0.6"/>
<g fill="#d4ad40" fill-opacity="0.9"><circle cx="265.41" cy="732.1" r="1.55"/><circle cx="267.91" cy="730.11" r="1.55"/><circle cx="251.32" cy="729.18" r="1.55"/><circle cx="309.72" cy="714.6" r="1.55"/><circle cx="294.99" cy="728.93" r="1.55"/><circle cx="302.9" cy="727.26" r="1.55"/><circle cx="249.17" cy="720.24" r="1.55"/><circle cx="255.34" cy="719.16" r="1.55"/><circle cx="244.34" cy="735.31" r="1.55"/><circle cx="250.76" cy="722.05" r="1.55"/><circle cx="309.08" cy="716.22" r="1.55"/><circle cx="249.33" cy="723.7" r="1.55"/><circle cx="262.96" cy="731" r="1.55"/><circle cx="265.49" cy="735.38" r="1.55"/><circle cx="261.72" cy="727.2" r="1.55"/><circle cx="263.18" cy="720.22" r="1.55"/><circle cx="272.87" cy="732.54" r="1.55"/><circle cx="278.48" cy="734.99" r="1.55"/><circle cx="299.41" cy="722.52" r="1.55"/><circle cx="256.94" cy="729.33" r="1.55"/><circle cx="287.35" cy="722.31" r="1.55"/><circle cx="278.11" cy="733.3" r="1.55"/><circle cx="282.1" cy="734.86" r="1.55"/><circle cx="267.33" cy="727.15" r="1.55"/><circle cx="280.79" cy="720.4" r="1.55"/><circle cx="284.92" cy="727.98" r="1.55"/><circle cx="207.53" cy="732.57" r="1.55"/><circle cx="235.16" cy="730.62" r="1.55"/><circle cx="238.81" cy="731.69" r="1.55"/><circle cx="235.67" cy="720.9" r="1.55"/><circle cx="281.44" cy="716.97" r="1.55"/><circle cx="247" cy="714.85" r="1.55"/><circle cx="284.63" cy="716.72" r="1.55"/><circle cx="277.36" cy="728.63" r="1.55"/><circle cx="260.86" cy="737.01" r="1.55"/><circle cx="270.09" cy="725.21" r="1.55"/><circle cx="255.95" cy="728.56" r="1.55"/><circle cx="246.41" cy="716.65" r="1.55"/><circle cx="258.87" cy="722.3" r="1.55"/><circle cx="281.58" cy="713.94" r="1.55"/><circle cx="210.75" cy="709.05" r="1.55"/><circle cx="287.33" cy="716.23" r="1.55"/><circle cx="301.29" cy="721.27" r="1.55"/><circle cx="307.69" cy="720.98" r="1.55"/><circle cx="275.98" cy="734.06" r="1.55"/><circle cx="272.24" cy="729.15" r="1.55"/><circle cx="278.69" cy="713.85" r="1.55"/><circle cx="232.04" cy="722.36" r="1.55"/><circle cx="249.83" cy="728.81" r="1.55"/><circle cx="280.57" cy="718.52" r="1.55"/><circle cx="274.15" cy="714.97" r="1.55"/><circle cx="237.81" cy="729.24" r="1.55"/><circle cx="299.19" cy="732.71" r="1.55"/><circle cx="220.79" cy="728.62" r="1.55"/><circle cx="254.21" cy="705.86" r="1.55"/><circle cx="301.41" cy="734.68" r="1.55"/><circle cx="271.28" cy="728.05" r="1.55"/><circle cx="239.36" cy="730.41" r="1.55"/><circle cx="298.11" cy="731.58" r="1.55"/><circle cx="307.86" cy="718.98" r="1.55"/><circle cx="291.64" cy="711.01" r="1.55"/><circle cx="245.25" cy="727.65" r="1.55"/><circle cx="267.43" cy="715.72" r="1.55"/><circle cx="256.59" cy="730.26" r="1.55"/><circle cx="259.46" cy="721.7" r="1.55"/><circle cx="282.85" cy="712.03" r="1.55"/><circle cx="262.28" cy="729.77" r="1.55"/><circle cx="302.48" cy="719.36" r="1.55"/><circle cx="267.86" cy="719.5" r="1.55"/><circle cx="297.51" cy="706.13" r="1.55"/><circle cx="257.31" cy="724.23" r="1.55"/><circle cx="286.52" cy="730.5" r="1.55"/><circle cx="210.79" cy="707.96" r="1.55"/><circle cx="270.17" cy="727.31" r="1.55"/><circle cx="296.99" cy="721.19" r="1.55"/><circle cx="291.6" cy="725.89" r="1.55"/><circle cx="252.06" cy="701.64" r="1.55"/><circle cx="290.1" cy="710.65" r="1.55"/><circle cx="232.54" cy="734.36" r="1.55"/><circle cx="253.98" cy="731.32" r="1.55"/><circle cx="258.91" cy="730.92" r="1.55"/><circle cx="243.95" cy="731.2" r="1.55"/><circle cx="275.84" cy="718.96" r="1.55"/><circle cx="253.16" cy="725.74" r="1.55"/><circle cx="219.61" cy="724.13" r="1.55"/><circle cx="285.82" cy="712.71" r="1.55"/><circle cx="290.22" cy="720.06" r="1.55"/><circle cx="303.65" cy="735.23" r="1.55"/><circle cx="263.78" cy="717.16" r="1.55"/><circle cx="278.77" cy="719.47" r="1.55"/><circle cx="237.17" cy="731.67" r="1.55"/><circle cx="266.24" cy="735.48" r="1.55"/><circle cx="271.37" cy="704.36" r="1.55"/><circle cx="263.93" cy="718.44" r="1.55"/><circle cx="266.64" cy="730.05" r="1.55"/><circle cx="255.96" cy="734.42" r="1.55"/><circle cx="249.11" cy="725.83" r="1.55"/><circle cx="267.5" cy="731.63" r="1.55"/><circle cx="274.45" cy="712.15" r="1.55"/><circle cx="296.95" cy="730.24" r="1.55"/><circle cx="273.73" cy="734.17" r="1.55"/><circle cx="276.39" cy="712.48" r="1.55"/><circle cx="235.94" cy="728.51" r="1.55"/><circle cx="261.7" cy="732.76" r="1.55"/><circle cx="246.9" cy="729.11" r="1.55"/><circle cx="292.17" cy="726.55" r="1.55"/><circle cx="258.44" cy="737.51" r="1.55"/><circle cx="271.34" cy="731.92" r="1.55"/><circle cx="238.86" cy="732.16" r="1.55"/><circle cx="249.63" cy="716.91" r="1.55"/><circle cx="290.66" cy="720.81" r="1.55"/><circle cx="275.66" cy="716.98" r="1.55"/><circle cx="254.61" cy="723.07" r="1.55"/><circle cx="292" cy="716.71" r="1.55"/><circle cx="257.71" cy="732.77" r="1.55"/><circle cx="244.2" cy="725.13" r="1.55"/><circle cx="287.63" cy="727.27" r="1.55"/><circle cx="269.88" cy="723.95" r="1.55"/><circle cx="233.13" cy="734.26" r="1.55"/><circle cx="231.58" cy="728.9" r="1.55"/><circle cx="260.81" cy="702.83" r="1.55"/><circle cx="263.45" cy="736.98" r="1.55"/><circle cx="242.93" cy="726.41" r="1.55"/><circle cx="313.26" cy="725.06" r="1.55"/><circle cx="235" cy="733.32" r="1.55"/><circle cx="274.97" cy="727.06" r="1.55"/><circle cx="251.6" cy="723.52" r="1.55"/><circle cx="253.2" cy="722.73" r="1.55"/><circle cx="275.13" cy="728.65" r="1.55"/><circle cx="295.78" cy="717.17" r="1.55"/><circle cx="279.87" cy="723.58" r="1.55"/><circle cx="265.39" cy="715.85" r="1.55"/><circle cx="255.93" cy="732.24" r="1.55"/><circle cx="263.7" cy="730.44" r="1.55"/><circle cx="278.59" cy="727.38" r="1.55"/><circle cx="265.98" cy="735.61" r="1.55"/><circle cx="267.41" cy="725.03" r="1.55"/><circle cx="256.61" cy="731.18" r="1.55"/><circle cx="260.12" cy="732.65" r="1.55"/><circle cx="257.29" cy="722.52" r="1.55"/><circle cx="257.26" cy="735.84" r="1.55"/><circle cx="287.65" cy="725.51" r="1.55"/><circle cx="294.55" cy="723.73" r="1.55"/><circle cx="269.97" cy="726.92" r="1.55"/><circle cx="260.58" cy="734.51" r="1.55"/><circle cx="303.72" cy="725.83" r="1.55"/><circle cx="283.2" cy="727.78" r="1.55"/><circle cx="286.28" cy="730.14" r="1.55"/><circle cx="257.58" cy="737.47" r="1.55"/><circle cx="285.9" cy="717.86" r="1.55"/><circle cx="245.3" cy="719.62" r="1.55"/><circle cx="269.73" cy="701.64" r="1.55"/><circle cx="311.06" cy="728.07" r="1.55"/><circle cx="276.19" cy="722.46" r="1.55"/><circle cx="251.26" cy="721.06" r="1.55"/><circle cx="268.46" cy="728.35" r="1.55"/><circle cx="228.79" cy="713.19" r="1.55"/><circle cx="282.2" cy="729.52" r="1.55"/><circle cx="237.81" cy="735.73" r="1.55"/><circle cx="226.13" cy="715.24" r="1.55"/><circle cx="306.9" cy="717.66" r="1.55"/><circle cx="230.7" cy="716.27" r="1.55"/><circle cx="268.77" cy="733.13" r="1.55"/><circle cx="289.88" cy="723.18" r="1.55"/><circle cx="243.77" cy="714.03" r="1.55"/><circle cx="234.59" cy="723.75" r="1.55"/><circle cx="257.83" cy="718.2" r="1.55"/><circle cx="259.38" cy="723.54" r="1.55"/><circle cx="286.73" cy="727.69" r="1.55"/><circle cx="269.89" cy="734" r="1.55"/><circle cx="285.11" cy="727.09" r="1.55"/><circle cx="280.37" cy="717.06" r="1.55"/><circle cx="297.01" cy="731.05" r="1.55"/><circle cx="310.65" cy="736.81" r="1.55"/><circle cx="267.54" cy="722.62" r="1.55"/><circle cx="254.89" cy="732.95" r="1.55"/><circle cx="260.58" cy="725.3" r="1.55"/><circle cx="238.38" cy="729.02" r="1.55"/><circle cx="250.07" cy="731.42" r="1.55"/><circle cx="216.48" cy="728.43" r="1.55"/><circle cx="264.64" cy="719.53" r="1.55"/><circle cx="263.67" cy="716.28" r="1.55"/><circle cx="275.97" cy="716.15" r="1.55"/><circle cx="282.33" cy="735.02" r="1.55"/><circle cx="291.29" cy="730.76" r="1.55"/><circle cx="297.98" cy="730.34" r="1.55"/><circle cx="242.26" cy="736.78" r="1.55"/><circle cx="218.33" cy="728.83" r="1.55"/><circle cx="265.16" cy="714.78" r="1.55"/><circle cx="225.32" cy="727.14" r="1.55"/><circle cx="257.19" cy="720.55" r="1.55"/><circle cx="243.79" cy="714.57" r="1.55"/><circle cx="268.68" cy="730.49" r="1.55"/><circle cx="248.24" cy="717.81" r="1.55"/><circle cx="258.03" cy="736.28" r="1.55"/><circle cx="297.84" cy="731.76" r="1.55"/><circle cx="280.04" cy="723.22" r="1.55"/><circle cx="276.31" cy="728.83" r="1.55"/><circle cx="249.76" cy="714.53" r="1.55"/><circle cx="282.58" cy="719.85" r="1.55"/><circle cx="214.23" cy="717.58" r="1.55"/><circle cx="252.16" cy="729.91" r="1.55"/><circle cx="254.48" cy="729.28" r="1.55"/><circle cx="261.45" cy="729.64" r="1.55"/><circle cx="262.38" cy="725.69" r="1.55"/><circle cx="239.43" cy="726.22" r="1.55"/><circle cx="305.84" cy="710.21" r="1.55"/><circle cx="264.53" cy="725.92" r="1.55"/><circle cx="288.2" cy="721.93" r="1.55"/><circle cx="244.76" cy="722.5" r="1.55"/><circle cx="227.15" cy="733.35" r="1.55"/><circle cx="286.58" cy="730.39" r="1.55"/><circle cx="279.11" cy="727.44" r="1.55"/><circle cx="226.52" cy="731.23" r="1.55"/><circle cx="286.39" cy="719.68" r="1.55"/><circle cx="266.04" cy="737.16" r="1.55"/><circle cx="287.8" cy="720.91" r="1.55"/><circle cx="292.58" cy="733.79" r="1.55"/><circle cx="279.03" cy="731.12" r="1.55"/><circle cx="250.39" cy="734.46" r="1.55"/><circle cx="253.02" cy="732.47" r="1.55"/><circle cx="259.71" cy="722.26" r="1.55"/><circle cx="266.21" cy="713.13" r="1.55"/><circle cx="271.45" cy="723.51" r="1.55"/><circle cx="271.68" cy="731.01" r="1.55"/><circle cx="280.55" cy="701.43" r="1.55"/><circle cx="261.71" cy="736.39" r="1.55"/><circle cx="269.47" cy="719.14" r="1.55"/><circle cx="277.8" cy="723.89" r="1.55"/><circle cx="271.63" cy="733.63" r="1.55"/><circle cx="264.43" cy="728.99" r="1.55"/><circle cx="295.99" cy="733.32" r="1.55"/><circle cx="219.61" cy="728.17" r="1.55"/><circle cx="234.97" cy="729.59" r="1.55"/><circle cx="300.73" cy="722.74" r="1.55"/><circle cx="261.06" cy="731.07" r="1.55"/><circle cx="256.78" cy="725.41" r="1.55"/><circle cx="239.54" cy="724" r="1.55"/><circle cx="250.98" cy="716.43" r="1.55"/><circle cx="270.36" cy="725.8" r="1.55"/><circle cx="241.86" cy="728.79" r="1.55"/><circle cx="226.14" cy="729.2" r="1.55"/><circle cx="269.88" cy="728.97" r="1.55"/><circle cx="283.16" cy="710.34" r="1.55"/><circle cx="224.15" cy="729.88" r="1.55"/><circle cx="283.39" cy="729.66" r="1.55"/><circle cx="229.62" cy="713.85" r="1.55"/><circle cx="256.58" cy="722.95" r="1.55"/><circle cx="263.18" cy="729.73" r="1.55"/><circle cx="266.48" cy="720.57" r="1.55"/><circle cx="248.7" cy="728.09" r="1.55"/><circle cx="264.6" cy="730.04" r="1.55"/><circle cx="220.89" cy="733.23" r="1.55"/><circle cx="277.42" cy="720.43" r="1.55"/><circle cx="299.14" cy="731.95" r="1.55"/><circle cx="282.82" cy="733.7" r="1.55"/><circle cx="296.06" cy="725.75" r="1.55"/><circle cx="252.57" cy="722.97" r="1.55"/><circle cx="258.12" cy="726.42" r="1.55"/><circle cx="252.09" cy="722.49" r="1.55"/><circle cx="291.52" cy="733.65" r="1.55"/><circle cx="248.5" cy="726.82" r="1.55"/><circle cx="253.15" cy="729.57" r="1.55"/><circle cx="277.57" cy="714.37" r="1.55"/><circle cx="288.06" cy="715.75" r="1.55"/><circle cx="233.26" cy="715.45" r="1.55"/><circle cx="258.06" cy="711.56" r="1.55"/><circle cx="258.19" cy="725.54" r="1.55"/><circle cx="242.35" cy="731.67" r="1.55"/><circle cx="224.98" cy="729.33" r="1.55"/><circle cx="303.93" cy="734.65" r="1.55"/><circle cx="250.2" cy="702.42" r="1.55"/><circle cx="273.07" cy="735.88" r="1.55"/><circle cx="302.36" cy="713.14" r="1.55"/><circle cx="250.4" cy="717.41" r="1.55"/><circle cx="262.36" cy="731.24" r="1.55"/><circle cx="265.19" cy="708.21" r="1.55"/><circle cx="221.09" cy="730.74" r="1.55"/><circle cx="300.83" cy="723.07" r="1.55"/><circle cx="308.44" cy="713.01" r="1.55"/><circle cx="270.19" cy="733.91" r="1.55"/><circle cx="252.59" cy="736.96" r="1.55"/><circle cx="248.92" cy="729.38" r="1.55"/><circle cx="268.83" cy="733.07" r="1.55"/><circle cx="281.79" cy="728.12" r="1.55"/><circle cx="279.16" cy="732.52" r="1.55"/><circle cx="290.71" cy="732.58" r="1.55"/><circle cx="274.27" cy="727.72" r="1.55"/><circle cx="287.21" cy="720.57" r="1.55"/><circle cx="202.04" cy="730.46" r="1.55"/><circle cx="275.55" cy="729.72" r="1.55"/><circle cx="259.41" cy="732.72" r="1.55"/><circle cx="217.24" cy="724.46" r="1.55"/><circle cx="278.75" cy="716.87" r="1.55"/><circle cx="270.91" cy="727.67" r="1.55"/><circle cx="236.97" cy="724.82" r="1.55"/><circle cx="275.68" cy="723.96" r="1.55"/><circle cx="274.41" cy="729.66" r="1.55"/><circle cx="259.06" cy="729.85" r="1.55"/><circle cx="309.91" cy="717.46" r="1.55"/><circle cx="243.75" cy="722.86" r="1.55"/><circle cx="248.44" cy="726.95" r="1.55"/><circle cx="259.5" cy="713.8" r="1.55"/><circle cx="242.8" cy="723.32" r="1.55"/><circle cx="247.07" cy="726.21" r="1.55"/><circle cx="261.01" cy="735.86" r="1.55"/><circle cx="241.13" cy="727.95" r="1.55"/><circle cx="248.63" cy="731.37" r="1.55"/><circle cx="242.71" cy="732.01" r="1.55"/><circle cx="252.47" cy="727.26" r="1.55"/><circle cx="263.1" cy="708.23" r="1.55"/><circle cx="285.29" cy="711.84" r="1.55"/><circle cx="287.21" cy="730.86" r="1.55"/><circle cx="263.69" cy="730.68" r="1.55"/><circle cx="225.7" cy="727.97" r="1.55"/><circle cx="251.63" cy="732.49" r="1.55"/><circle cx="247.92" cy="731.01" r="1.55"/><circle cx="284.49" cy="733.41" r="1.55"/><circle cx="269.29" cy="718.53" r="1.55"/><circle cx="228.51" cy="730.27" r="1.55"/><circle cx="279.01" cy="732.96" r="1.55"/><circle cx="252.45" cy="728.98" r="1.55"/><circle cx="232.76" cy="729.92" r="1.55"/><circle cx="262.19" cy="729.55" r="1.55"/><circle cx="292.86" cy="730.77" r="1.55"/><circle cx="252.11" cy="722.84" r="1.55"/><circle cx="235.81" cy="708.88" r="1.55"/><circle cx="286.14" cy="717.03" r="1.55"/><circle cx="247.76" cy="726.91" r="1.55"/><circle cx="274.19" cy="725.81" r="1.55"/><circle cx="285.58" cy="726.58" r="1.55"/><circle cx="298.09" cy="730.73" r="1.55"/><circle cx="277.88" cy="722.24" r="1.55"/><circle cx="243.49" cy="715.53" r="1.55"/><circle cx="250.57" cy="720.71" r="1.55"/><circle cx="253.98" cy="733.13" r="1.55"/><circle cx="288.98" cy="736.18" r="1.55"/><circle cx="287.6" cy="723.39" r="1.55"/><circle cx="287" cy="726.08" r="1.55"/><circle cx="226.77" cy="729.25" r="1.55"/><circle cx="259.38" cy="733.42" r="1.55"/><circle cx="176.2" cy="735.8" r="1.55"/><circle cx="185.65" cy="735.35" r="1.55"/><circle cx="261.42" cy="730.67" r="1.55"/><circle cx="168.48" cy="731.07" r="1.55"/><circle cx="178.59" cy="727.2" r="1.55"/><circle cx="224.25" cy="725.77" r="1.55"/><circle cx="203.5" cy="714.66" r="1.55"/><circle cx="260.8" cy="725.44" r="1.55"/><circle cx="174.42" cy="712.04" r="1.55"/><circle cx="245.67" cy="723.87" r="1.55"/><circle cx="229.89" cy="737.45" r="1.55"/><circle cx="190.63" cy="733.96" r="1.55"/><circle cx="223.28" cy="718.38" r="1.55"/><circle cx="226.95" cy="722.8" r="1.55"/><circle cx="205.83" cy="738.23" r="1.55"/><circle cx="214.82" cy="688.12" r="1.55"/><circle cx="231.47" cy="724.07" r="1.55"/><circle cx="257.48" cy="735.5" r="1.55"/><circle cx="175.41" cy="700.55" r="1.55"/><circle cx="224.48" cy="717.65" r="1.55"/><circle cx="206.5" cy="733.58" r="1.55"/><circle cx="241.8" cy="720.63" r="1.55"/><circle cx="235.25" cy="704.58" r="1.55"/><circle cx="204.4" cy="706.44" r="1.55"/><circle cx="196.09" cy="706.79" r="1.55"/><circle cx="237.71" cy="708.08" r="1.55"/><circle cx="252.6" cy="736.4" r="1.55"/><circle cx="230.96" cy="734.77" r="1.55"/><circle cx="192.29" cy="724.31" r="1.55"/><circle cx="247.46" cy="708.05" r="1.55"/><circle cx="186.87" cy="730.6" r="1.55"/><circle cx="249.72" cy="730.31" r="1.55"/><circle cx="237.55" cy="716.02" r="1.55"/><circle cx="240.69" cy="729.65" r="1.55"/><circle cx="212.82" cy="718.27" r="1.55"/><circle cx="244.35" cy="695.76" r="1.55"/><circle cx="216.9" cy="726.37" r="1.55"/><circle cx="191.11" cy="733.38" r="1.55"/><circle cx="173.36" cy="720.38" r="1.55"/><circle cx="193.89" cy="708.58" r="1.55"/><circle cx="187.22" cy="724.2" r="1.55"/><circle cx="242.7" cy="731.91" r="1.55"/><circle cx="192.41" cy="737.14" r="1.55"/><circle cx="252.78" cy="719.03" r="1.55"/><circle cx="238.3" cy="730.56" r="1.55"/><circle cx="173.13" cy="731.35" r="1.55"/><circle cx="234.01" cy="731.82" r="1.55"/><circle cx="195.9" cy="728.89" r="1.55"/><circle cx="252.04" cy="709.03" r="1.55"/><circle cx="249.74" cy="728.95" r="1.55"/><circle cx="232.55" cy="725.35" r="1.55"/><circle cx="258.98" cy="710.04" r="1.55"/><circle cx="223.07" cy="719.79" r="1.55"/><circle cx="259.7" cy="720.51" r="1.55"/><circle cx="264.09" cy="727.05" r="1.55"/><circle cx="180.27" cy="719.48" r="1.55"/><circle cx="216.14" cy="712.96" r="1.55"/><circle cx="215.94" cy="725.07" r="1.55"/><circle cx="191.88" cy="728.46" r="1.55"/><circle cx="224.35" cy="708.36" r="1.55"/><circle cx="243.96" cy="731.09" r="1.55"/><circle cx="179.52" cy="719.02" r="1.55"/><circle cx="185.09" cy="729.44" r="1.55"/><circle cx="262.07" cy="725.97" r="1.55"/><circle cx="178.45" cy="729.96" r="1.55"/><circle cx="255.39" cy="737.63" r="1.55"/><circle cx="178.24" cy="728.07" r="1.55"/><circle cx="203.38" cy="725.35" r="1.55"/><circle cx="177.72" cy="733.16" r="1.55"/><circle cx="233.93" cy="733.07" r="1.55"/><circle cx="220.6" cy="733.98" r="1.55"/><circle cx="237.96" cy="711.2" r="1.55"/><circle cx="174.47" cy="705.25" r="1.55"/><circle cx="246.79" cy="718.22" r="1.55"/><circle cx="259.11" cy="732.8" r="1.55"/><circle cx="210.59" cy="730" r="1.55"/><circle cx="258.5" cy="734.39" r="1.55"/><circle cx="242.08" cy="730.07" r="1.55"/><circle cx="247.73" cy="711.73" r="1.55"/><circle cx="253.98" cy="731.61" r="1.55"/><circle cx="209.84" cy="732.34" r="1.55"/><circle cx="245.51" cy="714.41" r="1.55"/><circle cx="251.62" cy="730.95" r="1.55"/><circle cx="225.89" cy="728.5" r="1.55"/><circle cx="202.31" cy="738.15" r="1.55"/><circle cx="211.77" cy="737.81" r="1.55"/><circle cx="266.46" cy="727.23" r="1.55"/><circle cx="204.78" cy="731.14" r="1.55"/><circle cx="227.25" cy="726.89" r="1.55"/><circle cx="250.94" cy="695.22" r="1.55"/><circle cx="270.69" cy="702.63" r="1.55"/><circle cx="197.24" cy="677.92" r="1.55"/><circle cx="277.17" cy="686.4" r="1.55"/><circle cx="260" cy="700.65" r="1.55"/><circle cx="207.26" cy="692.68" r="1.55"/><circle cx="269.34" cy="692.12" r="1.55"/><circle cx="248.09" cy="704.21" r="1.55"/><circle cx="209.37" cy="631.53" r="1.55"/><circle cx="193.08" cy="656.23" r="1.55"/><circle cx="192.29" cy="667.52" r="1.55"/><circle cx="206.74" cy="671.47" r="1.55"/><circle cx="217.25" cy="672.52" r="1.55"/><circle cx="221.72" cy="668.84" r="1.55"/><circle cx="241.43" cy="662.53" r="1.55"/><circle cx="251.94" cy="673.83" r="1.55"/><circle cx="260.61" cy="676.46" r="1.55"/><circle cx="269.8" cy="680.4" r="1.55"/><circle cx="286.88" cy="660.17" r="1.55"/><circle cx="305.8" cy="692.49" r="1.55"/><circle cx="155.51" cy="722.18" r="1.55"/><circle cx="172.59" cy="730.06" r="1.55"/><circle cx="176" cy="734.52" r="1.55"/><circle cx="181.78" cy="693.27" r="1.55"/><circle cx="195.71" cy="701.16" r="1.55"/><circle cx="213.31" cy="694.06" r="1.55"/><circle cx="242.21" cy="676.2" r="1.55"/><circle cx="203.33" cy="685.65" r="1.55"/></g>
<g fill="#3f66a7" fill-opacity="0.9"><circle cx="221.98" cy="608.41" r="1.55"/><circle cx="211.47" cy="621.81" r="1.55"/><circle cx="218.83" cy="639.94" r="1.55"/><circle cx="228.55" cy="641.25" r="1.55"/><circle cx="202.28" cy="651.23" r="1.55"/><circle cx="203.85" cy="651.23" r="1.55"/><circle cx="220.93" cy="655.96" r="1.55"/><circle cx="230.92" cy="667.26" r="1.55"/><circle cx="227.76" cy="674.36" r="1.55"/><circle cx="234.33" cy="678.03" r="1.55"/><circle cx="223.3" cy="681.45" r="1.55"/><circle cx="232.49" cy="692.49" r="1.55"/><circle cx="233.28" cy="696.16" r="1.55"/><circle cx="233.28" cy="699.32" r="1.55"/><circle cx="225.4" cy="705.89" r="1.55"/><circle cx="227.24" cy="705.89" r="1.55"/><circle cx="229.87" cy="705.89" r="1.55"/><circle cx="233.28" cy="704.31" r="1.55"/><circle cx="236.43" cy="707.2" r="1.55"/><circle cx="214.63" cy="709.83" r="1.55"/></g>
<line x1="155.5" y1="700.6" x2="313.2" y2="732.2" stroke="#1e1e1e" stroke-width="0.9" />
<text transform="translate(366.2 591.9) scale(1 1.1)" font-size="12.6" font-weight="bold" fill="#111" color="#111">M</text>
<text transform="translate(381 591.9) scale(1 1.1)" font-size="11.5" fill="#1a1a1a" color="#1a1a1a" style="stroke-width:0.12px"><tspan font-style="italic">SLC1A4</tspan>-cg19220282</text>
<text transform="translate(365.8 672.3) rotate(-90)" font-size="8.4" text-anchor="middle" fill="#1a1a1a" color="#1a1a1a">Expression level of <tspan font-style="italic">SLC1A4</tspan></text>
<line x1="387.5" y1="601.8" x2="387.5" y2="744" stroke="#555555" stroke-width="1" />
<line x1="387" y1="743.5" x2="561.6" y2="743.5" stroke="#555555" stroke-width="1" />
<line x1="385.3" y1="606.1" x2="387.5" y2="606.1" stroke="#555555" stroke-width="0.9" />
<text transform="translate(384.1 609.38) scale(0.92 1.0)" font-size="9.1" text-anchor="end" font-weight="normal" font-style="normal" fill="#444444" color="#444444" >5.00</text>
<line x1="385.3" y1="635.88" x2="387.5" y2="635.88" stroke="#555555" stroke-width="0.9" />
<text transform="translate(384.1 639.15) scale(0.92 1.0)" font-size="9.1" text-anchor="end" font-weight="normal" font-style="normal" fill="#444444" color="#444444" >4.00</text>
<line x1="385.3" y1="665.65" x2="387.5" y2="665.65" stroke="#555555" stroke-width="0.9" />
<text transform="translate(384.1 668.93) scale(0.92 1.0)" font-size="9.1" text-anchor="end" font-weight="normal" font-style="normal" fill="#444444" color="#444444" >3.00</text>
<line x1="385.3" y1="695.43" x2="387.5" y2="695.43" stroke="#555555" stroke-width="0.9" />
<text transform="translate(384.1 698.7) scale(0.92 1.0)" font-size="9.1" text-anchor="end" font-weight="normal" font-style="normal" fill="#444444" color="#444444" >2.00</text>
<line x1="385.3" y1="725.2" x2="387.5" y2="725.2" stroke="#555555" stroke-width="0.9" />
<text transform="translate(384.1 728.48) scale(0.92 1.0)" font-size="9.1" text-anchor="end" font-weight="normal" font-style="normal" fill="#444444" color="#444444" >1.00</text>
<line x1="418" y1="743.5" x2="418" y2="745.7" stroke="#555555" stroke-width="0.9" />
<text transform="translate(418 753.2) scale(0.92 1.0)" font-size="9.1" text-anchor="middle" font-weight="normal" font-style="normal" fill="#444444" color="#444444" >0.2</text>
<line x1="463.3" y1="743.5" x2="463.3" y2="745.7" stroke="#555555" stroke-width="0.9" />
<text transform="translate(463.3 753.2) scale(0.92 1.0)" font-size="9.1" text-anchor="middle" font-weight="normal" font-style="normal" fill="#444444" color="#444444" >0.4</text>
<line x1="508.6" y1="743.5" x2="508.6" y2="745.7" stroke="#555555" stroke-width="0.9" />
<text transform="translate(508.6 753.2) scale(0.92 1.0)" font-size="9.1" text-anchor="middle" font-weight="normal" font-style="normal" fill="#444444" color="#444444" >0.6</text>
<line x1="553.9" y1="743.5" x2="553.9" y2="745.7" stroke="#555555" stroke-width="0.9" />
<text transform="translate(553.9 753.2) scale(0.92 1.0)" font-size="9.1" text-anchor="middle" font-weight="normal" font-style="normal" fill="#444444" color="#444444" >0.8</text>
<text x="483.3" y="761" font-size="8.3" text-anchor="middle" font-weight="normal" font-style="normal" fill="#1a1a1a" color="#1a1a1a" >Methylation level of cg19220282</text>
<text x="393" y="608.6" font-size="8.3" text-anchor="start" font-weight="normal" font-style="normal" fill="#111" color="#111" style="stroke-width:0.1px">r = −0.42</text>
<text x="393" y="618.8" font-size="8.3" fill="#111" color="#111" style="stroke-width:0.1px"><tspan font-style="italic">P</tspan> &lt; 0.001</text>
<path d="M395.9 649.8 L402.6 651.79 L409.29 653.77 L415.99 655.74 L422.68 657.71 L429.38 659.67 L436.07 661.62 L442.77 663.55 L449.47 665.47 L456.16 667.37 L462.86 669.24 L469.55 671.08 L476.25 672.9 L482.95 674.65 L489.64 676.3 L496.34 677.88 L503.03 679.41 L509.73 680.91 L516.42 682.38 L523.12 683.84 L529.82 685.28 L536.51 686.72 L543.21 688.15 L549.9 689.58 L556.6 691 L556.6 701 L549.9 698.82 L543.21 696.65 L536.51 694.48 L529.82 692.32 L523.12 690.16 L516.42 688.02 L509.73 685.89 L503.03 683.79 L496.34 681.72 L489.64 679.7 L482.95 677.75 L476.25 675.9 L469.55 674.12 L462.86 672.36 L456.16 670.63 L449.47 668.93 L442.77 667.25 L436.07 665.58 L429.38 663.93 L422.68 662.29 L415.99 660.66 L409.29 659.03 L402.6 657.41 L395.9 655.8 Z" fill="#aaa4a0" fill-opacity="0.6"/>
<g fill="#d4ad40" fill-opacity="0.9"><circle cx="437.28" cy="659.1" r="1.55"/><circle cx="442.13" cy="669.34" r="1.55"/><circle cx="424.89" cy="656.79" r="1.55"/><circle cx="527.19" cy="678.24" r="1.55"/><circle cx="434.28" cy="670.96" r="1.55"/><circle cx="411.05" cy="669.77" r="1.55"/><circle cx="467.11" cy="649.86" r="1.55"/><circle cx="424.12" cy="660.92" r="1.55"/><circle cx="462.12" cy="634.73" r="1.55"/><circle cx="454.28" cy="677.69" r="1.55"/><circle cx="434.8" cy="653.66" r="1.55"/><circle cx="447.63" cy="669.11" r="1.55"/><circle cx="444.93" cy="663.62" r="1.55"/><circle cx="484.99" cy="673.65" r="1.55"/><circle cx="443.1" cy="678.54" r="1.55"/><circle cx="413.66" cy="663.49" r="1.55"/><circle cx="442.73" cy="660.91" r="1.55"/><circle cx="419.08" cy="662.91" r="1.55"/><circle cx="449.5" cy="660.79" r="1.55"/><circle cx="452.86" cy="668.7" r="1.55"/><circle cx="479.86" cy="691.49" r="1.55"/><circle cx="482.43" cy="650.28" r="1.55"/><circle cx="440.14" cy="672.54" r="1.55"/><circle cx="414.56" cy="656.61" r="1.55"/><circle cx="485.73" cy="646.79" r="1.55"/><circle cx="480.88" cy="680.98" r="1.55"/><circle cx="405.29" cy="662.94" r="1.55"/><circle cx="427.52" cy="669.63" r="1.55"/><circle cx="416.7" cy="649.73" r="1.55"/><circle cx="439.72" cy="674.63" r="1.55"/><circle cx="458.41" cy="665.86" r="1.55"/><circle cx="458.74" cy="668.23" r="1.55"/><circle cx="452.7" cy="654.3" r="1.55"/><circle cx="519.92" cy="699.19" r="1.55"/><circle cx="486.41" cy="669.36" r="1.55"/><circle cx="417.6" cy="638.85" r="1.55"/><circle cx="484.63" cy="658.32" r="1.55"/><circle cx="411.33" cy="631.34" r="1.55"/><circle cx="478.66" cy="669" r="1.55"/><circle cx="419.53" cy="651.41" r="1.55"/><circle cx="442.53" cy="640.92" r="1.55"/><circle cx="438.27" cy="656.92" r="1.55"/><circle cx="480.93" cy="689.68" r="1.55"/><circle cx="426.25" cy="640.24" r="1.55"/><circle cx="446.37" cy="646.91" r="1.55"/><circle cx="434.79" cy="661.9" r="1.55"/><circle cx="447.33" cy="652.16" r="1.55"/><circle cx="443.7" cy="674.33" r="1.55"/><circle cx="447.32" cy="646.84" r="1.55"/><circle cx="455.79" cy="671.73" r="1.55"/><circle cx="424.23" cy="649.69" r="1.55"/><circle cx="417.04" cy="652.18" r="1.55"/><circle cx="469.88" cy="673.54" r="1.55"/><circle cx="425.32" cy="650.91" r="1.55"/><circle cx="418.53" cy="663.62" r="1.55"/><circle cx="413.32" cy="660.37" r="1.55"/><circle cx="411.41" cy="642.33" r="1.55"/><circle cx="452.07" cy="669.95" r="1.55"/><circle cx="495.44" cy="692.9" r="1.55"/><circle cx="434.18" cy="673.48" r="1.55"/><circle cx="427.03" cy="648.87" r="1.55"/><circle cx="428.41" cy="680.4" r="1.55"/><circle cx="414.55" cy="648.71" r="1.55"/><circle cx="435.74" cy="672.58" r="1.55"/><circle cx="469.47" cy="665.96" r="1.55"/><circle cx="441.53" cy="662.65" r="1.55"/><circle cx="426.38" cy="676.27" r="1.55"/><circle cx="515.1" cy="683.25" r="1.55"/><circle cx="430.74" cy="670.44" r="1.55"/><circle cx="437.28" cy="661.47" r="1.55"/><circle cx="432.05" cy="685.74" r="1.55"/><circle cx="434.55" cy="658.65" r="1.55"/><circle cx="499.78" cy="645.54" r="1.55"/><circle cx="425.44" cy="670.63" r="1.55"/><circle cx="495.41" cy="647.25" r="1.55"/><circle cx="436.57" cy="670.89" r="1.55"/><circle cx="458.4" cy="675.57" r="1.55"/><circle cx="439.55" cy="629.44" r="1.55"/><circle cx="425.47" cy="665.65" r="1.55"/><circle cx="418.89" cy="657.61" r="1.55"/><circle cx="439.67" cy="678.12" r="1.55"/><circle cx="472.47" cy="661.32" r="1.55"/><circle cx="420.99" cy="664.84" r="1.55"/><circle cx="488.16" cy="672.91" r="1.55"/><circle cx="434.85" cy="662.04" r="1.55"/><circle cx="428.33" cy="644.27" r="1.55"/><circle cx="429.5" cy="645.88" r="1.55"/><circle cx="494.88" cy="663.45" r="1.55"/><circle cx="426.88" cy="630.67" r="1.55"/><circle cx="409.81" cy="639.99" r="1.55"/><circle cx="454.66" cy="680.63" r="1.55"/><circle cx="443.21" cy="657.01" r="1.55"/><circle cx="415.89" cy="670.39" r="1.55"/><circle cx="457.54" cy="665.31" r="1.55"/><circle cx="429.96" cy="651.98" r="1.55"/><circle cx="447.14" cy="667.45" r="1.55"/><circle cx="445.27" cy="635.88" r="1.55"/><circle cx="427.26" cy="658.1" r="1.55"/><circle cx="450.86" cy="635.5" r="1.55"/><circle cx="484.69" cy="676.56" r="1.55"/><circle cx="471.21" cy="666.69" r="1.55"/><circle cx="425.54" cy="666.2" r="1.55"/><circle cx="493.27" cy="683.2" r="1.55"/><circle cx="455.76" cy="694.6" r="1.55"/><circle cx="418.04" cy="671.94" r="1.55"/><circle cx="423.02" cy="659.2" r="1.55"/><circle cx="467.32" cy="681.65" r="1.55"/><circle cx="447.34" cy="652.4" r="1.55"/><circle cx="406.42" cy="670.47" r="1.55"/><circle cx="480.81" cy="649.81" r="1.55"/><circle cx="453.49" cy="684.05" r="1.55"/><circle cx="427.76" cy="668.95" r="1.55"/><circle cx="412.95" cy="663.72" r="1.55"/><circle cx="470.99" cy="665.16" r="1.55"/><circle cx="454.46" cy="642.24" r="1.55"/><circle cx="456.87" cy="651.75" r="1.55"/><circle cx="455.57" cy="655.75" r="1.55"/><circle cx="418.44" cy="667.54" r="1.55"/><circle cx="446.58" cy="652.72" r="1.55"/><circle cx="474.38" cy="680.51" r="1.55"/><circle cx="423.91" cy="683.43" r="1.55"/><circle cx="453.64" cy="668.34" r="1.55"/><circle cx="426.81" cy="659.41" r="1.55"/><circle cx="512.35" cy="682.89" r="1.55"/><circle cx="430.54" cy="639.74" r="1.55"/><circle cx="468.5" cy="674.91" r="1.55"/><circle cx="506.42" cy="673.78" r="1.55"/><circle cx="511.38" cy="682.31" r="1.55"/><circle cx="429.33" cy="661.33" r="1.55"/><circle cx="412.27" cy="637.94" r="1.55"/><circle cx="420.43" cy="649.52" r="1.55"/><circle cx="489.78" cy="688.27" r="1.55"/><circle cx="422.13" cy="671.78" r="1.55"/><circle cx="436.5" cy="658.96" r="1.55"/><circle cx="474.93" cy="662.12" r="1.55"/><circle cx="470.61" cy="668.69" r="1.55"/><circle cx="476.16" cy="676.01" r="1.55"/><circle cx="405.99" cy="634.1" r="1.55"/><circle cx="424.74" cy="638.8" r="1.55"/><circle cx="449.89" cy="678.73" r="1.55"/><circle cx="410.85" cy="671.94" r="1.55"/><circle cx="491.61" cy="662.55" r="1.55"/><circle cx="424.03" cy="656.65" r="1.55"/><circle cx="428.64" cy="652.17" r="1.55"/><circle cx="417.61" cy="632.09" r="1.55"/><circle cx="478.88" cy="668.87" r="1.55"/><circle cx="422.94" cy="639.18" r="1.55"/><circle cx="410.85" cy="624.77" r="1.55"/><circle cx="448.41" cy="661.48" r="1.55"/><circle cx="435.25" cy="681.78" r="1.55"/><circle cx="430.49" cy="677.86" r="1.55"/><circle cx="441.61" cy="668.46" r="1.55"/><circle cx="507.62" cy="662.62" r="1.55"/><circle cx="432.86" cy="667.3" r="1.55"/><circle cx="438.68" cy="684.07" r="1.55"/><circle cx="461.56" cy="638.51" r="1.55"/><circle cx="505.35" cy="678.16" r="1.55"/><circle cx="423.3" cy="655.89" r="1.55"/><circle cx="420.9" cy="641.76" r="1.55"/><circle cx="484.31" cy="635.21" r="1.55"/><circle cx="422.43" cy="654.59" r="1.55"/><circle cx="521.83" cy="667.08" r="1.55"/><circle cx="537.27" cy="675.35" r="1.55"/><circle cx="471.02" cy="660.89" r="1.55"/><circle cx="501.58" cy="695.66" r="1.55"/><circle cx="549.62" cy="683.46" r="1.55"/><circle cx="433.65" cy="666.46" r="1.55"/><circle cx="515.01" cy="698.96" r="1.55"/><circle cx="416.84" cy="654.17" r="1.55"/><circle cx="463.05" cy="682.58" r="1.55"/><circle cx="471.54" cy="665.2" r="1.55"/><circle cx="433.55" cy="649.38" r="1.55"/><circle cx="498.89" cy="672.44" r="1.55"/><circle cx="438.36" cy="673.06" r="1.55"/><circle cx="459.68" cy="667.49" r="1.55"/><circle cx="435.19" cy="646.38" r="1.55"/><circle cx="468.32" cy="694.73" r="1.55"/><circle cx="412.12" cy="644.04" r="1.55"/><circle cx="415.69" cy="688.24" r="1.55"/><circle cx="508.63" cy="651.89" r="1.55"/><circle cx="421.97" cy="669.91" r="1.55"/><circle cx="517.32" cy="700.87" r="1.55"/><circle cx="424.41" cy="640.63" r="1.55"/><circle cx="417.78" cy="645.65" r="1.55"/><circle cx="407.24" cy="640.47" r="1.55"/><circle cx="457.96" cy="661.97" r="1.55"/><circle cx="445.51" cy="637.03" r="1.55"/><circle cx="409.79" cy="681.25" r="1.55"/><circle cx="423.97" cy="651.15" r="1.55"/><circle cx="449.81" cy="656.97" r="1.55"/><circle cx="444.6" cy="660.82" r="1.55"/><circle cx="428.3" cy="646.43" r="1.55"/><circle cx="445.91" cy="659.03" r="1.55"/><circle cx="442.55" cy="672.75" r="1.55"/><circle cx="444.25" cy="663.77" r="1.55"/><circle cx="413.32" cy="656.17" r="1.55"/><circle cx="439.67" cy="655.41" r="1.55"/><circle cx="435.99" cy="639.69" r="1.55"/><circle cx="520.19" cy="690.86" r="1.55"/><circle cx="414.44" cy="655.51" r="1.55"/><circle cx="453.52" cy="637.81" r="1.55"/><circle cx="423.42" cy="669.31" r="1.55"/><circle cx="426.69" cy="668.4" r="1.55"/><circle cx="410.97" cy="663.2" r="1.55"/><circle cx="456.24" cy="640.8" r="1.55"/><circle cx="487.25" cy="672.07" r="1.55"/><circle cx="441.44" cy="668.08" r="1.55"/><circle cx="441.97" cy="691.26" r="1.55"/><circle cx="477.15" cy="676.58" r="1.55"/><circle cx="411.5" cy="674.51" r="1.55"/><circle cx="408.57" cy="641.01" r="1.55"/><circle cx="449.53" cy="658.31" r="1.55"/><circle cx="484.48" cy="688.82" r="1.55"/><circle cx="447.77" cy="679.97" r="1.55"/><circle cx="471.29" cy="693.35" r="1.55"/><circle cx="420.98" cy="675.69" r="1.55"/><circle cx="442.82" cy="675.99" r="1.55"/><circle cx="427.57" cy="650.66" r="1.55"/><circle cx="438.85" cy="650.04" r="1.55"/><circle cx="429.47" cy="638.3" r="1.55"/><circle cx="416" cy="667.37" r="1.55"/><circle cx="470.67" cy="669.39" r="1.55"/><circle cx="431.44" cy="656.6" r="1.55"/><circle cx="464.17" cy="655.72" r="1.55"/><circle cx="409.53" cy="632.71" r="1.55"/><circle cx="435.99" cy="671.67" r="1.55"/><circle cx="488.02" cy="666.56" r="1.55"/><circle cx="452.96" cy="660.73" r="1.55"/><circle cx="443.61" cy="668.18" r="1.55"/><circle cx="479.26" cy="661.38" r="1.55"/><circle cx="458.68" cy="654.45" r="1.55"/><circle cx="411.3" cy="664.44" r="1.55"/><circle cx="450.05" cy="646.78" r="1.55"/><circle cx="437.11" cy="667.67" r="1.55"/><circle cx="465.54" cy="665.78" r="1.55"/><circle cx="424.48" cy="661.29" r="1.55"/><circle cx="513.5" cy="708.87" r="1.55"/><circle cx="460.69" cy="673.85" r="1.55"/><circle cx="444.62" cy="664.14" r="1.55"/><circle cx="447.53" cy="657.47" r="1.55"/><circle cx="434.7" cy="660.51" r="1.55"/><circle cx="423.78" cy="637.83" r="1.55"/><circle cx="456.18" cy="656.84" r="1.55"/><circle cx="433.77" cy="671.54" r="1.55"/><circle cx="466.52" cy="648.92" r="1.55"/><circle cx="427.09" cy="675.66" r="1.55"/><circle cx="457.47" cy="667.22" r="1.55"/><circle cx="433.2" cy="662.13" r="1.55"/><circle cx="425.95" cy="668.47" r="1.55"/><circle cx="508.7" cy="697.28" r="1.55"/><circle cx="445.86" cy="666.45" r="1.55"/><circle cx="406.91" cy="671.67" r="1.55"/><circle cx="447.37" cy="665.15" r="1.55"/><circle cx="426.9" cy="662.2" r="1.55"/><circle cx="460.83" cy="641.71" r="1.55"/><circle cx="419.07" cy="680.81" r="1.55"/><circle cx="414.93" cy="645.62" r="1.55"/><circle cx="441.39" cy="667.9" r="1.55"/><circle cx="410.19" cy="661.63" r="1.55"/><circle cx="448.57" cy="657.86" r="1.55"/><circle cx="462.34" cy="675.75" r="1.55"/><circle cx="407.49" cy="648.92" r="1.55"/><circle cx="427.85" cy="643.93" r="1.55"/><circle cx="427.74" cy="654.75" r="1.55"/><circle cx="460.81" cy="654.8" r="1.55"/><circle cx="421.64" cy="670.78" r="1.55"/><circle cx="455.08" cy="688.92" r="1.55"/><circle cx="452.31" cy="669.51" r="1.55"/><circle cx="409.36" cy="647.89" r="1.55"/><circle cx="468.61" cy="676.22" r="1.55"/><circle cx="441.17" cy="654.44" r="1.55"/><circle cx="408.31" cy="648.44" r="1.55"/><circle cx="486.82" cy="653.45" r="1.55"/><circle cx="434.19" cy="647.38" r="1.55"/><circle cx="419.73" cy="654.88" r="1.55"/><circle cx="444.87" cy="656.07" r="1.55"/><circle cx="478.01" cy="668.88" r="1.55"/><circle cx="455.88" cy="656.58" r="1.55"/><circle cx="445.59" cy="671.49" r="1.55"/><circle cx="436.07" cy="629.41" r="1.55"/><circle cx="446.41" cy="640.86" r="1.55"/><circle cx="421.09" cy="662.05" r="1.55"/><circle cx="435.3" cy="652.4" r="1.55"/><circle cx="461.12" cy="638.22" r="1.55"/><circle cx="404.39" cy="653.23" r="1.55"/><circle cx="525.31" cy="671.81" r="1.55"/><circle cx="475.68" cy="665.16" r="1.55"/><circle cx="402.44" cy="664.79" r="1.55"/><circle cx="413.89" cy="630.11" r="1.55"/><circle cx="407.26" cy="686.36" r="1.55"/><circle cx="469.16" cy="663.66" r="1.55"/><circle cx="455.27" cy="667.31" r="1.55"/><circle cx="463.41" cy="708.06" r="1.55"/><circle cx="451.11" cy="653.77" r="1.55"/><circle cx="437.86" cy="668.64" r="1.55"/><circle cx="456.72" cy="674.33" r="1.55"/><circle cx="414.9" cy="661.11" r="1.55"/><circle cx="449.04" cy="674.43" r="1.55"/><circle cx="424.35" cy="649.09" r="1.55"/><circle cx="433.76" cy="654.43" r="1.55"/><circle cx="409.69" cy="670.78" r="1.55"/><circle cx="468.78" cy="674.71" r="1.55"/><circle cx="470.61" cy="678.35" r="1.55"/><circle cx="437.14" cy="655.89" r="1.55"/><circle cx="452.71" cy="661.05" r="1.55"/><circle cx="442.89" cy="658.77" r="1.55"/><circle cx="434.93" cy="667.34" r="1.55"/><circle cx="420.55" cy="682.64" r="1.55"/><circle cx="493.59" cy="709.09" r="1.55"/><circle cx="433.42" cy="650.88" r="1.55"/><circle cx="413.98" cy="672.53" r="1.55"/><circle cx="477.89" cy="676" r="1.55"/><circle cx="467.04" cy="675.99" r="1.55"/><circle cx="416.7" cy="655.12" r="1.55"/><circle cx="449.99" cy="649.05" r="1.55"/><circle cx="422.89" cy="667.19" r="1.55"/><circle cx="402.84" cy="653.57" r="1.55"/><circle cx="439.05" cy="666.87" r="1.55"/><circle cx="441.27" cy="661.99" r="1.55"/><circle cx="413.57" cy="623.29" r="1.55"/><circle cx="474.9" cy="691.09" r="1.55"/><circle cx="446.65" cy="675.65" r="1.55"/><circle cx="443.2" cy="634.67" r="1.55"/><circle cx="435.19" cy="675.04" r="1.55"/><circle cx="445.11" cy="680.4" r="1.55"/><circle cx="414.36" cy="635.46" r="1.55"/><circle cx="442.86" cy="640.52" r="1.55"/><circle cx="428.7" cy="655.72" r="1.55"/><circle cx="430.71" cy="678.11" r="1.55"/><circle cx="450.62" cy="678.82" r="1.55"/><circle cx="429.61" cy="661.3" r="1.55"/><circle cx="429.95" cy="663.14" r="1.55"/><circle cx="421.9" cy="637.8" r="1.55"/><circle cx="439.71" cy="658.22" r="1.55"/><circle cx="463.24" cy="651.76" r="1.55"/><circle cx="442.91" cy="665.84" r="1.55"/><circle cx="476.97" cy="677.5" r="1.55"/><circle cx="405.83" cy="637.54" r="1.55"/><circle cx="529.32" cy="674.39" r="1.55"/><circle cx="439.09" cy="659.66" r="1.55"/><circle cx="426.12" cy="652.83" r="1.55"/><circle cx="469.13" cy="669.56" r="1.55"/><circle cx="478.78" cy="634.56" r="1.55"/><circle cx="444.87" cy="647.38" r="1.55"/><circle cx="422.32" cy="662.97" r="1.55"/><circle cx="422.55" cy="647.34" r="1.55"/><circle cx="418.84" cy="661.43" r="1.55"/><circle cx="425.39" cy="654.58" r="1.55"/><circle cx="500.89" cy="692.93" r="1.55"/><circle cx="506.63" cy="687.43" r="1.55"/><circle cx="489.84" cy="677.82" r="1.55"/><circle cx="510.96" cy="689.8" r="1.55"/><circle cx="407.48" cy="641.06" r="1.55"/><circle cx="417.53" cy="659.43" r="1.55"/><circle cx="440.3" cy="668.87" r="1.55"/><circle cx="432.38" cy="650.5" r="1.55"/><circle cx="445.33" cy="671.14" r="1.55"/><circle cx="535.69" cy="693.82" r="1.55"/><circle cx="419.09" cy="657.12" r="1.55"/><circle cx="447.75" cy="671.75" r="1.55"/><circle cx="451.5" cy="646.01" r="1.55"/><circle cx="515.49" cy="679.28" r="1.55"/><circle cx="443.38" cy="652.36" r="1.55"/><circle cx="435.71" cy="657.12" r="1.55"/><circle cx="414.92" cy="676.05" r="1.55"/><circle cx="422.5" cy="652.71" r="1.55"/><circle cx="423.56" cy="660.15" r="1.55"/><circle cx="467.01" cy="654.12" r="1.55"/><circle cx="495.79" cy="667.93" r="1.55"/><circle cx="426.28" cy="653.31" r="1.55"/><circle cx="427.93" cy="658.82" r="1.55"/><circle cx="450.56" cy="680.34" r="1.55"/><circle cx="466.96" cy="680.2" r="1.55"/><circle cx="454.16" cy="651.34" r="1.55"/><circle cx="442.86" cy="661.24" r="1.55"/><circle cx="458.75" cy="678.41" r="1.55"/><circle cx="421.53" cy="662.68" r="1.55"/><circle cx="430.79" cy="643.14" r="1.55"/><circle cx="429.99" cy="679.78" r="1.55"/><circle cx="467.7" cy="690.48" r="1.55"/><circle cx="532.83" cy="663.84" r="1.55"/><circle cx="542.02" cy="671.35" r="1.55"/><circle cx="460.49" cy="656.69" r="1.55"/><circle cx="521.52" cy="700.34" r="1.55"/><circle cx="436.82" cy="666.39" r="1.55"/><circle cx="488.06" cy="670.22" r="1.55"/><circle cx="484.92" cy="681.15" r="1.55"/><circle cx="437.65" cy="644.89" r="1.55"/><circle cx="431.78" cy="658.01" r="1.55"/><circle cx="486.34" cy="680.71" r="1.55"/><circle cx="466.05" cy="666.9" r="1.55"/><circle cx="458.53" cy="635" r="1.55"/><circle cx="416.39" cy="643.05" r="1.55"/><circle cx="411.12" cy="651.03" r="1.55"/><circle cx="424.94" cy="659.88" r="1.55"/><circle cx="420.53" cy="649.59" r="1.55"/><circle cx="436.27" cy="657.77" r="1.55"/><circle cx="429.46" cy="637.08" r="1.55"/><circle cx="427.46" cy="646.51" r="1.55"/><circle cx="401.74" cy="651.38" r="1.55"/><circle cx="411.52" cy="652.41" r="1.55"/><circle cx="436.1" cy="650.37" r="1.55"/><circle cx="431.4" cy="682.51" r="1.55"/><circle cx="469.64" cy="647.43" r="1.55"/><circle cx="440.62" cy="709.02" r="1.55"/><circle cx="413.9" cy="680.7" r="1.55"/><circle cx="496.74" cy="638.71" r="1.55"/><circle cx="432.73" cy="622.36" r="1.55"/><circle cx="444.12" cy="674.57" r="1.55"/><circle cx="431.43" cy="661.66" r="1.55"/><circle cx="463.04" cy="691.52" r="1.55"/><circle cx="457.01" cy="657.8" r="1.55"/><circle cx="490.23" cy="658.27" r="1.55"/><circle cx="420.07" cy="652.21" r="1.55"/><circle cx="413.3" cy="672.55" r="1.55"/><circle cx="497.3" cy="671.15" r="1.55"/><circle cx="415.93" cy="691.99" r="1.55"/><circle cx="434.47" cy="681.93" r="1.55"/><circle cx="426.89" cy="658.2" r="1.55"/><circle cx="427.24" cy="676.65" r="1.55"/><circle cx="434.92" cy="609.3" r="1.55"/><circle cx="430.98" cy="616.39" r="1.55"/><circle cx="442.8" cy="618.23" r="1.55"/><circle cx="421.78" cy="620.33" r="1.55"/><circle cx="409.96" cy="626.11" r="1.55"/><circle cx="399.45" cy="632.94" r="1.55"/><circle cx="492.2" cy="632.94" r="1.55"/><circle cx="484.32" cy="634.78" r="1.55"/><circle cx="533.45" cy="650.55" r="1.55"/><circle cx="542.65" cy="658.43" r="1.55"/><circle cx="549.21" cy="678.14" r="1.55"/><circle cx="557.1" cy="701.78" r="1.55"/><circle cx="395.51" cy="665.79" r="1.55"/><circle cx="401.29" cy="680.76" r="1.55"/><circle cx="420.47" cy="724.12" r="1.55"/><circle cx="430.98" cy="732.52" r="1.55"/><circle cx="437.02" cy="722.01" r="1.55"/><circle cx="480.38" cy="725.96" r="1.55"/><circle cx="497.45" cy="737.25" r="1.55"/><circle cx="517.16" cy="716.23" r="1.55"/><circle cx="521.63" cy="716.23" r="1.55"/><circle cx="538.7" cy="725.43" r="1.55"/><circle cx="531.61" cy="713.08" r="1.55"/><circle cx="542.65" cy="709.67" r="1.55"/><circle cx="519" cy="653.96" r="1.55"/><circle cx="515.06" cy="653.96" r="1.55"/><circle cx="528.19" cy="660.27" r="1.55"/><circle cx="349.2" cy="685.4" r="1.55"/></g>
<g fill="#3f66a7" fill-opacity="0.9"><circle cx="444.12" cy="683.39" r="1.55"/><circle cx="472.49" cy="685.49" r="1.55"/><circle cx="474.33" cy="705.72" r="1.55"/><circle cx="479.59" cy="705.2" r="1.55"/><circle cx="480.38" cy="697.32" r="1.55"/><circle cx="482.21" cy="694.69" r="1.55"/><circle cx="484.32" cy="697.32" r="1.55"/><circle cx="487.47" cy="701" r="1.55"/><circle cx="484.84" cy="704.41" r="1.55"/><circle cx="489.57" cy="699.16" r="1.55"/><circle cx="491.41" cy="703.1" r="1.55"/><circle cx="495.35" cy="703.1" r="1.55"/><circle cx="480.11" cy="699.94" r="1.55"/><circle cx="505.34" cy="702.57" r="1.55"/><circle cx="506.65" cy="706.51" r="1.55"/><circle cx="511.12" cy="695.21" r="1.55"/><circle cx="504.55" cy="680.76" r="1.55"/></g>
<line x1="395.9" y1="652.8" x2="556.6" y2="696" stroke="#1e1e1e" stroke-width="0.9" />
</svg></body></html>
